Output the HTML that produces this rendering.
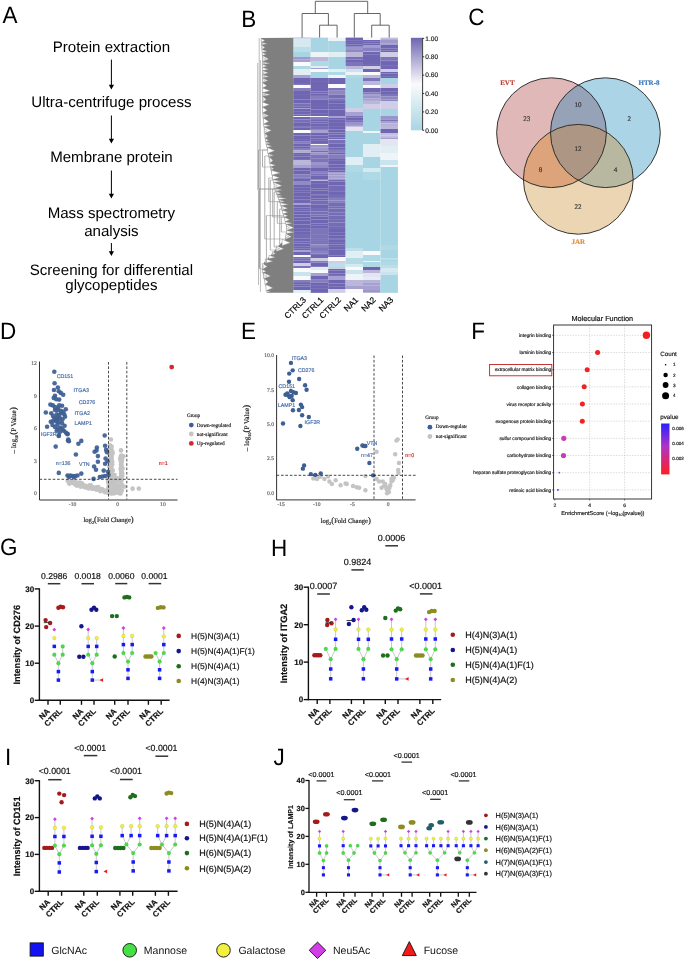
<!DOCTYPE html>
<html><head><meta charset="utf-8"><title>Figure</title>
<style>html,body{margin:0;padding:0;background:#fff;} body{width:685px;height:960px;overflow:hidden;} svg{display:block;text-rendering:geometricPrecision;will-change:transform;}</style>
</head><body>
<svg width="685" height="960" viewBox="0 0 685 960">
<rect x="0" y="0" width="685" height="960" fill="#fff"/>
<text transform="translate(2.50,23.00) scale(1,1.05)" x="0" y="0" font-size="22.5" fill="#000" font-family='"Liberation Sans", sans-serif'>A</text>
<text x="111.40" y="52.40" font-size="15.1" text-anchor="middle" font-weight="normal" fill="#000" font-family='"Liberation Sans", sans-serif' >Protein extraction</text>
<text x="111.40" y="107.40" font-size="15.1" text-anchor="middle" font-weight="normal" fill="#000" font-family='"Liberation Sans", sans-serif' >Ultra-centrifuge process</text>
<text x="111.40" y="162.00" font-size="15.1" text-anchor="middle" font-weight="normal" fill="#000" font-family='"Liberation Sans", sans-serif' >Membrane protein</text>
<text x="111.40" y="217.60" font-size="15.1" text-anchor="middle" font-weight="normal" fill="#000" font-family='"Liberation Sans", sans-serif' >Mass spectrometry</text>
<text x="111.40" y="236.00" font-size="15.1" text-anchor="middle" font-weight="normal" fill="#000" font-family='"Liberation Sans", sans-serif' >analysis</text>
<text x="111.40" y="275.00" font-size="15.1" text-anchor="middle" font-weight="normal" fill="#000" font-family='"Liberation Sans", sans-serif' >Screening for differential</text>
<text x="111.40" y="290.00" font-size="15.1" text-anchor="middle" font-weight="normal" fill="#000" font-family='"Liberation Sans", sans-serif' >glycopeptides</text>
<line x1="111.40" y1="59.60" x2="111.40" y2="86.50" stroke="#000" stroke-width="1" />
<path d="M108.80,84.70 L114.00,84.70 L111.40,89.50 Z" fill="#000"/>
<line x1="111.40" y1="115.50" x2="111.40" y2="140.50" stroke="#000" stroke-width="1" />
<path d="M108.80,138.70 L114.00,138.70 L111.40,143.50 Z" fill="#000"/>
<line x1="111.40" y1="170.50" x2="111.40" y2="195.50" stroke="#000" stroke-width="1" />
<path d="M108.80,193.70 L114.00,193.70 L111.40,198.50 Z" fill="#000"/>
<line x1="111.40" y1="243.00" x2="111.40" y2="253.00" stroke="#000" stroke-width="1" />
<path d="M108.80,251.20 L114.00,251.20 L111.40,256.00 Z" fill="#000"/>
<text transform="translate(241.20,26.80) scale(1,1.05)" x="0" y="0" font-size="22.5" fill="#000" font-family='"Liberation Sans", sans-serif'>B</text>
<rect x="293.20" y="37.60" width="17.55" height="0.95" fill="#a6a1d0" stroke="none" stroke-width="0" />
<rect x="293.20" y="38.50" width="17.55" height="8.55" fill="#d5e9f1" stroke="none" stroke-width="0" />
<rect x="293.20" y="47.00" width="17.55" height="5.05" fill="#bcdee9" stroke="none" stroke-width="0" />
<rect x="293.20" y="52.00" width="17.55" height="5.05" fill="#a8d5e3" stroke="none" stroke-width="0" />
<rect x="293.20" y="57.00" width="17.55" height="2.68" fill="#9e98cb" stroke="none" stroke-width="0" />
<rect x="293.20" y="59.63" width="17.55" height="2.42" fill="#a6a1d0" stroke="none" stroke-width="0" />
<rect x="293.20" y="62.00" width="17.55" height="4.05" fill="#fafafc" stroke="none" stroke-width="0" />
<rect x="293.20" y="66.00" width="17.55" height="3.05" fill="#b0d9e6" stroke="none" stroke-width="0" />
<rect x="293.20" y="69.00" width="17.55" height="6.05" fill="#e1eff4" stroke="none" stroke-width="0" />
<rect x="293.20" y="75.00" width="17.55" height="3.05" fill="#a6a1d0" stroke="none" stroke-width="0" />
<rect x="293.20" y="78.00" width="17.55" height="2.01" fill="#6e66b2" stroke="none" stroke-width="0" />
<rect x="293.20" y="79.96" width="17.55" height="3.12" fill="#6e66b2" stroke="none" stroke-width="0" />
<rect x="293.20" y="83.04" width="17.55" height="1.79" fill="#6e66b2" stroke="none" stroke-width="0" />
<rect x="293.20" y="84.77" width="17.55" height="0.28" fill="#6e66b2" stroke="none" stroke-width="0" />
<rect x="293.20" y="85.00" width="17.55" height="3.05" fill="#fafafc" stroke="none" stroke-width="0" />
<rect x="293.20" y="88.00" width="17.55" height="3.04" fill="#847ebe" stroke="none" stroke-width="0" />
<rect x="293.20" y="90.99" width="17.55" height="3.96" fill="#6e66b2" stroke="none" stroke-width="0" />
<rect x="293.20" y="94.90" width="17.55" height="3.11" fill="#6e66b2" stroke="none" stroke-width="0" />
<rect x="293.20" y="97.96" width="17.55" height="1.70" fill="#6e66b2" stroke="none" stroke-width="0" />
<rect x="293.20" y="99.61" width="17.55" height="3.75" fill="#6e66b2" stroke="none" stroke-width="0" />
<rect x="293.20" y="103.31" width="17.55" height="3.50" fill="#7870b7" stroke="none" stroke-width="0" />
<rect x="293.20" y="106.75" width="17.55" height="1.30" fill="#6e66b2" stroke="none" stroke-width="0" />
<rect x="293.20" y="108.00" width="17.55" height="1.05" fill="#a6a1d0" stroke="none" stroke-width="0" />
<rect x="293.20" y="109.00" width="17.55" height="2.85" fill="#6e66b2" stroke="none" stroke-width="0" />
<rect x="293.20" y="111.80" width="17.55" height="2.80" fill="#6e66b2" stroke="none" stroke-width="0" />
<rect x="293.20" y="114.55" width="17.55" height="1.50" fill="#6e66b2" stroke="none" stroke-width="0" />
<rect x="293.20" y="116.00" width="17.55" height="1.05" fill="#fafafc" stroke="none" stroke-width="0" />
<rect x="293.20" y="117.00" width="17.55" height="2.57" fill="#6e66b2" stroke="none" stroke-width="0" />
<rect x="293.20" y="119.52" width="17.55" height="3.32" fill="#7870b7" stroke="none" stroke-width="0" />
<rect x="293.20" y="122.79" width="17.55" height="3.44" fill="#6e66b2" stroke="none" stroke-width="0" />
<rect x="293.20" y="126.18" width="17.55" height="1.62" fill="#6e66b2" stroke="none" stroke-width="0" />
<rect x="293.20" y="127.76" width="17.55" height="2.29" fill="#6e66b2" stroke="none" stroke-width="0" />
<rect x="293.20" y="130.00" width="17.55" height="3.05" fill="#fafafc" stroke="none" stroke-width="0" />
<rect x="293.20" y="133.00" width="17.55" height="2.52" fill="#6e66b2" stroke="none" stroke-width="0" />
<rect x="293.20" y="135.47" width="17.55" height="3.67" fill="#6e66b2" stroke="none" stroke-width="0" />
<rect x="293.20" y="139.08" width="17.55" height="2.08" fill="#6e66b2" stroke="none" stroke-width="0" />
<rect x="293.20" y="141.12" width="17.55" height="2.72" fill="#847ebe" stroke="none" stroke-width="0" />
<rect x="293.20" y="143.79" width="17.55" height="2.60" fill="#6e66b2" stroke="none" stroke-width="0" />
<rect x="293.20" y="146.34" width="17.55" height="1.71" fill="#6e66b2" stroke="none" stroke-width="0" />
<rect x="293.20" y="148.00" width="17.55" height="2.39" fill="#847ebe" stroke="none" stroke-width="0" />
<rect x="293.20" y="150.34" width="17.55" height="2.38" fill="#aeaad4" stroke="none" stroke-width="0" />
<rect x="293.20" y="152.67" width="17.55" height="0.38" fill="#918bc4" stroke="none" stroke-width="0" />
<rect x="293.20" y="153.00" width="17.55" height="1.89" fill="#6e66b2" stroke="none" stroke-width="0" />
<rect x="293.20" y="154.84" width="17.55" height="1.58" fill="#6e66b2" stroke="none" stroke-width="0" />
<rect x="293.20" y="156.36" width="17.55" height="3.54" fill="#6e66b2" stroke="none" stroke-width="0" />
<rect x="293.20" y="159.86" width="17.55" height="0.19" fill="#6e66b2" stroke="none" stroke-width="0" />
<rect x="293.20" y="160.00" width="17.55" height="5.05" fill="#bbb7db" stroke="none" stroke-width="0" />
<rect x="293.20" y="165.00" width="17.55" height="3.05" fill="#a6a1d0" stroke="none" stroke-width="0" />
<rect x="293.20" y="168.00" width="17.55" height="2.67" fill="#6e66b2" stroke="none" stroke-width="0" />
<rect x="293.20" y="170.62" width="17.55" height="4.01" fill="#6e66b2" stroke="none" stroke-width="0" />
<rect x="293.20" y="174.58" width="17.55" height="2.60" fill="#847ebe" stroke="none" stroke-width="0" />
<rect x="293.20" y="177.13" width="17.55" height="1.84" fill="#847ebe" stroke="none" stroke-width="0" />
<rect x="293.20" y="178.92" width="17.55" height="2.13" fill="#6e66b2" stroke="none" stroke-width="0" />
<rect x="293.20" y="181.00" width="17.55" height="4.05" fill="#918bc4" stroke="none" stroke-width="0" />
<rect x="293.20" y="185.00" width="17.55" height="2.22" fill="#6e66b2" stroke="none" stroke-width="0" />
<rect x="293.20" y="187.17" width="17.55" height="3.03" fill="#6e66b2" stroke="none" stroke-width="0" />
<rect x="293.20" y="190.16" width="17.55" height="2.08" fill="#6e66b2" stroke="none" stroke-width="0" />
<rect x="293.20" y="192.18" width="17.55" height="4.04" fill="#6e66b2" stroke="none" stroke-width="0" />
<rect x="293.20" y="196.17" width="17.55" height="3.15" fill="#6e66b2" stroke="none" stroke-width="0" />
<rect x="293.20" y="199.28" width="17.55" height="1.66" fill="#6e66b2" stroke="none" stroke-width="0" />
<rect x="293.20" y="200.88" width="17.55" height="2.08" fill="#6e66b2" stroke="none" stroke-width="0" />
<rect x="293.20" y="202.92" width="17.55" height="0.13" fill="#6e66b2" stroke="none" stroke-width="0" />
<rect x="293.20" y="203.00" width="17.55" height="2.05" fill="#a6a1d0" stroke="none" stroke-width="0" />
<rect x="293.20" y="205.00" width="17.55" height="2.37" fill="#6e66b2" stroke="none" stroke-width="0" />
<rect x="293.20" y="207.32" width="17.55" height="2.52" fill="#6e66b2" stroke="none" stroke-width="0" />
<rect x="293.20" y="209.79" width="17.55" height="1.78" fill="#6e66b2" stroke="none" stroke-width="0" />
<rect x="293.20" y="211.51" width="17.55" height="3.14" fill="#6e66b2" stroke="none" stroke-width="0" />
<rect x="293.20" y="214.60" width="17.55" height="3.05" fill="#6e66b2" stroke="none" stroke-width="0" />
<rect x="293.20" y="217.61" width="17.55" height="3.11" fill="#6e66b2" stroke="none" stroke-width="0" />
<rect x="293.20" y="220.66" width="17.55" height="3.95" fill="#6e66b2" stroke="none" stroke-width="0" />
<rect x="293.20" y="224.56" width="17.55" height="3.63" fill="#6e66b2" stroke="none" stroke-width="0" />
<rect x="293.20" y="228.14" width="17.55" height="3.72" fill="#6e66b2" stroke="none" stroke-width="0" />
<rect x="293.20" y="231.81" width="17.55" height="3.12" fill="#6e66b2" stroke="none" stroke-width="0" />
<rect x="293.20" y="234.88" width="17.55" height="3.82" fill="#746cb5" stroke="none" stroke-width="0" />
<rect x="293.20" y="238.65" width="17.55" height="3.08" fill="#6f67b3" stroke="none" stroke-width="0" />
<rect x="293.20" y="241.67" width="17.55" height="2.02" fill="#6f67b3" stroke="none" stroke-width="0" />
<rect x="293.20" y="243.65" width="17.55" height="3.12" fill="#6e66b2" stroke="none" stroke-width="0" />
<rect x="293.20" y="246.72" width="17.55" height="2.04" fill="#6e66b2" stroke="none" stroke-width="0" />
<rect x="293.20" y="248.71" width="17.55" height="1.34" fill="#6e66b2" stroke="none" stroke-width="0" />
<rect x="293.20" y="250.00" width="17.55" height="2.05" fill="#a6a1d0" stroke="none" stroke-width="0" />
<rect x="293.20" y="252.00" width="17.55" height="3.05" fill="#6e66b2" stroke="none" stroke-width="0" />
<rect x="293.20" y="255.00" width="17.55" height="2.05" fill="#fafafc" stroke="none" stroke-width="0" />
<rect x="293.20" y="257.00" width="17.55" height="1.75" fill="#746cb5" stroke="none" stroke-width="0" />
<rect x="293.20" y="258.70" width="17.55" height="1.81" fill="#746cb5" stroke="none" stroke-width="0" />
<rect x="293.20" y="260.46" width="17.55" height="2.59" fill="#6e66b2" stroke="none" stroke-width="0" />
<rect x="293.20" y="263.00" width="17.55" height="3.05" fill="#d0cee6" stroke="none" stroke-width="0" />
<rect x="293.20" y="266.00" width="17.55" height="2.05" fill="#7c75b9" stroke="none" stroke-width="0" />
<rect x="293.20" y="268.00" width="17.55" height="4.05" fill="#fafafc" stroke="none" stroke-width="0" />
<rect x="293.20" y="272.00" width="17.55" height="4.05" fill="#c9e4ed" stroke="none" stroke-width="0" />
<rect x="293.20" y="276.00" width="17.55" height="4.05" fill="#fafafc" stroke="none" stroke-width="0" />
<rect x="293.20" y="280.00" width="17.55" height="2.15" fill="#847ebe" stroke="none" stroke-width="0" />
<rect x="293.20" y="282.10" width="17.55" height="2.19" fill="#6e66b2" stroke="none" stroke-width="0" />
<rect x="293.20" y="284.24" width="17.55" height="2.28" fill="#6e66b2" stroke="none" stroke-width="0" />
<rect x="293.20" y="286.47" width="17.55" height="3.58" fill="#6e66b2" stroke="none" stroke-width="0" />
<rect x="293.20" y="290.00" width="17.55" height="2.85" fill="#e1eff4" stroke="none" stroke-width="0" />
<rect x="310.70" y="37.60" width="17.55" height="14.45" fill="#a8d5e3" stroke="none" stroke-width="0" />
<rect x="310.70" y="52.00" width="17.55" height="5.05" fill="#eef4f8" stroke="none" stroke-width="0" />
<rect x="310.70" y="57.00" width="17.55" height="4.05" fill="#bbb7db" stroke="none" stroke-width="0" />
<rect x="310.70" y="61.00" width="17.55" height="5.05" fill="#b0d9e6" stroke="none" stroke-width="0" />
<rect x="310.70" y="66.00" width="17.55" height="2.05" fill="#e1eff4" stroke="none" stroke-width="0" />
<rect x="310.70" y="68.00" width="17.55" height="1.05" fill="#a6a1d0" stroke="none" stroke-width="0" />
<rect x="310.70" y="69.00" width="17.55" height="3.05" fill="#fafafc" stroke="none" stroke-width="0" />
<rect x="310.70" y="72.00" width="17.55" height="6.05" fill="#a8d5e3" stroke="none" stroke-width="0" />
<rect x="310.70" y="78.00" width="17.55" height="3.95" fill="#6e66b2" stroke="none" stroke-width="0" />
<rect x="310.70" y="81.90" width="17.55" height="2.16" fill="#6e66b2" stroke="none" stroke-width="0" />
<rect x="310.70" y="84.00" width="17.55" height="2.01" fill="#6e66b2" stroke="none" stroke-width="0" />
<rect x="310.70" y="85.96" width="17.55" height="2.09" fill="#6e66b2" stroke="none" stroke-width="0" />
<rect x="310.70" y="88.00" width="17.55" height="3.53" fill="#6e66b2" stroke="none" stroke-width="0" />
<rect x="310.70" y="91.48" width="17.55" height="2.13" fill="#6e66b2" stroke="none" stroke-width="0" />
<rect x="310.70" y="93.56" width="17.55" height="2.35" fill="#6e66b2" stroke="none" stroke-width="0" />
<rect x="310.70" y="95.86" width="17.55" height="3.88" fill="#847ebe" stroke="none" stroke-width="0" />
<rect x="310.70" y="99.69" width="17.55" height="1.36" fill="#6e66b2" stroke="none" stroke-width="0" />
<rect x="310.70" y="101.00" width="17.55" height="2.99" fill="#6e66b2" stroke="none" stroke-width="0" />
<rect x="310.70" y="103.94" width="17.55" height="3.02" fill="#6e66b2" stroke="none" stroke-width="0" />
<rect x="310.70" y="106.92" width="17.55" height="2.60" fill="#6e66b2" stroke="none" stroke-width="0" />
<rect x="310.70" y="109.47" width="17.55" height="3.67" fill="#6e66b2" stroke="none" stroke-width="0" />
<rect x="310.70" y="113.10" width="17.55" height="2.95" fill="#6e66b2" stroke="none" stroke-width="0" />
<rect x="310.70" y="116.00" width="17.55" height="1.05" fill="#fafafc" stroke="none" stroke-width="0" />
<rect x="310.70" y="117.00" width="17.55" height="2.20" fill="#847ebe" stroke="none" stroke-width="0" />
<rect x="310.70" y="119.15" width="17.55" height="2.33" fill="#6e66b2" stroke="none" stroke-width="0" />
<rect x="310.70" y="121.43" width="17.55" height="2.25" fill="#6e66b2" stroke="none" stroke-width="0" />
<rect x="310.70" y="123.63" width="17.55" height="3.22" fill="#6e66b2" stroke="none" stroke-width="0" />
<rect x="310.70" y="126.79" width="17.55" height="2.63" fill="#7870b7" stroke="none" stroke-width="0" />
<rect x="310.70" y="129.37" width="17.55" height="0.68" fill="#6e66b2" stroke="none" stroke-width="0" />
<rect x="310.70" y="130.00" width="17.55" height="3.05" fill="#a6a1d0" stroke="none" stroke-width="0" />
<rect x="310.70" y="133.00" width="17.55" height="2.60" fill="#6e66b2" stroke="none" stroke-width="0" />
<rect x="310.70" y="135.55" width="17.55" height="2.82" fill="#6f67b3" stroke="none" stroke-width="0" />
<rect x="310.70" y="138.31" width="17.55" height="2.54" fill="#6e66b2" stroke="none" stroke-width="0" />
<rect x="310.70" y="140.81" width="17.55" height="2.32" fill="#6e66b2" stroke="none" stroke-width="0" />
<rect x="310.70" y="143.08" width="17.55" height="0.97" fill="#6e66b2" stroke="none" stroke-width="0" />
<rect x="310.70" y="144.00" width="17.55" height="1.05" fill="#fafafc" stroke="none" stroke-width="0" />
<rect x="310.70" y="145.00" width="17.55" height="2.29" fill="#9994c9" stroke="none" stroke-width="0" />
<rect x="310.70" y="147.24" width="17.55" height="3.44" fill="#9994c9" stroke="none" stroke-width="0" />
<rect x="310.70" y="150.64" width="17.55" height="1.77" fill="#746cb5" stroke="none" stroke-width="0" />
<rect x="310.70" y="152.36" width="17.55" height="2.44" fill="#9994c9" stroke="none" stroke-width="0" />
<rect x="310.70" y="154.75" width="17.55" height="3.50" fill="#7c75b9" stroke="none" stroke-width="0" />
<rect x="310.70" y="158.20" width="17.55" height="3.87" fill="#7c75b9" stroke="none" stroke-width="0" />
<rect x="310.70" y="162.02" width="17.55" height="2.83" fill="#9994c9" stroke="none" stroke-width="0" />
<rect x="310.70" y="164.80" width="17.55" height="0.25" fill="#746cb5" stroke="none" stroke-width="0" />
<rect x="310.70" y="165.00" width="17.55" height="3.05" fill="#918bc4" stroke="none" stroke-width="0" />
<rect x="310.70" y="168.00" width="17.55" height="3.79" fill="#6e66b2" stroke="none" stroke-width="0" />
<rect x="310.70" y="171.74" width="17.55" height="1.63" fill="#847ebe" stroke="none" stroke-width="0" />
<rect x="310.70" y="173.31" width="17.55" height="2.42" fill="#7870b7" stroke="none" stroke-width="0" />
<rect x="310.70" y="175.69" width="17.55" height="3.82" fill="#6e66b2" stroke="none" stroke-width="0" />
<rect x="310.70" y="179.46" width="17.55" height="0.59" fill="#6e66b2" stroke="none" stroke-width="0" />
<rect x="310.70" y="180.00" width="17.55" height="1.05" fill="#bbb7db" stroke="none" stroke-width="0" />
<rect x="310.70" y="181.00" width="17.55" height="2.89" fill="#6e66b2" stroke="none" stroke-width="0" />
<rect x="310.70" y="183.84" width="17.55" height="3.19" fill="#6e66b2" stroke="none" stroke-width="0" />
<rect x="310.70" y="186.98" width="17.55" height="1.68" fill="#6e66b2" stroke="none" stroke-width="0" />
<rect x="310.70" y="188.61" width="17.55" height="1.85" fill="#6e66b2" stroke="none" stroke-width="0" />
<rect x="310.70" y="190.41" width="17.55" height="3.85" fill="#6e66b2" stroke="none" stroke-width="0" />
<rect x="310.70" y="194.22" width="17.55" height="1.66" fill="#6e66b2" stroke="none" stroke-width="0" />
<rect x="310.70" y="195.82" width="17.55" height="2.80" fill="#6e66b2" stroke="none" stroke-width="0" />
<rect x="310.70" y="198.57" width="17.55" height="1.89" fill="#6e66b2" stroke="none" stroke-width="0" />
<rect x="310.70" y="200.41" width="17.55" height="4.03" fill="#746cb5" stroke="none" stroke-width="0" />
<rect x="310.70" y="204.39" width="17.55" height="3.70" fill="#6e66b2" stroke="none" stroke-width="0" />
<rect x="310.70" y="208.03" width="17.55" height="3.37" fill="#746cb5" stroke="none" stroke-width="0" />
<rect x="310.70" y="211.35" width="17.55" height="3.34" fill="#7870b7" stroke="none" stroke-width="0" />
<rect x="310.70" y="214.64" width="17.55" height="1.83" fill="#7870b7" stroke="none" stroke-width="0" />
<rect x="310.70" y="216.41" width="17.55" height="3.07" fill="#6e66b2" stroke="none" stroke-width="0" />
<rect x="310.70" y="219.43" width="17.55" height="1.60" fill="#6e66b2" stroke="none" stroke-width="0" />
<rect x="310.70" y="220.98" width="17.55" height="2.43" fill="#6e66b2" stroke="none" stroke-width="0" />
<rect x="310.70" y="223.36" width="17.55" height="2.40" fill="#6e66b2" stroke="none" stroke-width="0" />
<rect x="310.70" y="225.71" width="17.55" height="3.12" fill="#6e66b2" stroke="none" stroke-width="0" />
<rect x="310.70" y="228.78" width="17.55" height="0.27" fill="#6e66b2" stroke="none" stroke-width="0" />
<rect x="310.70" y="229.00" width="17.55" height="1.99" fill="#7c75b9" stroke="none" stroke-width="0" />
<rect x="310.70" y="230.94" width="17.55" height="3.97" fill="#7c75b9" stroke="none" stroke-width="0" />
<rect x="310.70" y="234.86" width="17.55" height="3.25" fill="#7c75b9" stroke="none" stroke-width="0" />
<rect x="310.70" y="238.06" width="17.55" height="2.89" fill="#7c75b9" stroke="none" stroke-width="0" />
<rect x="310.70" y="240.89" width="17.55" height="3.72" fill="#7c75b9" stroke="none" stroke-width="0" />
<rect x="310.70" y="244.56" width="17.55" height="1.61" fill="#8d87c2" stroke="none" stroke-width="0" />
<rect x="310.70" y="246.12" width="17.55" height="1.79" fill="#7c75b9" stroke="none" stroke-width="0" />
<rect x="310.70" y="247.86" width="17.55" height="3.10" fill="#7c75b9" stroke="none" stroke-width="0" />
<rect x="310.70" y="250.91" width="17.55" height="2.41" fill="#8982c0" stroke="none" stroke-width="0" />
<rect x="310.70" y="253.27" width="17.55" height="1.78" fill="#7c75b9" stroke="none" stroke-width="0" />
<rect x="310.70" y="255.00" width="17.55" height="3.05" fill="#6e66b2" stroke="none" stroke-width="0" />
<rect x="310.70" y="258.00" width="17.55" height="3.05" fill="#d0cee6" stroke="none" stroke-width="0" />
<rect x="310.70" y="261.00" width="17.55" height="1.65" fill="#847ebe" stroke="none" stroke-width="0" />
<rect x="310.70" y="262.60" width="17.55" height="3.65" fill="#6e66b2" stroke="none" stroke-width="0" />
<rect x="310.70" y="266.20" width="17.55" height="0.85" fill="#6e66b2" stroke="none" stroke-width="0" />
<rect x="310.70" y="267.00" width="17.55" height="3.05" fill="#e1eff4" stroke="none" stroke-width="0" />
<rect x="310.70" y="270.00" width="17.55" height="3.05" fill="#fafafc" stroke="none" stroke-width="0" />
<rect x="310.70" y="273.00" width="17.55" height="3.05" fill="#a6a1d0" stroke="none" stroke-width="0" />
<rect x="310.70" y="276.00" width="17.55" height="3.14" fill="#6e66b2" stroke="none" stroke-width="0" />
<rect x="310.70" y="279.09" width="17.55" height="3.43" fill="#847ebe" stroke="none" stroke-width="0" />
<rect x="310.70" y="282.46" width="17.55" height="2.71" fill="#6e66b2" stroke="none" stroke-width="0" />
<rect x="310.70" y="285.12" width="17.55" height="3.77" fill="#6e66b2" stroke="none" stroke-width="0" />
<rect x="310.70" y="288.85" width="17.55" height="2.22" fill="#6e66b2" stroke="none" stroke-width="0" />
<rect x="310.70" y="291.01" width="17.55" height="1.84" fill="#6e66b2" stroke="none" stroke-width="0" />
<rect x="328.20" y="37.60" width="17.45" height="3.45" fill="#eef4f8" stroke="none" stroke-width="0" />
<rect x="328.20" y="41.00" width="17.45" height="11.05" fill="#a8d5e3" stroke="none" stroke-width="0" />
<rect x="328.20" y="52.00" width="17.45" height="5.05" fill="#e1eff4" stroke="none" stroke-width="0" />
<rect x="328.20" y="57.00" width="17.45" height="12.05" fill="#a8d5e3" stroke="none" stroke-width="0" />
<rect x="328.20" y="69.00" width="17.45" height="3.05" fill="#e1eff4" stroke="none" stroke-width="0" />
<rect x="328.20" y="72.00" width="17.45" height="3.05" fill="#b0d9e6" stroke="none" stroke-width="0" />
<rect x="328.20" y="75.00" width="17.45" height="3.05" fill="#eef4f8" stroke="none" stroke-width="0" />
<rect x="328.20" y="78.00" width="17.45" height="2.98" fill="#6e66b2" stroke="none" stroke-width="0" />
<rect x="328.20" y="80.93" width="17.45" height="3.12" fill="#6e66b2" stroke="none" stroke-width="0" />
<rect x="328.20" y="84.00" width="17.45" height="4.05" fill="#fafafc" stroke="none" stroke-width="0" />
<rect x="328.20" y="88.00" width="17.45" height="2.75" fill="#7c75b9" stroke="none" stroke-width="0" />
<rect x="328.20" y="90.70" width="17.45" height="4.00" fill="#8d87c2" stroke="none" stroke-width="0" />
<rect x="328.20" y="94.65" width="17.45" height="3.97" fill="#746cb5" stroke="none" stroke-width="0" />
<rect x="328.20" y="98.56" width="17.45" height="2.49" fill="#7c75b9" stroke="none" stroke-width="0" />
<rect x="328.20" y="101.00" width="17.45" height="2.30" fill="#6e66b2" stroke="none" stroke-width="0" />
<rect x="328.20" y="103.25" width="17.45" height="2.85" fill="#6e66b2" stroke="none" stroke-width="0" />
<rect x="328.20" y="106.05" width="17.45" height="3.41" fill="#6f67b3" stroke="none" stroke-width="0" />
<rect x="328.20" y="109.41" width="17.45" height="3.59" fill="#6e66b2" stroke="none" stroke-width="0" />
<rect x="328.20" y="112.94" width="17.45" height="3.11" fill="#6e66b2" stroke="none" stroke-width="0" />
<rect x="328.20" y="116.00" width="17.45" height="2.05" fill="#a6a1d0" stroke="none" stroke-width="0" />
<rect x="328.20" y="118.00" width="17.45" height="1.84" fill="#6e66b2" stroke="none" stroke-width="0" />
<rect x="328.20" y="119.79" width="17.45" height="2.35" fill="#6e66b2" stroke="none" stroke-width="0" />
<rect x="328.20" y="122.09" width="17.45" height="4.04" fill="#6e66b2" stroke="none" stroke-width="0" />
<rect x="328.20" y="126.08" width="17.45" height="3.42" fill="#6e66b2" stroke="none" stroke-width="0" />
<rect x="328.20" y="129.45" width="17.45" height="3.18" fill="#6e66b2" stroke="none" stroke-width="0" />
<rect x="328.20" y="132.59" width="17.45" height="0.46" fill="#7870b7" stroke="none" stroke-width="0" />
<rect x="328.20" y="133.00" width="17.45" height="1.57" fill="#6e66b2" stroke="none" stroke-width="0" />
<rect x="328.20" y="134.52" width="17.45" height="2.94" fill="#6f67b3" stroke="none" stroke-width="0" />
<rect x="328.20" y="137.40" width="17.45" height="1.65" fill="#6e66b2" stroke="none" stroke-width="0" />
<rect x="328.20" y="139.00" width="17.45" height="1.05" fill="#bbb7db" stroke="none" stroke-width="0" />
<rect x="328.20" y="140.00" width="17.45" height="3.75" fill="#7870b7" stroke="none" stroke-width="0" />
<rect x="328.20" y="143.70" width="17.45" height="3.73" fill="#6e66b2" stroke="none" stroke-width="0" />
<rect x="328.20" y="147.38" width="17.45" height="1.71" fill="#6e66b2" stroke="none" stroke-width="0" />
<rect x="328.20" y="149.04" width="17.45" height="1.85" fill="#7870b7" stroke="none" stroke-width="0" />
<rect x="328.20" y="150.84" width="17.45" height="1.56" fill="#847ebe" stroke="none" stroke-width="0" />
<rect x="328.20" y="152.34" width="17.45" height="2.24" fill="#6e66b2" stroke="none" stroke-width="0" />
<rect x="328.20" y="154.53" width="17.45" height="3.72" fill="#847ebe" stroke="none" stroke-width="0" />
<rect x="328.20" y="158.20" width="17.45" height="2.69" fill="#6e66b2" stroke="none" stroke-width="0" />
<rect x="328.20" y="160.85" width="17.45" height="3.52" fill="#6e66b2" stroke="none" stroke-width="0" />
<rect x="328.20" y="164.32" width="17.45" height="0.73" fill="#6e66b2" stroke="none" stroke-width="0" />
<rect x="328.20" y="165.00" width="17.45" height="2.77" fill="#6e66b2" stroke="none" stroke-width="0" />
<rect x="328.20" y="167.72" width="17.45" height="2.75" fill="#6e66b2" stroke="none" stroke-width="0" />
<rect x="328.20" y="170.42" width="17.45" height="1.63" fill="#6e66b2" stroke="none" stroke-width="0" />
<rect x="328.20" y="172.00" width="17.45" height="1.83" fill="#a6a1d0" stroke="none" stroke-width="0" />
<rect x="328.20" y="173.78" width="17.45" height="1.59" fill="#9e98cb" stroke="none" stroke-width="0" />
<rect x="328.20" y="175.31" width="17.45" height="3.36" fill="#a6a1d0" stroke="none" stroke-width="0" />
<rect x="328.20" y="178.62" width="17.45" height="1.43" fill="#9e98cb" stroke="none" stroke-width="0" />
<rect x="328.20" y="180.00" width="17.45" height="1.63" fill="#746cb5" stroke="none" stroke-width="0" />
<rect x="328.20" y="181.58" width="17.45" height="3.76" fill="#6e66b2" stroke="none" stroke-width="0" />
<rect x="328.20" y="185.30" width="17.45" height="2.71" fill="#746cb5" stroke="none" stroke-width="0" />
<rect x="328.20" y="187.95" width="17.45" height="3.92" fill="#746cb5" stroke="none" stroke-width="0" />
<rect x="328.20" y="191.82" width="17.45" height="2.20" fill="#6e66b2" stroke="none" stroke-width="0" />
<rect x="328.20" y="193.97" width="17.45" height="3.95" fill="#746cb5" stroke="none" stroke-width="0" />
<rect x="328.20" y="197.88" width="17.45" height="2.52" fill="#847ebe" stroke="none" stroke-width="0" />
<rect x="328.20" y="200.35" width="17.45" height="2.54" fill="#847ebe" stroke="none" stroke-width="0" />
<rect x="328.20" y="202.84" width="17.45" height="3.94" fill="#746cb5" stroke="none" stroke-width="0" />
<rect x="328.20" y="206.73" width="17.45" height="1.81" fill="#746cb5" stroke="none" stroke-width="0" />
<rect x="328.20" y="208.50" width="17.45" height="3.84" fill="#746cb5" stroke="none" stroke-width="0" />
<rect x="328.20" y="212.28" width="17.45" height="3.11" fill="#746cb5" stroke="none" stroke-width="0" />
<rect x="328.20" y="215.34" width="17.45" height="3.82" fill="#746cb5" stroke="none" stroke-width="0" />
<rect x="328.20" y="219.11" width="17.45" height="3.45" fill="#746cb5" stroke="none" stroke-width="0" />
<rect x="328.20" y="222.51" width="17.45" height="3.63" fill="#746cb5" stroke="none" stroke-width="0" />
<rect x="328.20" y="226.09" width="17.45" height="2.96" fill="#746cb5" stroke="none" stroke-width="0" />
<rect x="328.20" y="229.00" width="17.45" height="3.86" fill="#6e66b2" stroke="none" stroke-width="0" />
<rect x="328.20" y="232.81" width="17.45" height="2.47" fill="#6e66b2" stroke="none" stroke-width="0" />
<rect x="328.20" y="235.23" width="17.45" height="3.02" fill="#6e66b2" stroke="none" stroke-width="0" />
<rect x="328.20" y="238.20" width="17.45" height="1.64" fill="#6e66b2" stroke="none" stroke-width="0" />
<rect x="328.20" y="239.79" width="17.45" height="3.11" fill="#6e66b2" stroke="none" stroke-width="0" />
<rect x="328.20" y="242.85" width="17.45" height="1.58" fill="#6e66b2" stroke="none" stroke-width="0" />
<rect x="328.20" y="244.38" width="17.45" height="1.78" fill="#6e66b2" stroke="none" stroke-width="0" />
<rect x="328.20" y="246.11" width="17.45" height="3.67" fill="#6e66b2" stroke="none" stroke-width="0" />
<rect x="328.20" y="249.73" width="17.45" height="2.32" fill="#6e66b2" stroke="none" stroke-width="0" />
<rect x="328.20" y="252.00" width="17.45" height="3.71" fill="#6e66b2" stroke="none" stroke-width="0" />
<rect x="328.20" y="255.66" width="17.45" height="1.39" fill="#6e66b2" stroke="none" stroke-width="0" />
<rect x="328.20" y="257.00" width="17.45" height="4.05" fill="#fafafc" stroke="none" stroke-width="0" />
<rect x="328.20" y="261.00" width="17.45" height="2.05" fill="#d0cee6" stroke="none" stroke-width="0" />
<rect x="328.20" y="263.00" width="17.45" height="4.05" fill="#bcdee9" stroke="none" stroke-width="0" />
<rect x="328.20" y="267.00" width="17.45" height="2.05" fill="#d0cee6" stroke="none" stroke-width="0" />
<rect x="328.20" y="269.00" width="17.45" height="1.71" fill="#6e66b2" stroke="none" stroke-width="0" />
<rect x="328.20" y="270.66" width="17.45" height="2.98" fill="#6e66b2" stroke="none" stroke-width="0" />
<rect x="328.20" y="273.60" width="17.45" height="1.57" fill="#6e66b2" stroke="none" stroke-width="0" />
<rect x="328.20" y="275.11" width="17.45" height="0.94" fill="#6e66b2" stroke="none" stroke-width="0" />
<rect x="328.20" y="276.00" width="17.45" height="4.05" fill="#a6a1d0" stroke="none" stroke-width="0" />
<rect x="328.20" y="280.00" width="17.45" height="3.58" fill="#6e66b2" stroke="none" stroke-width="0" />
<rect x="328.20" y="283.53" width="17.45" height="2.69" fill="#6e66b2" stroke="none" stroke-width="0" />
<rect x="328.20" y="286.18" width="17.45" height="2.87" fill="#6e66b2" stroke="none" stroke-width="0" />
<rect x="328.20" y="289.00" width="17.45" height="3.85" fill="#d0cee6" stroke="none" stroke-width="0" />
<rect x="345.60" y="37.60" width="17.45" height="2.57" fill="#6e66b2" stroke="none" stroke-width="0" />
<rect x="345.60" y="40.12" width="17.45" height="1.99" fill="#6e66b2" stroke="none" stroke-width="0" />
<rect x="345.60" y="42.06" width="17.45" height="2.27" fill="#6e66b2" stroke="none" stroke-width="0" />
<rect x="345.60" y="44.29" width="17.45" height="0.76" fill="#6e66b2" stroke="none" stroke-width="0" />
<rect x="345.60" y="45.00" width="17.45" height="1.80" fill="#6f67b3" stroke="none" stroke-width="0" />
<rect x="345.60" y="46.75" width="17.45" height="3.28" fill="#9994c9" stroke="none" stroke-width="0" />
<rect x="345.60" y="49.98" width="17.45" height="2.07" fill="#8d87c2" stroke="none" stroke-width="0" />
<rect x="345.60" y="52.00" width="17.45" height="5.05" fill="#bbb7db" stroke="none" stroke-width="0" />
<rect x="345.60" y="57.00" width="17.45" height="2.45" fill="#7870b7" stroke="none" stroke-width="0" />
<rect x="345.60" y="59.40" width="17.45" height="2.65" fill="#6e66b2" stroke="none" stroke-width="0" />
<rect x="345.60" y="62.00" width="17.45" height="4.05" fill="#7c75b9" stroke="none" stroke-width="0" />
<rect x="345.60" y="66.00" width="17.45" height="3.05" fill="#bbb7db" stroke="none" stroke-width="0" />
<rect x="345.60" y="69.00" width="17.45" height="3.05" fill="#c9e4ed" stroke="none" stroke-width="0" />
<rect x="345.60" y="72.00" width="17.45" height="3.05" fill="#eef4f8" stroke="none" stroke-width="0" />
<rect x="345.60" y="75.00" width="17.45" height="3.05" fill="#b0d9e6" stroke="none" stroke-width="0" />
<rect x="345.60" y="78.00" width="17.45" height="30.05" fill="#a8d5e3" stroke="none" stroke-width="0" />
<rect x="345.60" y="108.00" width="17.45" height="4.05" fill="#d0cee6" stroke="none" stroke-width="0" />
<rect x="345.60" y="112.00" width="17.45" height="4.05" fill="#a6a1d0" stroke="none" stroke-width="0" />
<rect x="345.60" y="116.00" width="17.45" height="1.83" fill="#7c75b9" stroke="none" stroke-width="0" />
<rect x="345.60" y="117.78" width="17.45" height="3.02" fill="#6f67b3" stroke="none" stroke-width="0" />
<rect x="345.60" y="120.75" width="17.45" height="1.30" fill="#7c75b9" stroke="none" stroke-width="0" />
<rect x="345.60" y="122.00" width="17.45" height="3.91" fill="#9994c9" stroke="none" stroke-width="0" />
<rect x="345.60" y="125.86" width="17.45" height="1.19" fill="#c3c0df" stroke="none" stroke-width="0" />
<rect x="345.60" y="127.00" width="17.45" height="4.05" fill="#e5e4f1" stroke="none" stroke-width="0" />
<rect x="345.60" y="131.00" width="17.45" height="26.05" fill="#a8d5e3" stroke="none" stroke-width="0" />
<rect x="345.60" y="157.00" width="17.45" height="8.05" fill="#e1eff4" stroke="none" stroke-width="0" />
<rect x="345.60" y="165.00" width="17.45" height="7.05" fill="#b0d9e6" stroke="none" stroke-width="0" />
<rect x="345.60" y="172.00" width="17.45" height="76.05" fill="#a8d5e3" stroke="none" stroke-width="0" />
<rect x="345.60" y="248.00" width="17.45" height="3.05" fill="#bcdee9" stroke="none" stroke-width="0" />
<rect x="345.60" y="251.00" width="17.45" height="7.05" fill="#e1eff4" stroke="none" stroke-width="0" />
<rect x="345.60" y="258.00" width="17.45" height="6.05" fill="#b5dbe7" stroke="none" stroke-width="0" />
<rect x="345.60" y="264.00" width="17.45" height="3.05" fill="#d5e9f1" stroke="none" stroke-width="0" />
<rect x="345.60" y="267.00" width="17.45" height="3.05" fill="#fafafc" stroke="none" stroke-width="0" />
<rect x="345.60" y="270.00" width="17.45" height="4.05" fill="#c9e4ed" stroke="none" stroke-width="0" />
<rect x="345.60" y="274.00" width="17.45" height="6.05" fill="#eef4f8" stroke="none" stroke-width="0" />
<rect x="345.60" y="280.00" width="17.45" height="6.05" fill="#bbb7db" stroke="none" stroke-width="0" />
<rect x="345.60" y="286.00" width="17.45" height="3.05" fill="#a6a1d0" stroke="none" stroke-width="0" />
<rect x="345.60" y="289.00" width="17.45" height="3.85" fill="#fafafc" stroke="none" stroke-width="0" />
<rect x="363.00" y="37.60" width="17.55" height="2.45" fill="#fafafc" stroke="none" stroke-width="0" />
<rect x="363.00" y="40.00" width="17.55" height="1.78" fill="#6e66b2" stroke="none" stroke-width="0" />
<rect x="363.00" y="41.73" width="17.55" height="1.92" fill="#6e66b2" stroke="none" stroke-width="0" />
<rect x="363.00" y="43.60" width="17.55" height="1.45" fill="#6e66b2" stroke="none" stroke-width="0" />
<rect x="363.00" y="45.00" width="17.55" height="2.30" fill="#a29dcd" stroke="none" stroke-width="0" />
<rect x="363.00" y="47.25" width="17.55" height="3.84" fill="#8982c0" stroke="none" stroke-width="0" />
<rect x="363.00" y="51.04" width="17.55" height="1.01" fill="#aeaad4" stroke="none" stroke-width="0" />
<rect x="363.00" y="52.00" width="17.55" height="2.81" fill="#6e66b2" stroke="none" stroke-width="0" />
<rect x="363.00" y="54.76" width="17.55" height="2.29" fill="#6f67b3" stroke="none" stroke-width="0" />
<rect x="363.00" y="57.00" width="17.55" height="4.02" fill="#6e66b2" stroke="none" stroke-width="0" />
<rect x="363.00" y="60.97" width="17.55" height="3.13" fill="#6e66b2" stroke="none" stroke-width="0" />
<rect x="363.00" y="64.06" width="17.55" height="1.99" fill="#6e66b2" stroke="none" stroke-width="0" />
<rect x="363.00" y="66.00" width="17.55" height="3.05" fill="#d0cee6" stroke="none" stroke-width="0" />
<rect x="363.00" y="69.00" width="17.55" height="3.05" fill="#6e66b2" stroke="none" stroke-width="0" />
<rect x="363.00" y="72.00" width="17.55" height="3.05" fill="#fafafc" stroke="none" stroke-width="0" />
<rect x="363.00" y="75.00" width="17.55" height="3.05" fill="#bbb7db" stroke="none" stroke-width="0" />
<rect x="363.00" y="78.00" width="17.55" height="3.05" fill="#7c75b9" stroke="none" stroke-width="0" />
<rect x="363.00" y="81.00" width="17.55" height="4.05" fill="#bbb7db" stroke="none" stroke-width="0" />
<rect x="363.00" y="85.00" width="17.55" height="3.05" fill="#fafafc" stroke="none" stroke-width="0" />
<rect x="363.00" y="88.00" width="17.55" height="2.98" fill="#6e66b2" stroke="none" stroke-width="0" />
<rect x="363.00" y="90.93" width="17.55" height="1.68" fill="#6e66b2" stroke="none" stroke-width="0" />
<rect x="363.00" y="92.56" width="17.55" height="1.49" fill="#847ebe" stroke="none" stroke-width="0" />
<rect x="363.00" y="94.00" width="17.55" height="2.04" fill="#a6a1d0" stroke="none" stroke-width="0" />
<rect x="363.00" y="95.99" width="17.55" height="2.58" fill="#9994c9" stroke="none" stroke-width="0" />
<rect x="363.00" y="98.51" width="17.55" height="2.38" fill="#a6a1d0" stroke="none" stroke-width="0" />
<rect x="363.00" y="100.84" width="17.55" height="0.21" fill="#c3c0df" stroke="none" stroke-width="0" />
<rect x="363.00" y="101.00" width="17.55" height="3.05" fill="#bbb7db" stroke="none" stroke-width="0" />
<rect x="363.00" y="104.00" width="17.55" height="5.05" fill="#d0cee6" stroke="none" stroke-width="0" />
<rect x="363.00" y="109.00" width="17.55" height="22.05" fill="#a8d5e3" stroke="none" stroke-width="0" />
<rect x="363.00" y="131.00" width="17.55" height="2.05" fill="#eef4f8" stroke="none" stroke-width="0" />
<rect x="363.00" y="133.00" width="17.55" height="11.05" fill="#a8d5e3" stroke="none" stroke-width="0" />
<rect x="363.00" y="144.00" width="17.55" height="13.05" fill="#e1eff4" stroke="none" stroke-width="0" />
<rect x="363.00" y="157.00" width="17.55" height="11.05" fill="#a8d5e3" stroke="none" stroke-width="0" />
<rect x="363.00" y="168.00" width="17.55" height="4.05" fill="#d5e9f1" stroke="none" stroke-width="0" />
<rect x="363.00" y="172.00" width="17.55" height="8.05" fill="#b0d9e6" stroke="none" stroke-width="0" />
<rect x="363.00" y="180.00" width="17.55" height="71.05" fill="#a8d5e3" stroke="none" stroke-width="0" />
<rect x="363.00" y="251.00" width="17.55" height="4.05" fill="#fafafc" stroke="none" stroke-width="0" />
<rect x="363.00" y="255.00" width="17.55" height="6.05" fill="#b0d9e6" stroke="none" stroke-width="0" />
<rect x="363.00" y="261.00" width="17.55" height="1.05" fill="#eef4f8" stroke="none" stroke-width="0" />
<rect x="363.00" y="262.00" width="17.55" height="5.05" fill="#b0d9e6" stroke="none" stroke-width="0" />
<rect x="363.00" y="267.00" width="17.55" height="3.05" fill="#6e66b2" stroke="none" stroke-width="0" />
<rect x="363.00" y="270.00" width="17.55" height="3.05" fill="#bbb7db" stroke="none" stroke-width="0" />
<rect x="363.00" y="273.00" width="17.55" height="4.05" fill="#e5e4f1" stroke="none" stroke-width="0" />
<rect x="363.00" y="277.00" width="17.55" height="3.05" fill="#e1eff4" stroke="none" stroke-width="0" />
<rect x="363.00" y="280.00" width="17.55" height="2.33" fill="#b7b3d8" stroke="none" stroke-width="0" />
<rect x="363.00" y="282.28" width="17.55" height="3.10" fill="#a6a1d0" stroke="none" stroke-width="0" />
<rect x="363.00" y="285.32" width="17.55" height="2.72" fill="#a6a1d0" stroke="none" stroke-width="0" />
<rect x="363.00" y="287.99" width="17.55" height="2.10" fill="#a6a1d0" stroke="none" stroke-width="0" />
<rect x="363.00" y="290.05" width="17.55" height="2.65" fill="#9994c9" stroke="none" stroke-width="0" />
<rect x="363.00" y="292.65" width="17.55" height="0.20" fill="#c3c0df" stroke="none" stroke-width="0" />
<rect x="380.50" y="37.60" width="17.45" height="1.73" fill="#c3c0df" stroke="none" stroke-width="0" />
<rect x="380.50" y="39.28" width="17.45" height="3.86" fill="#9e98cb" stroke="none" stroke-width="0" />
<rect x="380.50" y="43.09" width="17.45" height="1.96" fill="#a6a1d0" stroke="none" stroke-width="0" />
<rect x="380.50" y="45.00" width="17.45" height="3.41" fill="#6e66b2" stroke="none" stroke-width="0" />
<rect x="380.50" y="48.36" width="17.45" height="2.01" fill="#6e66b2" stroke="none" stroke-width="0" />
<rect x="380.50" y="50.32" width="17.45" height="1.73" fill="#6e66b2" stroke="none" stroke-width="0" />
<rect x="380.50" y="52.00" width="17.45" height="5.05" fill="#d0cee6" stroke="none" stroke-width="0" />
<rect x="380.50" y="57.00" width="17.45" height="3.34" fill="#7c75b9" stroke="none" stroke-width="0" />
<rect x="380.50" y="60.29" width="17.45" height="1.76" fill="#746cb5" stroke="none" stroke-width="0" />
<rect x="380.50" y="62.00" width="17.45" height="3.15" fill="#6e66b2" stroke="none" stroke-width="0" />
<rect x="380.50" y="65.10" width="17.45" height="2.87" fill="#6f67b3" stroke="none" stroke-width="0" />
<rect x="380.50" y="67.92" width="17.45" height="1.13" fill="#6e66b2" stroke="none" stroke-width="0" />
<rect x="380.50" y="69.00" width="17.45" height="3.05" fill="#d0cee6" stroke="none" stroke-width="0" />
<rect x="380.50" y="72.00" width="17.45" height="1.61" fill="#6e66b2" stroke="none" stroke-width="0" />
<rect x="380.50" y="73.56" width="17.45" height="3.32" fill="#6e66b2" stroke="none" stroke-width="0" />
<rect x="380.50" y="76.83" width="17.45" height="1.22" fill="#6e66b2" stroke="none" stroke-width="0" />
<rect x="380.50" y="78.00" width="17.45" height="6.05" fill="#a8d5e3" stroke="none" stroke-width="0" />
<rect x="380.50" y="84.00" width="17.45" height="4.05" fill="#d0cee6" stroke="none" stroke-width="0" />
<rect x="380.50" y="88.00" width="17.45" height="3.22" fill="#6e66b2" stroke="none" stroke-width="0" />
<rect x="380.50" y="91.17" width="17.45" height="2.88" fill="#6e66b2" stroke="none" stroke-width="0" />
<rect x="380.50" y="94.00" width="17.45" height="2.28" fill="#7c75b9" stroke="none" stroke-width="0" />
<rect x="380.50" y="96.23" width="17.45" height="3.44" fill="#8d87c2" stroke="none" stroke-width="0" />
<rect x="380.50" y="99.62" width="17.45" height="1.43" fill="#8d87c2" stroke="none" stroke-width="0" />
<rect x="380.50" y="101.00" width="17.45" height="8.05" fill="#d0cee6" stroke="none" stroke-width="0" />
<rect x="380.50" y="109.00" width="17.45" height="7.05" fill="#a8d5e3" stroke="none" stroke-width="0" />
<rect x="380.50" y="116.00" width="17.45" height="3.53" fill="#9994c9" stroke="none" stroke-width="0" />
<rect x="380.50" y="119.48" width="17.45" height="1.57" fill="#7c75b9" stroke="none" stroke-width="0" />
<rect x="380.50" y="121.00" width="17.45" height="2.56" fill="#a6a1d0" stroke="none" stroke-width="0" />
<rect x="380.50" y="123.51" width="17.45" height="2.54" fill="#b7b3d8" stroke="none" stroke-width="0" />
<rect x="380.50" y="126.00" width="17.45" height="3.05" fill="#bbb7db" stroke="none" stroke-width="0" />
<rect x="380.50" y="129.00" width="17.45" height="4.05" fill="#6e66b2" stroke="none" stroke-width="0" />
<rect x="380.50" y="133.00" width="17.45" height="2.73" fill="#c3c0df" stroke="none" stroke-width="0" />
<rect x="380.50" y="135.68" width="17.45" height="1.69" fill="#c3c0df" stroke="none" stroke-width="0" />
<rect x="380.50" y="137.33" width="17.45" height="1.72" fill="#a6a1d0" stroke="none" stroke-width="0" />
<rect x="380.50" y="139.00" width="17.45" height="7.05" fill="#e5e4f1" stroke="none" stroke-width="0" />
<rect x="380.50" y="146.00" width="17.45" height="7.05" fill="#e1eff4" stroke="none" stroke-width="0" />
<rect x="380.50" y="153.00" width="17.45" height="7.05" fill="#eef4f8" stroke="none" stroke-width="0" />
<rect x="380.50" y="160.00" width="17.45" height="5.05" fill="#c9e4ed" stroke="none" stroke-width="0" />
<rect x="380.50" y="165.00" width="17.45" height="2.05" fill="#eef4f8" stroke="none" stroke-width="0" />
<rect x="380.50" y="167.00" width="17.45" height="78.05" fill="#a8d5e3" stroke="none" stroke-width="0" />
<rect x="380.50" y="245.00" width="17.45" height="5.05" fill="#b0d9e6" stroke="none" stroke-width="0" />
<rect x="380.50" y="250.00" width="17.45" height="8.05" fill="#a8d5e3" stroke="none" stroke-width="0" />
<rect x="380.50" y="258.00" width="17.45" height="2.05" fill="#bcdee9" stroke="none" stroke-width="0" />
<rect x="380.50" y="260.00" width="17.45" height="1.05" fill="#a8d5e3" stroke="none" stroke-width="0" />
<rect x="380.50" y="261.00" width="17.45" height="4.05" fill="#b0d9e6" stroke="none" stroke-width="0" />
<rect x="380.50" y="265.00" width="17.45" height="3.05" fill="#bcdee9" stroke="none" stroke-width="0" />
<rect x="380.50" y="268.00" width="17.45" height="4.05" fill="#d5e9f1" stroke="none" stroke-width="0" />
<rect x="380.50" y="272.00" width="17.45" height="3.05" fill="#c9e4ed" stroke="none" stroke-width="0" />
<rect x="380.50" y="275.00" width="17.45" height="17.85" fill="#a8d5e3" stroke="none" stroke-width="0" />
<path d="M293.3,37.8 L261,38 L262.6,58 L262.6,112 L264,128 L265.4,140 L267.5,150 L271,170 L275,190 L279,200 L282,210 L285,220 L287,230 L285,240 L279,245 L275,250 L271,255 L266,260 L262.5,265 L262,270 L264.5,280 L267,292.8 L293.3,292.8 Z" fill="#7f7f7f"/>
<path d="M261.19,38.50 L264.95,40.59 L261.19,42.30 Z" fill="#fff" stroke="#8a8a8a" stroke-width="0.45"/>
<path d="M261.46,42.30 L267.13,43.83 L261.46,45.09 Z" fill="#fff" stroke="#8a8a8a" stroke-width="0.45"/>
<path d="M261.46,43.13 L263.26,43.83 L261.46,44.53" fill="none" stroke="#8a8a8a" stroke-width="0.45"/>
<path d="M261.75,45.09 L264.94,47.58 L261.75,49.61 Z" fill="#fff" stroke="#8a8a8a" stroke-width="0.45"/>
<path d="M261.75,46.44 L262.77,47.58 L261.75,48.71" fill="none" stroke="#8a8a8a" stroke-width="0.45"/>
<path d="M262.04,49.61 L267.17,51.19 L262.04,52.48 Z" fill="#fff" stroke="#8a8a8a" stroke-width="0.45"/>
<path d="M262.28,52.48 L266.39,54.13 L262.28,55.47 Z" fill="#fff" stroke="#8a8a8a" stroke-width="0.45"/>
<path d="M262.60,55.47 L268.49,58.93 L262.60,61.76 Z" fill="#fff" stroke="#8a8a8a" stroke-width="0.45"/>
<path d="M262.60,57.36 L266.09,58.93 L262.60,60.51" fill="none" stroke="#8a8a8a" stroke-width="0.45"/>
<path d="M262.60,61.76 L269.89,63.24 L262.60,64.45 Z" fill="#fff" stroke="#8a8a8a" stroke-width="0.45"/>
<path d="M262.60,62.57 L265.10,63.24 L262.60,63.91" fill="none" stroke="#8a8a8a" stroke-width="0.45"/>
<path d="M262.60,64.45 L267.14,66.08 L262.60,67.42 Z" fill="#fff" stroke="#8a8a8a" stroke-width="0.45"/>
<path d="M262.60,67.42 L268.51,69.19 L262.60,70.64 Z" fill="#fff" stroke="#8a8a8a" stroke-width="0.45"/>
<path d="M262.60,70.64 L268.34,72.84 L262.60,74.63 Z" fill="#fff" stroke="#8a8a8a" stroke-width="0.45"/>
<path d="M262.60,71.84 L264.42,72.84 L262.60,73.84" fill="none" stroke="#8a8a8a" stroke-width="0.45"/>
<path d="M262.60,74.63 L269.00,76.46 L262.60,77.96 Z" fill="#fff" stroke="#8a8a8a" stroke-width="0.45"/>
<path d="M262.60,75.63 L265.12,76.46 L262.60,77.29" fill="none" stroke="#8a8a8a" stroke-width="0.45"/>
<path d="M262.60,77.96 L267.87,80.62 L262.60,82.80 Z" fill="#fff" stroke="#8a8a8a" stroke-width="0.45"/>
<path d="M262.60,79.41 L265.43,80.62 L262.60,81.83" fill="none" stroke="#8a8a8a" stroke-width="0.45"/>
<path d="M262.60,82.80 L266.82,85.71 L262.60,88.10 Z" fill="#fff" stroke="#8a8a8a" stroke-width="0.45"/>
<path d="M262.60,88.10 L269.98,90.63 L262.60,92.70 Z" fill="#fff" stroke="#8a8a8a" stroke-width="0.45"/>
<path d="M262.60,92.70 L270.50,94.71 L262.60,96.35 Z" fill="#fff" stroke="#8a8a8a" stroke-width="0.45"/>
<path d="M262.60,93.79 L265.96,94.71 L262.60,95.62" fill="none" stroke="#8a8a8a" stroke-width="0.45"/>
<path d="M262.60,96.35 L266.36,99.39 L262.60,101.88 Z" fill="#fff" stroke="#8a8a8a" stroke-width="0.45"/>
<path d="M262.60,98.01 L263.77,99.39 L262.60,100.77" fill="none" stroke="#8a8a8a" stroke-width="0.45"/>
<path d="M262.60,101.88 L269.42,104.72 L262.60,107.05 Z" fill="#fff" stroke="#8a8a8a" stroke-width="0.45"/>
<path d="M262.60,107.05 L267.17,110.35 L262.60,113.05 Z" fill="#fff" stroke="#8a8a8a" stroke-width="0.45"/>
<path d="M262.91,113.05 L268.80,115.73 L262.91,117.93 Z" fill="#fff" stroke="#8a8a8a" stroke-width="0.45"/>
<path d="M262.91,114.51 L266.16,115.73 L262.91,116.95" fill="none" stroke="#8a8a8a" stroke-width="0.45"/>
<path d="M263.39,117.93 L268.76,121.38 L263.39,124.21 Z" fill="#fff" stroke="#8a8a8a" stroke-width="0.45"/>
<path d="M263.79,124.21 L270.30,125.72 L263.79,126.95 Z" fill="#fff" stroke="#8a8a8a" stroke-width="0.45"/>
<path d="M264.26,126.95 L271.36,130.51 L264.26,133.42 Z" fill="#fff" stroke="#8a8a8a" stroke-width="0.45"/>
<path d="M264.26,128.89 L267.21,130.51 L264.26,132.13" fill="none" stroke="#8a8a8a" stroke-width="0.45"/>
<path d="M264.93,133.42 L268.05,136.27 L264.93,138.60 Z" fill="#fff" stroke="#8a8a8a" stroke-width="0.45"/>
<path d="M264.93,134.98 L266.03,136.27 L264.93,137.56" fill="none" stroke="#8a8a8a" stroke-width="0.45"/>
<path d="M265.42,138.60 L268.71,140.23 L265.42,141.57 Z" fill="#fff" stroke="#8a8a8a" stroke-width="0.45"/>
<path d="M266.05,141.57 L270.28,143.23 L266.05,144.58 Z" fill="#fff" stroke="#8a8a8a" stroke-width="0.45"/>
<path d="M266.05,142.47 L268.43,143.23 L266.05,143.98" fill="none" stroke="#8a8a8a" stroke-width="0.45"/>
<path d="M266.66,144.58 L271.90,146.14 L266.66,147.41 Z" fill="#fff" stroke="#8a8a8a" stroke-width="0.45"/>
<path d="M267.57,147.41 L274.67,150.72 L267.57,153.44 Z" fill="#fff" stroke="#8a8a8a" stroke-width="0.45"/>
<path d="M268.42,153.44 L273.49,155.43 L268.42,157.05 Z" fill="#fff" stroke="#8a8a8a" stroke-width="0.45"/>
<path d="M268.42,154.52 L271.29,155.43 L268.42,156.33" fill="none" stroke="#8a8a8a" stroke-width="0.45"/>
<path d="M269.29,157.05 L273.04,160.53 L269.29,163.38 Z" fill="#fff" stroke="#8a8a8a" stroke-width="0.45"/>
<path d="M269.29,158.95 L270.68,160.53 L269.29,162.12" fill="none" stroke="#8a8a8a" stroke-width="0.45"/>
<path d="M270.14,163.38 L275.57,165.27 L270.14,166.82 Z" fill="#fff" stroke="#8a8a8a" stroke-width="0.45"/>
<path d="M270.75,166.82 L273.77,168.77 L270.75,170.37 Z" fill="#fff" stroke="#8a8a8a" stroke-width="0.45"/>
<path d="M270.75,167.88 L271.99,168.77 L270.75,169.66" fill="none" stroke="#8a8a8a" stroke-width="0.45"/>
<path d="M271.55,170.37 L280.32,172.99 L271.55,175.13 Z" fill="#fff" stroke="#8a8a8a" stroke-width="0.45"/>
<path d="M272.48,175.13 L279.57,177.64 L272.48,179.70 Z" fill="#fff" stroke="#8a8a8a" stroke-width="0.45"/>
<path d="M273.21,179.70 L281.71,181.19 L273.21,182.41 Z" fill="#fff" stroke="#8a8a8a" stroke-width="0.45"/>
<path d="M274.08,182.41 L282.07,185.71 L274.08,188.41 Z" fill="#fff" stroke="#8a8a8a" stroke-width="0.45"/>
<path d="M274.08,184.21 L277.44,185.71 L274.08,187.21" fill="none" stroke="#8a8a8a" stroke-width="0.45"/>
<path d="M274.97,188.41 L282.14,190.01 L274.97,191.32 Z" fill="#fff" stroke="#8a8a8a" stroke-width="0.45"/>
<path d="M274.97,189.28 L277.27,190.01 L274.97,190.74" fill="none" stroke="#8a8a8a" stroke-width="0.45"/>
<path d="M276.20,191.32 L281.01,193.16 L276.20,194.66 Z" fill="#fff" stroke="#8a8a8a" stroke-width="0.45"/>
<path d="M276.20,192.32 L277.72,193.16 L276.20,193.99" fill="none" stroke="#8a8a8a" stroke-width="0.45"/>
<path d="M277.36,194.66 L282.12,196.03 L277.36,197.16 Z" fill="#fff" stroke="#8a8a8a" stroke-width="0.45"/>
<path d="M277.36,195.41 L279.31,196.03 L277.36,196.66" fill="none" stroke="#8a8a8a" stroke-width="0.45"/>
<path d="M278.38,197.16 L286.76,198.59 L278.38,199.76 Z" fill="#fff" stroke="#8a8a8a" stroke-width="0.45"/>
<path d="M279.39,199.76 L284.65,201.46 L279.39,202.86 Z" fill="#fff" stroke="#8a8a8a" stroke-width="0.45"/>
<path d="M279.39,200.69 L281.55,201.46 L279.39,202.24" fill="none" stroke="#8a8a8a" stroke-width="0.45"/>
<path d="M280.31,202.86 L288.55,204.50 L280.31,205.85 Z" fill="#fff" stroke="#8a8a8a" stroke-width="0.45"/>
<path d="M281.41,205.85 L287.83,208.25 L281.41,210.21 Z" fill="#fff" stroke="#8a8a8a" stroke-width="0.45"/>
<path d="M281.41,207.16 L283.53,208.25 L281.41,209.34" fill="none" stroke="#8a8a8a" stroke-width="0.45"/>
<path d="M282.64,210.21 L287.97,212.34 L282.64,214.08 Z" fill="#fff" stroke="#8a8a8a" stroke-width="0.45"/>
<path d="M283.70,214.08 L287.81,215.81 L283.70,217.23 Z" fill="#fff" stroke="#8a8a8a" stroke-width="0.45"/>
<path d="M284.86,217.23 L289.59,219.76 L284.86,221.84 Z" fill="#fff" stroke="#8a8a8a" stroke-width="0.45"/>
<path d="M285.63,221.84 L292.27,223.27 L285.63,224.45 Z" fill="#fff" stroke="#8a8a8a" stroke-width="0.45"/>
<path d="M286.49,224.45 L293.97,227.72 L286.49,230.40 Z" fill="#fff" stroke="#8a8a8a" stroke-width="0.45"/>
<path d="M286.49,226.23 L289.55,227.72 L286.49,229.21" fill="none" stroke="#8a8a8a" stroke-width="0.45"/>
<path d="M286.60,230.40 L294.46,232.14 L286.60,233.57 Z" fill="#fff" stroke="#8a8a8a" stroke-width="0.45"/>
<path d="M285.72,233.57 L291.37,236.66 L285.72,239.19 Z" fill="#fff" stroke="#8a8a8a" stroke-width="0.45"/>
<path d="M285.72,235.25 L288.79,236.66 L285.72,238.06" fill="none" stroke="#8a8a8a" stroke-width="0.45"/>
<path d="M282.11,239.19 L290.38,242.73 L282.11,245.63 Z" fill="#fff" stroke="#8a8a8a" stroke-width="0.45"/>
<path d="M276.19,245.63 L283.89,248.80 L276.19,251.40 Z" fill="#fff" stroke="#8a8a8a" stroke-width="0.45"/>
<path d="M276.19,247.36 L279.70,248.80 L276.19,250.24" fill="none" stroke="#8a8a8a" stroke-width="0.45"/>
<path d="M272.31,251.40 L275.46,253.56 L272.31,255.32 Z" fill="#fff" stroke="#8a8a8a" stroke-width="0.45"/>
<path d="M272.31,252.58 L273.52,253.56 L272.31,254.54" fill="none" stroke="#8a8a8a" stroke-width="0.45"/>
<path d="M268.91,255.32 L275.37,257.27 L268.91,258.86 Z" fill="#fff" stroke="#8a8a8a" stroke-width="0.45"/>
<path d="M265.30,258.86 L272.98,261.22 L265.30,263.15 Z" fill="#fff" stroke="#8a8a8a" stroke-width="0.45"/>
<path d="M262.37,263.15 L267.19,266.62 L262.37,269.47 Z" fill="#fff" stroke="#8a8a8a" stroke-width="0.45"/>
<path d="M262.37,265.04 L264.14,266.62 L262.37,268.20" fill="none" stroke="#8a8a8a" stroke-width="0.45"/>
<path d="M262.28,269.47 L266.30,271.27 L262.28,272.75 Z" fill="#fff" stroke="#8a8a8a" stroke-width="0.45"/>
<path d="M263.45,272.75 L270.65,276.11 L263.45,278.86 Z" fill="#fff" stroke="#8a8a8a" stroke-width="0.45"/>
<path d="M263.45,274.58 L267.02,276.11 L263.45,277.63" fill="none" stroke="#8a8a8a" stroke-width="0.45"/>
<path d="M264.83,278.86 L268.26,281.99 L264.83,284.55 Z" fill="#fff" stroke="#8a8a8a" stroke-width="0.45"/>
<path d="M265.99,284.55 L272.90,287.93 L265.99,290.69 Z" fill="#fff" stroke="#8a8a8a" stroke-width="0.45"/>
<path d="M266.76,290.69 L270.66,291.69 L266.76,292.50 Z" fill="#fff" stroke="#8a8a8a" stroke-width="0.45"/>
<line x1="257.70" y1="63.00" x2="257.70" y2="190.00" stroke="#8f8f8f" stroke-width="0.6" />
<line x1="259.20" y1="38.00" x2="259.20" y2="268.00" stroke="#8f8f8f" stroke-width="0.6" />
<line x1="260.40" y1="60.00" x2="260.40" y2="292.00" stroke="#8f8f8f" stroke-width="0.6" />
<line x1="258.50" y1="190.00" x2="258.50" y2="285.00" stroke="#8f8f8f" stroke-width="0.6" />
<line x1="258.60" y1="150.00" x2="258.60" y2="189.00" stroke="#8c8c8c" stroke-width="0.7" />
<line x1="258.60" y1="150.00" x2="267.50" y2="150.00" stroke="#8c8c8c" stroke-width="0.5" />
<line x1="258.60" y1="189.00" x2="274.80" y2="189.00" stroke="#8c8c8c" stroke-width="0.5" />
<line x1="259.40" y1="189.00" x2="259.40" y2="268.80" stroke="#8c8c8c" stroke-width="0.7" />
<line x1="259.40" y1="189.00" x2="274.80" y2="189.00" stroke="#8c8c8c" stroke-width="0.5" />
<line x1="259.40" y1="268.80" x2="262.12" y2="268.80" stroke="#8c8c8c" stroke-width="0.5" />
<line x1="262.50" y1="150.00" x2="262.50" y2="167.00" stroke="#8c8c8c" stroke-width="0.7" />
<line x1="262.50" y1="150.00" x2="267.50" y2="150.00" stroke="#8c8c8c" stroke-width="0.5" />
<line x1="262.50" y1="167.00" x2="270.48" y2="167.00" stroke="#8c8c8c" stroke-width="0.5" />
<line x1="264.80" y1="156.00" x2="264.80" y2="239.00" stroke="#8c8c8c" stroke-width="0.7" />
<line x1="264.80" y1="156.00" x2="268.55" y2="156.00" stroke="#8c8c8c" stroke-width="0.5" />
<line x1="264.80" y1="239.00" x2="285.20" y2="239.00" stroke="#8c8c8c" stroke-width="0.5" />
<line x1="266.40" y1="215.60" x2="266.40" y2="265.60" stroke="#8c8c8c" stroke-width="0.7" />
<line x1="266.40" y1="215.60" x2="283.68" y2="215.60" stroke="#8c8c8c" stroke-width="0.5" />
<line x1="266.40" y1="265.60" x2="266.40" y2="265.60" stroke="#8c8c8c" stroke-width="0.5" />
<line x1="268.80" y1="178.00" x2="268.80" y2="201.60" stroke="#8c8c8c" stroke-width="0.7" />
<line x1="268.80" y1="178.00" x2="272.60" y2="178.00" stroke="#8c8c8c" stroke-width="0.5" />
<line x1="268.80" y1="201.60" x2="279.48" y2="201.60" stroke="#8c8c8c" stroke-width="0.5" />
<line x1="270.30" y1="180.00" x2="270.30" y2="250.00" stroke="#8c8c8c" stroke-width="0.7" />
<line x1="270.30" y1="180.00" x2="273.00" y2="180.00" stroke="#8c8c8c" stroke-width="0.5" />
<line x1="270.30" y1="250.00" x2="275.00" y2="250.00" stroke="#8c8c8c" stroke-width="0.5" />
<line x1="272.70" y1="189.00" x2="272.70" y2="217.00" stroke="#8c8c8c" stroke-width="0.7" />
<line x1="272.70" y1="189.00" x2="274.80" y2="189.00" stroke="#8c8c8c" stroke-width="0.5" />
<line x1="272.70" y1="217.00" x2="284.10" y2="217.00" stroke="#8c8c8c" stroke-width="0.5" />
<line x1="274.20" y1="192.00" x2="274.20" y2="247.00" stroke="#8c8c8c" stroke-width="0.7" />
<line x1="274.20" y1="192.00" x2="275.80" y2="192.00" stroke="#8c8c8c" stroke-width="0.5" />
<line x1="274.20" y1="247.00" x2="277.40" y2="247.00" stroke="#8c8c8c" stroke-width="0.5" />
<line x1="277.30" y1="201.60" x2="277.30" y2="223.40" stroke="#8c8c8c" stroke-width="0.7" />
<line x1="277.30" y1="201.60" x2="279.48" y2="201.60" stroke="#8c8c8c" stroke-width="0.5" />
<line x1="277.30" y1="223.40" x2="285.68" y2="223.40" stroke="#8c8c8c" stroke-width="0.5" />
<line x1="279.70" y1="209.00" x2="279.70" y2="244.00" stroke="#8c8c8c" stroke-width="0.7" />
<line x1="279.70" y1="209.00" x2="281.70" y2="209.00" stroke="#8c8c8c" stroke-width="0.5" />
<line x1="279.70" y1="244.00" x2="280.20" y2="244.00" stroke="#8c8c8c" stroke-width="0.5" />
<line x1="281.30" y1="217.00" x2="281.30" y2="232.00" stroke="#8c8c8c" stroke-width="0.7" />
<line x1="281.30" y1="217.00" x2="284.10" y2="217.00" stroke="#8c8c8c" stroke-width="0.5" />
<line x1="281.30" y1="232.00" x2="286.60" y2="232.00" stroke="#8c8c8c" stroke-width="0.5" />
<line x1="315.30" y1="1.30" x2="367.70" y2="1.30" stroke="#555" stroke-width="0.9" />
<line x1="315.30" y1="1.30" x2="315.30" y2="13.50" stroke="#555" stroke-width="0.9" />
<line x1="367.70" y1="1.30" x2="367.70" y2="13.50" stroke="#555" stroke-width="0.9" />
<line x1="302.10" y1="13.50" x2="328.40" y2="13.50" stroke="#555" stroke-width="0.9" />
<line x1="302.10" y1="13.50" x2="302.10" y2="37.60" stroke="#555" stroke-width="0.9" />
<line x1="328.40" y1="13.50" x2="328.40" y2="25.20" stroke="#555" stroke-width="0.9" />
<line x1="319.60" y1="25.20" x2="337.10" y2="25.20" stroke="#555" stroke-width="0.9" />
<line x1="319.60" y1="25.20" x2="319.60" y2="37.60" stroke="#555" stroke-width="0.9" />
<line x1="337.10" y1="25.20" x2="337.10" y2="37.60" stroke="#555" stroke-width="0.9" />
<line x1="354.30" y1="13.50" x2="380.20" y2="13.50" stroke="#555" stroke-width="0.9" />
<line x1="354.30" y1="13.50" x2="354.30" y2="37.60" stroke="#555" stroke-width="0.9" />
<line x1="380.20" y1="13.50" x2="380.20" y2="25.20" stroke="#555" stroke-width="0.9" />
<line x1="371.70" y1="25.20" x2="389.20" y2="25.20" stroke="#555" stroke-width="0.9" />
<line x1="371.70" y1="25.20" x2="371.70" y2="37.60" stroke="#555" stroke-width="0.9" />
<line x1="389.20" y1="25.20" x2="389.20" y2="37.60" stroke="#555" stroke-width="0.9" />
<defs><linearGradient id="cb" x1="0" y1="0" x2="0" y2="1"><stop offset="0" stop-color="#6e66b2"/><stop offset="0.5" stop-color="#fafafc"/><stop offset="1" stop-color="#a8d5e3"/></linearGradient></defs>
<rect x="410.90" y="37.80" width="11.10" height="92.50" fill="url(#cb)" stroke="none" stroke-width="0" />
<line x1="422.60" y1="37.80" x2="422.60" y2="130.30" stroke="#222" stroke-width="0.9" />
<line x1="422.60" y1="38.40" x2="424.20" y2="38.40" stroke="#222" stroke-width="0.9" />
<text x="425.30" y="40.70" font-size="6.6" text-anchor="start" font-weight="normal" fill="#222" stroke="#222" stroke-width="0.18" font-family='"Liberation Sans", sans-serif' >1.00</text>
<line x1="422.60" y1="56.78" x2="424.20" y2="56.78" stroke="#222" stroke-width="0.9" />
<text x="425.30" y="59.08" font-size="6.6" text-anchor="start" font-weight="normal" fill="#222" stroke="#222" stroke-width="0.18" font-family='"Liberation Sans", sans-serif' >0.80</text>
<line x1="422.60" y1="75.16" x2="424.20" y2="75.16" stroke="#222" stroke-width="0.9" />
<text x="425.30" y="77.46" font-size="6.6" text-anchor="start" font-weight="normal" fill="#222" stroke="#222" stroke-width="0.18" font-family='"Liberation Sans", sans-serif' >0.60</text>
<line x1="422.60" y1="93.54" x2="424.20" y2="93.54" stroke="#222" stroke-width="0.9" />
<text x="425.30" y="95.84" font-size="6.6" text-anchor="start" font-weight="normal" fill="#222" stroke="#222" stroke-width="0.18" font-family='"Liberation Sans", sans-serif' >0.40</text>
<line x1="422.60" y1="111.92" x2="424.20" y2="111.92" stroke="#222" stroke-width="0.9" />
<text x="425.30" y="114.22" font-size="6.6" text-anchor="start" font-weight="normal" fill="#222" stroke="#222" stroke-width="0.18" font-family='"Liberation Sans", sans-serif' >0.20</text>
<line x1="422.60" y1="130.30" x2="424.20" y2="130.30" stroke="#222" stroke-width="0.9" />
<text x="425.30" y="132.60" font-size="6.6" text-anchor="start" font-weight="normal" fill="#222" stroke="#222" stroke-width="0.18" font-family='"Liberation Sans", sans-serif' >0.00</text>
<text x="306.55" y="300.50" font-size="8.4" text-anchor="end" font-weight="normal" fill="#000" stroke="#000" stroke-width="0.18" font-family='"Liberation Sans", sans-serif' transform="rotate(-45 306.55 300.50)">CTRL3</text>
<text x="324.05" y="300.50" font-size="8.4" text-anchor="end" font-weight="normal" fill="#000" stroke="#000" stroke-width="0.18" font-family='"Liberation Sans", sans-serif' transform="rotate(-45 324.05 300.50)">CTRL1</text>
<text x="341.50" y="300.50" font-size="8.4" text-anchor="end" font-weight="normal" fill="#000" stroke="#000" stroke-width="0.18" font-family='"Liberation Sans", sans-serif' transform="rotate(-45 341.50 300.50)">CTRL2</text>
<text x="358.90" y="300.50" font-size="8.4" text-anchor="end" font-weight="normal" fill="#000" stroke="#000" stroke-width="0.18" font-family='"Liberation Sans", sans-serif' transform="rotate(-45 358.90 300.50)">NA1</text>
<text x="376.35" y="300.50" font-size="8.4" text-anchor="end" font-weight="normal" fill="#000" stroke="#000" stroke-width="0.18" font-family='"Liberation Sans", sans-serif' transform="rotate(-45 376.35 300.50)">NA2</text>
<text x="393.80" y="300.50" font-size="8.4" text-anchor="end" font-weight="normal" fill="#000" stroke="#000" stroke-width="0.18" font-family='"Liberation Sans", sans-serif' transform="rotate(-45 393.80 300.50)">NA3</text>
<text transform="translate(468.30,25.40) scale(1,1.05)" x="0" y="0" font-size="22.5" fill="#000" font-family='"Liberation Sans", sans-serif'>C</text>
<defs><clipPath id="cE"><circle cx="551.5" cy="132.7" r="54.9"/></clipPath><clipPath id="cH"><circle cx="605.4" cy="132.7" r="54.9"/></clipPath><clipPath id="cJ"><circle cx="578.3" cy="179.3" r="54.9"/></clipPath></defs>
<circle cx="551.50" cy="132.70" r="54.90" fill="#dfb8b7" stroke="none" stroke-width="0" />
<circle cx="605.40" cy="132.70" r="54.90" fill="#abd4e6" stroke="none" stroke-width="0" />
<circle cx="578.30" cy="179.30" r="54.90" fill="#ecd5b3" stroke="none" stroke-width="0" />
<g clip-path="url(#cE)"><circle cx="605.4" cy="132.7" r="54.9" fill="#95a2b8"/></g>
<g clip-path="url(#cE)"><circle cx="578.3" cy="179.3" r="54.9" fill="#dda47c"/></g>
<g clip-path="url(#cH)"><circle cx="578.3" cy="179.3" r="54.9" fill="#b8b7a0"/></g>
<g clip-path="url(#cE)"><g clip-path="url(#cH)"><circle cx="578.3" cy="179.3" r="54.9" fill="#ae9684"/></g></g>
<circle cx="551.50" cy="132.70" r="54.90" fill="none" stroke="#222" stroke-width="0.9" />
<circle cx="605.40" cy="132.70" r="54.90" fill="none" stroke="#222" stroke-width="0.9" />
<circle cx="578.30" cy="179.30" r="54.90" fill="none" stroke="#222" stroke-width="0.9" />
<text x="507.40" y="85.30" font-size="7.0" text-anchor="middle" font-weight="bold" fill="#bf3f35" stroke="#bf3f35" stroke-width="0.18" font-family='"Liberation Serif", serif' >EVT</text>
<text x="649.00" y="85.30" font-size="7.0" text-anchor="middle" font-weight="bold" fill="#3a78b8" stroke="#3a78b8" stroke-width="0.18" font-family='"Liberation Serif", serif' >HTR-8</text>
<text x="578.30" y="244.00" font-size="7.0" text-anchor="middle" font-weight="bold" fill="#dd8a35" stroke="#dd8a35" stroke-width="0.18" font-family='"Liberation Serif", serif' >JAR</text>
<text x="578.00" y="106.90" font-size="7" text-anchor="middle" font-weight="normal" fill="#333" stroke="#333" stroke-width="0.18" font-family='"Liberation Serif", serif' >10</text>
<text x="526.80" y="121.10" font-size="7" text-anchor="middle" font-weight="normal" fill="#333" stroke="#333" stroke-width="0.18" font-family='"Liberation Serif", serif' >23</text>
<text x="629.30" y="121.10" font-size="7" text-anchor="middle" font-weight="normal" fill="#333" stroke="#333" stroke-width="0.18" font-family='"Liberation Serif", serif' >2</text>
<text x="578.00" y="150.80" font-size="7" text-anchor="middle" font-weight="normal" fill="#333" stroke="#333" stroke-width="0.18" font-family='"Liberation Serif", serif' >12</text>
<text x="540.40" y="172.30" font-size="7" text-anchor="middle" font-weight="normal" fill="#333" stroke="#333" stroke-width="0.18" font-family='"Liberation Serif", serif' >8</text>
<text x="615.60" y="172.30" font-size="7" text-anchor="middle" font-weight="normal" fill="#333" stroke="#333" stroke-width="0.18" font-family='"Liberation Serif", serif' >4</text>
<text x="578.00" y="209.10" font-size="7" text-anchor="middle" font-weight="normal" fill="#333" stroke="#333" stroke-width="0.18" font-family='"Liberation Serif", serif' >22</text>
<text transform="translate(-0.05,338.90) scale(1,1.05)" x="0" y="0" font-size="22.5" fill="#000" font-family='"Liberation Sans", sans-serif'>D</text>
<circle cx="67.72" cy="480.84" r="2.30" fill="#c4c4c4" stroke="none" stroke-width="0" />
<circle cx="69.23" cy="483.60" r="2.30" fill="#c4c4c4" stroke="none" stroke-width="0" />
<circle cx="70.10" cy="481.69" r="2.30" fill="#c4c4c4" stroke="none" stroke-width="0" />
<circle cx="70.02" cy="483.27" r="2.30" fill="#c4c4c4" stroke="none" stroke-width="0" />
<circle cx="72.63" cy="481.72" r="2.30" fill="#c4c4c4" stroke="none" stroke-width="0" />
<circle cx="73.75" cy="483.16" r="2.30" fill="#c4c4c4" stroke="none" stroke-width="0" />
<circle cx="73.94" cy="481.53" r="2.30" fill="#c4c4c4" stroke="none" stroke-width="0" />
<circle cx="75.28" cy="484.52" r="2.30" fill="#c4c4c4" stroke="none" stroke-width="0" />
<circle cx="75.29" cy="482.00" r="2.30" fill="#c4c4c4" stroke="none" stroke-width="0" />
<circle cx="76.97" cy="485.66" r="2.30" fill="#c4c4c4" stroke="none" stroke-width="0" />
<circle cx="78.81" cy="482.43" r="2.30" fill="#c4c4c4" stroke="none" stroke-width="0" />
<circle cx="80.07" cy="484.79" r="2.30" fill="#c4c4c4" stroke="none" stroke-width="0" />
<circle cx="80.71" cy="482.89" r="2.30" fill="#c4c4c4" stroke="none" stroke-width="0" />
<circle cx="80.80" cy="486.64" r="2.30" fill="#c4c4c4" stroke="none" stroke-width="0" />
<circle cx="82.14" cy="483.58" r="2.30" fill="#c4c4c4" stroke="none" stroke-width="0" />
<circle cx="84.74" cy="487.16" r="2.30" fill="#c4c4c4" stroke="none" stroke-width="0" />
<circle cx="84.45" cy="485.45" r="2.30" fill="#c4c4c4" stroke="none" stroke-width="0" />
<circle cx="86.10" cy="487.34" r="2.30" fill="#c4c4c4" stroke="none" stroke-width="0" />
<circle cx="86.47" cy="485.94" r="2.30" fill="#c4c4c4" stroke="none" stroke-width="0" />
<circle cx="88.54" cy="488.39" r="2.30" fill="#c4c4c4" stroke="none" stroke-width="0" />
<circle cx="89.88" cy="485.32" r="2.30" fill="#c4c4c4" stroke="none" stroke-width="0" />
<circle cx="90.12" cy="487.48" r="2.30" fill="#c4c4c4" stroke="none" stroke-width="0" />
<circle cx="90.70" cy="485.42" r="2.30" fill="#c4c4c4" stroke="none" stroke-width="0" />
<circle cx="92.18" cy="488.79" r="2.30" fill="#c4c4c4" stroke="none" stroke-width="0" />
<circle cx="92.61" cy="487.05" r="2.30" fill="#c4c4c4" stroke="none" stroke-width="0" />
<circle cx="94.41" cy="488.79" r="2.30" fill="#c4c4c4" stroke="none" stroke-width="0" />
<circle cx="96.24" cy="487.23" r="2.30" fill="#c4c4c4" stroke="none" stroke-width="0" />
<circle cx="96.54" cy="489.63" r="2.30" fill="#c4c4c4" stroke="none" stroke-width="0" />
<circle cx="98.20" cy="486.99" r="2.30" fill="#c4c4c4" stroke="none" stroke-width="0" />
<circle cx="99.89" cy="489.33" r="2.30" fill="#c4c4c4" stroke="none" stroke-width="0" />
<circle cx="100.45" cy="488.94" r="2.30" fill="#c4c4c4" stroke="none" stroke-width="0" />
<circle cx="100.33" cy="491.23" r="2.30" fill="#c4c4c4" stroke="none" stroke-width="0" />
<circle cx="101.93" cy="488.99" r="2.30" fill="#c4c4c4" stroke="none" stroke-width="0" />
<circle cx="102.48" cy="490.43" r="2.30" fill="#c4c4c4" stroke="none" stroke-width="0" />
<circle cx="103.76" cy="490.19" r="2.30" fill="#c4c4c4" stroke="none" stroke-width="0" />
<circle cx="104.99" cy="492.23" r="2.30" fill="#c4c4c4" stroke="none" stroke-width="0" />
<circle cx="107.27" cy="490.70" r="2.30" fill="#c4c4c4" stroke="none" stroke-width="0" />
<circle cx="107.42" cy="492.04" r="2.30" fill="#c4c4c4" stroke="none" stroke-width="0" />
<circle cx="110.04" cy="445.50" r="2.30" fill="#c4c4c4" stroke="none" stroke-width="0" />
<circle cx="111.59" cy="446.65" r="2.30" fill="#c4c4c4" stroke="none" stroke-width="0" />
<circle cx="110.54" cy="448.25" r="2.30" fill="#c4c4c4" stroke="none" stroke-width="0" />
<circle cx="111.47" cy="449.60" r="2.30" fill="#c4c4c4" stroke="none" stroke-width="0" />
<circle cx="109.26" cy="449.91" r="2.30" fill="#c4c4c4" stroke="none" stroke-width="0" />
<circle cx="112.50" cy="452.15" r="2.30" fill="#c4c4c4" stroke="none" stroke-width="0" />
<circle cx="109.71" cy="453.56" r="2.30" fill="#c4c4c4" stroke="none" stroke-width="0" />
<circle cx="112.38" cy="453.66" r="2.30" fill="#c4c4c4" stroke="none" stroke-width="0" />
<circle cx="109.67" cy="454.82" r="2.30" fill="#c4c4c4" stroke="none" stroke-width="0" />
<circle cx="111.54" cy="455.97" r="2.30" fill="#c4c4c4" stroke="none" stroke-width="0" />
<circle cx="110.34" cy="458.89" r="2.30" fill="#c4c4c4" stroke="none" stroke-width="0" />
<circle cx="111.69" cy="458.39" r="2.30" fill="#c4c4c4" stroke="none" stroke-width="0" />
<circle cx="110.88" cy="460.66" r="2.30" fill="#c4c4c4" stroke="none" stroke-width="0" />
<circle cx="112.13" cy="461.33" r="2.30" fill="#c4c4c4" stroke="none" stroke-width="0" />
<circle cx="110.17" cy="463.79" r="2.30" fill="#c4c4c4" stroke="none" stroke-width="0" />
<circle cx="112.22" cy="464.26" r="2.30" fill="#c4c4c4" stroke="none" stroke-width="0" />
<circle cx="109.20" cy="466.55" r="2.30" fill="#c4c4c4" stroke="none" stroke-width="0" />
<circle cx="111.46" cy="466.99" r="2.30" fill="#c4c4c4" stroke="none" stroke-width="0" />
<circle cx="110.61" cy="467.74" r="2.30" fill="#c4c4c4" stroke="none" stroke-width="0" />
<circle cx="112.72" cy="470.41" r="2.30" fill="#c4c4c4" stroke="none" stroke-width="0" />
<circle cx="110.23" cy="471.52" r="2.30" fill="#c4c4c4" stroke="none" stroke-width="0" />
<circle cx="111.59" cy="472.08" r="2.30" fill="#c4c4c4" stroke="none" stroke-width="0" />
<circle cx="109.37" cy="474.22" r="2.30" fill="#c4c4c4" stroke="none" stroke-width="0" />
<circle cx="111.93" cy="474.72" r="2.30" fill="#c4c4c4" stroke="none" stroke-width="0" />
<circle cx="110.90" cy="476.83" r="2.30" fill="#c4c4c4" stroke="none" stroke-width="0" />
<circle cx="113.16" cy="477.32" r="2.30" fill="#c4c4c4" stroke="none" stroke-width="0" />
<circle cx="109.98" cy="479.21" r="2.30" fill="#c4c4c4" stroke="none" stroke-width="0" />
<circle cx="112.26" cy="479.62" r="2.30" fill="#c4c4c4" stroke="none" stroke-width="0" />
<circle cx="109.83" cy="480.76" r="2.30" fill="#c4c4c4" stroke="none" stroke-width="0" />
<circle cx="112.08" cy="483.48" r="2.30" fill="#c4c4c4" stroke="none" stroke-width="0" />
<circle cx="110.83" cy="484.23" r="2.30" fill="#c4c4c4" stroke="none" stroke-width="0" />
<circle cx="112.30" cy="484.91" r="2.30" fill="#c4c4c4" stroke="none" stroke-width="0" />
<circle cx="109.26" cy="486.19" r="2.30" fill="#c4c4c4" stroke="none" stroke-width="0" />
<circle cx="112.81" cy="488.46" r="2.30" fill="#c4c4c4" stroke="none" stroke-width="0" />
<circle cx="109.75" cy="489.71" r="2.30" fill="#c4c4c4" stroke="none" stroke-width="0" />
<circle cx="112.79" cy="490.75" r="2.30" fill="#c4c4c4" stroke="none" stroke-width="0" />
<circle cx="110.30" cy="492.27" r="2.30" fill="#c4c4c4" stroke="none" stroke-width="0" />
<circle cx="112.05" cy="493.37" r="2.30" fill="#c4c4c4" stroke="none" stroke-width="0" />
<circle cx="110.91" cy="439.47" r="2.30" fill="#c4c4c4" stroke="none" stroke-width="0" />
<circle cx="109.89" cy="445.54" r="2.30" fill="#c4c4c4" stroke="none" stroke-width="0" />
<circle cx="121.43" cy="455.50" r="2.30" fill="#c4c4c4" stroke="none" stroke-width="0" />
<circle cx="120.87" cy="456.15" r="2.30" fill="#c4c4c4" stroke="none" stroke-width="0" />
<circle cx="120.92" cy="457.38" r="2.30" fill="#c4c4c4" stroke="none" stroke-width="0" />
<circle cx="120.15" cy="458.91" r="2.30" fill="#c4c4c4" stroke="none" stroke-width="0" />
<circle cx="121.73" cy="460.47" r="2.30" fill="#c4c4c4" stroke="none" stroke-width="0" />
<circle cx="120.87" cy="461.74" r="2.30" fill="#c4c4c4" stroke="none" stroke-width="0" />
<circle cx="121.53" cy="462.76" r="2.30" fill="#c4c4c4" stroke="none" stroke-width="0" />
<circle cx="121.03" cy="464.39" r="2.30" fill="#c4c4c4" stroke="none" stroke-width="0" />
<circle cx="121.53" cy="465.72" r="2.30" fill="#c4c4c4" stroke="none" stroke-width="0" />
<circle cx="121.27" cy="466.74" r="2.30" fill="#c4c4c4" stroke="none" stroke-width="0" />
<circle cx="122.66" cy="468.52" r="2.30" fill="#c4c4c4" stroke="none" stroke-width="0" />
<circle cx="120.63" cy="469.05" r="2.30" fill="#c4c4c4" stroke="none" stroke-width="0" />
<circle cx="121.20" cy="470.91" r="2.30" fill="#c4c4c4" stroke="none" stroke-width="0" />
<circle cx="121.39" cy="471.56" r="2.30" fill="#c4c4c4" stroke="none" stroke-width="0" />
<circle cx="122.14" cy="473.30" r="2.30" fill="#c4c4c4" stroke="none" stroke-width="0" />
<circle cx="121.01" cy="473.61" r="2.30" fill="#c4c4c4" stroke="none" stroke-width="0" />
<circle cx="122.30" cy="475.65" r="2.30" fill="#c4c4c4" stroke="none" stroke-width="0" />
<circle cx="120.90" cy="476.66" r="2.30" fill="#c4c4c4" stroke="none" stroke-width="0" />
<circle cx="121.02" cy="450.39" r="2.30" fill="#c4c4c4" stroke="none" stroke-width="0" />
<circle cx="123.45" cy="456.40" r="2.30" fill="#c4c4c4" stroke="none" stroke-width="0" />
<circle cx="121.95" cy="459.39" r="2.30" fill="#c4c4c4" stroke="none" stroke-width="0" />
<circle cx="108.39" cy="478.77" r="2.30" fill="#c4c4c4" stroke="none" stroke-width="0" />
<circle cx="107.99" cy="481.83" r="2.30" fill="#c4c4c4" stroke="none" stroke-width="0" />
<circle cx="108.74" cy="483.68" r="2.30" fill="#c4c4c4" stroke="none" stroke-width="0" />
<circle cx="108.45" cy="487.01" r="2.30" fill="#c4c4c4" stroke="none" stroke-width="0" />
<circle cx="107.70" cy="489.84" r="2.30" fill="#c4c4c4" stroke="none" stroke-width="0" />
<circle cx="108.17" cy="492.93" r="2.30" fill="#c4c4c4" stroke="none" stroke-width="0" />
<circle cx="110.45" cy="477.66" r="2.30" fill="#c4c4c4" stroke="none" stroke-width="0" />
<circle cx="110.94" cy="481.28" r="2.30" fill="#c4c4c4" stroke="none" stroke-width="0" />
<circle cx="111.20" cy="484.66" r="2.30" fill="#c4c4c4" stroke="none" stroke-width="0" />
<circle cx="110.53" cy="488.23" r="2.30" fill="#c4c4c4" stroke="none" stroke-width="0" />
<circle cx="110.10" cy="490.33" r="2.30" fill="#c4c4c4" stroke="none" stroke-width="0" />
<circle cx="110.60" cy="493.34" r="2.30" fill="#c4c4c4" stroke="none" stroke-width="0" />
<circle cx="112.81" cy="479.10" r="2.30" fill="#c4c4c4" stroke="none" stroke-width="0" />
<circle cx="113.27" cy="480.66" r="2.30" fill="#c4c4c4" stroke="none" stroke-width="0" />
<circle cx="113.70" cy="483.77" r="2.30" fill="#c4c4c4" stroke="none" stroke-width="0" />
<circle cx="113.58" cy="487.21" r="2.30" fill="#c4c4c4" stroke="none" stroke-width="0" />
<circle cx="113.65" cy="491.32" r="2.30" fill="#c4c4c4" stroke="none" stroke-width="0" />
<circle cx="114.07" cy="493.35" r="2.30" fill="#c4c4c4" stroke="none" stroke-width="0" />
<circle cx="116.56" cy="478.76" r="2.30" fill="#c4c4c4" stroke="none" stroke-width="0" />
<circle cx="115.76" cy="480.86" r="2.30" fill="#c4c4c4" stroke="none" stroke-width="0" />
<circle cx="116.17" cy="484.61" r="2.30" fill="#c4c4c4" stroke="none" stroke-width="0" />
<circle cx="116.82" cy="488.34" r="2.30" fill="#c4c4c4" stroke="none" stroke-width="0" />
<circle cx="116.20" cy="490.23" r="2.30" fill="#c4c4c4" stroke="none" stroke-width="0" />
<circle cx="116.71" cy="492.60" r="2.30" fill="#c4c4c4" stroke="none" stroke-width="0" />
<circle cx="117.79" cy="478.62" r="2.30" fill="#c4c4c4" stroke="none" stroke-width="0" />
<circle cx="118.71" cy="480.85" r="2.30" fill="#c4c4c4" stroke="none" stroke-width="0" />
<circle cx="118.73" cy="485.20" r="2.30" fill="#c4c4c4" stroke="none" stroke-width="0" />
<circle cx="118.28" cy="487.38" r="2.30" fill="#c4c4c4" stroke="none" stroke-width="0" />
<circle cx="118.01" cy="490.12" r="2.30" fill="#c4c4c4" stroke="none" stroke-width="0" />
<circle cx="119.35" cy="493.28" r="2.30" fill="#c4c4c4" stroke="none" stroke-width="0" />
<circle cx="121.83" cy="479.24" r="2.30" fill="#c4c4c4" stroke="none" stroke-width="0" />
<circle cx="121.17" cy="481.07" r="2.30" fill="#c4c4c4" stroke="none" stroke-width="0" />
<circle cx="121.87" cy="484.49" r="2.30" fill="#c4c4c4" stroke="none" stroke-width="0" />
<circle cx="120.85" cy="487.17" r="2.30" fill="#c4c4c4" stroke="none" stroke-width="0" />
<circle cx="121.87" cy="490.49" r="2.30" fill="#c4c4c4" stroke="none" stroke-width="0" />
<circle cx="120.62" cy="493.46" r="2.30" fill="#c4c4c4" stroke="none" stroke-width="0" />
<circle cx="124.42" cy="486.82" r="2.30" fill="#c4c4c4" stroke="none" stroke-width="0" />
<circle cx="132.60" cy="488.63" r="2.30" fill="#c4c4c4" stroke="none" stroke-width="0" />
<circle cx="138.81" cy="488.59" r="2.30" fill="#c4c4c4" stroke="none" stroke-width="0" />
<circle cx="114.62" cy="475.06" r="2.30" fill="#c4c4c4" stroke="none" stroke-width="0" />
<circle cx="117.09" cy="478.78" r="2.30" fill="#c4c4c4" stroke="none" stroke-width="0" />
<circle cx="54.30" cy="371.70" r="2.30" fill="#3d5f93" stroke="none" stroke-width="0" fill-opacity="0.93"/>
<circle cx="54.60" cy="383.30" r="2.30" fill="#3d5f93" stroke="none" stroke-width="0" fill-opacity="0.93"/>
<circle cx="57.90" cy="387.50" r="2.30" fill="#3d5f93" stroke="none" stroke-width="0" fill-opacity="0.93"/>
<circle cx="54.00" cy="390.00" r="2.30" fill="#3d5f93" stroke="none" stroke-width="0" fill-opacity="0.93"/>
<circle cx="58.75" cy="391.25" r="2.30" fill="#3d5f93" stroke="none" stroke-width="0" fill-opacity="0.93"/>
<circle cx="60.80" cy="392.90" r="2.30" fill="#3d5f93" stroke="none" stroke-width="0" fill-opacity="0.93"/>
<circle cx="63.20" cy="394.80" r="2.30" fill="#3d5f93" stroke="none" stroke-width="0" fill-opacity="0.93"/>
<circle cx="55.00" cy="395.80" r="2.30" fill="#3d5f93" stroke="none" stroke-width="0" fill-opacity="0.93"/>
<circle cx="53.75" cy="397.90" r="2.30" fill="#3d5f93" stroke="none" stroke-width="0" fill-opacity="0.93"/>
<circle cx="56.25" cy="399.20" r="2.30" fill="#3d5f93" stroke="none" stroke-width="0" fill-opacity="0.93"/>
<circle cx="59.20" cy="399.60" r="2.30" fill="#3d5f93" stroke="none" stroke-width="0" fill-opacity="0.93"/>
<circle cx="50.40" cy="404.60" r="2.30" fill="#3d5f93" stroke="none" stroke-width="0" fill-opacity="0.93"/>
<circle cx="52.90" cy="405.40" r="2.30" fill="#3d5f93" stroke="none" stroke-width="0" fill-opacity="0.93"/>
<circle cx="59.20" cy="405.40" r="2.30" fill="#3d5f93" stroke="none" stroke-width="0" fill-opacity="0.93"/>
<circle cx="62.10" cy="405.80" r="2.30" fill="#3d5f93" stroke="none" stroke-width="0" fill-opacity="0.93"/>
<circle cx="65.80" cy="409.20" r="2.30" fill="#3d5f93" stroke="none" stroke-width="0" fill-opacity="0.93"/>
<circle cx="45.80" cy="412.50" r="2.30" fill="#3d5f93" stroke="none" stroke-width="0" fill-opacity="0.93"/>
<circle cx="51.25" cy="413.30" r="2.30" fill="#3d5f93" stroke="none" stroke-width="0" fill-opacity="0.93"/>
<circle cx="55.00" cy="410.00" r="2.30" fill="#3d5f93" stroke="none" stroke-width="0" fill-opacity="0.93"/>
<circle cx="57.50" cy="410.00" r="2.30" fill="#3d5f93" stroke="none" stroke-width="0" fill-opacity="0.93"/>
<circle cx="60.80" cy="410.80" r="2.30" fill="#3d5f93" stroke="none" stroke-width="0" fill-opacity="0.93"/>
<circle cx="63.30" cy="411.70" r="2.30" fill="#3d5f93" stroke="none" stroke-width="0" fill-opacity="0.93"/>
<circle cx="56.70" cy="414.20" r="2.30" fill="#3d5f93" stroke="none" stroke-width="0" fill-opacity="0.93"/>
<circle cx="59.20" cy="415.00" r="2.30" fill="#3d5f93" stroke="none" stroke-width="0" fill-opacity="0.93"/>
<circle cx="64.20" cy="414.20" r="2.30" fill="#3d5f93" stroke="none" stroke-width="0" fill-opacity="0.93"/>
<circle cx="65.00" cy="416.70" r="2.30" fill="#3d5f93" stroke="none" stroke-width="0" fill-opacity="0.93"/>
<circle cx="54.60" cy="418.30" r="2.30" fill="#3d5f93" stroke="none" stroke-width="0" fill-opacity="0.93"/>
<circle cx="57.10" cy="417.50" r="2.30" fill="#3d5f93" stroke="none" stroke-width="0" fill-opacity="0.93"/>
<circle cx="60.00" cy="418.30" r="2.30" fill="#3d5f93" stroke="none" stroke-width="0" fill-opacity="0.93"/>
<circle cx="62.50" cy="419.20" r="2.30" fill="#3d5f93" stroke="none" stroke-width="0" fill-opacity="0.93"/>
<circle cx="50.80" cy="421.70" r="2.30" fill="#3d5f93" stroke="none" stroke-width="0" fill-opacity="0.93"/>
<circle cx="53.30" cy="420.80" r="2.30" fill="#3d5f93" stroke="none" stroke-width="0" fill-opacity="0.93"/>
<circle cx="52.50" cy="425.00" r="2.30" fill="#3d5f93" stroke="none" stroke-width="0" fill-opacity="0.93"/>
<circle cx="57.50" cy="424.20" r="2.30" fill="#3d5f93" stroke="none" stroke-width="0" fill-opacity="0.93"/>
<circle cx="47.10" cy="426.70" r="2.30" fill="#3d5f93" stroke="none" stroke-width="0" fill-opacity="0.93"/>
<circle cx="64.60" cy="425.80" r="2.30" fill="#3d5f93" stroke="none" stroke-width="0" fill-opacity="0.93"/>
<circle cx="58.30" cy="428.30" r="2.30" fill="#3d5f93" stroke="none" stroke-width="0" fill-opacity="0.93"/>
<circle cx="60.80" cy="427.50" r="2.30" fill="#3d5f93" stroke="none" stroke-width="0" fill-opacity="0.93"/>
<circle cx="62.50" cy="429.20" r="2.30" fill="#3d5f93" stroke="none" stroke-width="0" fill-opacity="0.93"/>
<circle cx="56.70" cy="430.80" r="2.30" fill="#3d5f93" stroke="none" stroke-width="0" fill-opacity="0.93"/>
<circle cx="60.00" cy="431.70" r="2.30" fill="#3d5f93" stroke="none" stroke-width="0" fill-opacity="0.93"/>
<circle cx="63.75" cy="430.80" r="2.30" fill="#3d5f93" stroke="none" stroke-width="0" fill-opacity="0.93"/>
<circle cx="65.80" cy="432.50" r="2.30" fill="#3d5f93" stroke="none" stroke-width="0" fill-opacity="0.93"/>
<circle cx="67.50" cy="434.20" r="2.30" fill="#3d5f93" stroke="none" stroke-width="0" fill-opacity="0.93"/>
<circle cx="58.75" cy="435.40" r="2.30" fill="#3d5f93" stroke="none" stroke-width="0" fill-opacity="0.93"/>
<circle cx="68.30" cy="439.60" r="2.30" fill="#3d5f93" stroke="none" stroke-width="0" fill-opacity="0.93"/>
<circle cx="55.00" cy="407.00" r="2.30" fill="#3d5f93" stroke="none" stroke-width="0" fill-opacity="0.93"/>
<circle cx="58.00" cy="408.00" r="2.30" fill="#3d5f93" stroke="none" stroke-width="0" fill-opacity="0.93"/>
<circle cx="61.00" cy="413.00" r="2.30" fill="#3d5f93" stroke="none" stroke-width="0" fill-opacity="0.93"/>
<circle cx="56.00" cy="421.00" r="2.30" fill="#3d5f93" stroke="none" stroke-width="0" fill-opacity="0.93"/>
<circle cx="59.00" cy="422.00" r="2.30" fill="#3d5f93" stroke="none" stroke-width="0" fill-opacity="0.93"/>
<circle cx="62.00" cy="423.00" r="2.30" fill="#3d5f93" stroke="none" stroke-width="0" fill-opacity="0.93"/>
<circle cx="55.00" cy="427.00" r="2.30" fill="#3d5f93" stroke="none" stroke-width="0" fill-opacity="0.93"/>
<circle cx="53.00" cy="416.00" r="2.30" fill="#3d5f93" stroke="none" stroke-width="0" fill-opacity="0.93"/>
<circle cx="57.00" cy="419.00" r="2.30" fill="#3d5f93" stroke="none" stroke-width="0" fill-opacity="0.93"/>
<circle cx="58.80" cy="435.90" r="2.30" fill="#3d5f93" stroke="none" stroke-width="0" fill-opacity="0.93"/>
<circle cx="67.50" cy="433.80" r="2.30" fill="#3d5f93" stroke="none" stroke-width="0" fill-opacity="0.93"/>
<circle cx="68.00" cy="440.60" r="2.30" fill="#3d5f93" stroke="none" stroke-width="0" fill-opacity="0.93"/>
<circle cx="68.90" cy="441.20" r="2.30" fill="#3d5f93" stroke="none" stroke-width="0" fill-opacity="0.93"/>
<circle cx="78.40" cy="443.80" r="2.30" fill="#3d5f93" stroke="none" stroke-width="0" fill-opacity="0.93"/>
<circle cx="81.30" cy="440.90" r="2.30" fill="#3d5f93" stroke="none" stroke-width="0" fill-opacity="0.93"/>
<circle cx="55.70" cy="446.60" r="2.30" fill="#3d5f93" stroke="none" stroke-width="0" fill-opacity="0.93"/>
<circle cx="75.90" cy="454.50" r="2.30" fill="#3d5f93" stroke="none" stroke-width="0" fill-opacity="0.93"/>
<circle cx="96.90" cy="447.60" r="2.30" fill="#3d5f93" stroke="none" stroke-width="0" fill-opacity="0.93"/>
<circle cx="96.50" cy="450.40" r="2.30" fill="#3d5f93" stroke="none" stroke-width="0" fill-opacity="0.93"/>
<circle cx="94.60" cy="451.80" r="2.30" fill="#3d5f93" stroke="none" stroke-width="0" fill-opacity="0.93"/>
<circle cx="97.90" cy="456.10" r="2.30" fill="#3d5f93" stroke="none" stroke-width="0" fill-opacity="0.93"/>
<circle cx="97.90" cy="461.80" r="2.30" fill="#3d5f93" stroke="none" stroke-width="0" fill-opacity="0.93"/>
<circle cx="94.10" cy="466.50" r="2.30" fill="#3d5f93" stroke="none" stroke-width="0" fill-opacity="0.93"/>
<circle cx="96.00" cy="469.80" r="2.30" fill="#3d5f93" stroke="none" stroke-width="0" fill-opacity="0.93"/>
<circle cx="58.80" cy="472.90" r="2.30" fill="#3d5f93" stroke="none" stroke-width="0" fill-opacity="0.93"/>
<circle cx="67.50" cy="475.50" r="2.30" fill="#3d5f93" stroke="none" stroke-width="0" fill-opacity="0.93"/>
<circle cx="70.40" cy="475.50" r="2.30" fill="#3d5f93" stroke="none" stroke-width="0" fill-opacity="0.93"/>
<circle cx="72.70" cy="476.00" r="2.30" fill="#3d5f93" stroke="none" stroke-width="0" fill-opacity="0.93"/>
<circle cx="75.10" cy="476.00" r="2.30" fill="#3d5f93" stroke="none" stroke-width="0" fill-opacity="0.93"/>
<circle cx="77.50" cy="475.50" r="2.30" fill="#3d5f93" stroke="none" stroke-width="0" fill-opacity="0.93"/>
<circle cx="81.30" cy="473.60" r="2.30" fill="#3d5f93" stroke="none" stroke-width="0" fill-opacity="0.93"/>
<circle cx="69.00" cy="477.00" r="2.30" fill="#3d5f93" stroke="none" stroke-width="0" fill-opacity="0.93"/>
<circle cx="74.00" cy="477.30" r="2.30" fill="#3d5f93" stroke="none" stroke-width="0" fill-opacity="0.93"/>
<circle cx="93.60" cy="478.90" r="2.30" fill="#3d5f93" stroke="none" stroke-width="0" fill-opacity="0.93"/>
<circle cx="99.80" cy="477.00" r="2.30" fill="#3d5f93" stroke="none" stroke-width="0" fill-opacity="0.93"/>
<circle cx="102.60" cy="476.50" r="2.30" fill="#3d5f93" stroke="none" stroke-width="0" fill-opacity="0.93"/>
<circle cx="104.70" cy="435.50" r="2.30" fill="#3d5f93" stroke="none" stroke-width="0" fill-opacity="0.93"/>
<circle cx="105.10" cy="445.70" r="2.30" fill="#3d5f93" stroke="none" stroke-width="0" fill-opacity="0.93"/>
<circle cx="106.10" cy="449.90" r="2.30" fill="#3d5f93" stroke="none" stroke-width="0" fill-opacity="0.93"/>
<circle cx="107.00" cy="452.30" r="2.30" fill="#3d5f93" stroke="none" stroke-width="0" fill-opacity="0.93"/>
<circle cx="105.60" cy="458.50" r="2.30" fill="#3d5f93" stroke="none" stroke-width="0" fill-opacity="0.93"/>
<circle cx="107.50" cy="461.30" r="2.30" fill="#3d5f93" stroke="none" stroke-width="0" fill-opacity="0.93"/>
<circle cx="105.10" cy="463.70" r="2.30" fill="#3d5f93" stroke="none" stroke-width="0" fill-opacity="0.93"/>
<circle cx="103.70" cy="470.60" r="2.30" fill="#3d5f93" stroke="none" stroke-width="0" fill-opacity="0.93"/>
<circle cx="105.10" cy="476.00" r="2.30" fill="#3d5f93" stroke="none" stroke-width="0" fill-opacity="0.93"/>
<circle cx="108.50" cy="475.10" r="2.30" fill="#3d5f93" stroke="none" stroke-width="0" fill-opacity="0.93"/>
<circle cx="108.00" cy="471.70" r="2.30" fill="#3d5f93" stroke="none" stroke-width="0" fill-opacity="0.93"/>
<circle cx="171.70" cy="367.10" r="2.40" fill="#d42a2a" stroke="none" stroke-width="0" />
<line x1="108.50" y1="362.00" x2="108.50" y2="499.50" stroke="#333" stroke-width="0.9" stroke-dasharray="2.6,1.8"/>
<line x1="126.80" y1="362.00" x2="126.80" y2="499.50" stroke="#333" stroke-width="0.9" stroke-dasharray="2.6,1.8"/>
<line x1="39.50" y1="479.30" x2="177.50" y2="479.30" stroke="#333" stroke-width="0.9" stroke-dasharray="2.6,1.8"/>
<line x1="39.50" y1="361.50" x2="39.50" y2="500.00" stroke="#333" stroke-width="1" />
<line x1="39.50" y1="500.00" x2="177.50" y2="500.00" stroke="#333" stroke-width="1" />
<text x="36.80" y="365.22" font-size="5.6" text-anchor="end" font-weight="normal" fill="#666" stroke="#666" stroke-width="0.18" font-family='"Liberation Serif", serif' >12</text>
<text x="36.80" y="397.74" font-size="5.6" text-anchor="end" font-weight="normal" fill="#666" stroke="#666" stroke-width="0.18" font-family='"Liberation Serif", serif' >9</text>
<text x="36.80" y="430.26" font-size="5.6" text-anchor="end" font-weight="normal" fill="#666" stroke="#666" stroke-width="0.18" font-family='"Liberation Serif", serif' >6</text>
<text x="36.80" y="462.78" font-size="5.6" text-anchor="end" font-weight="normal" fill="#666" stroke="#666" stroke-width="0.18" font-family='"Liberation Serif", serif' >3</text>
<text x="36.80" y="495.30" font-size="5.6" text-anchor="end" font-weight="normal" fill="#666" stroke="#666" stroke-width="0.18" font-family='"Liberation Serif", serif' >0</text>
<text x="72.50" y="505.80" font-size="5.6" text-anchor="middle" font-weight="normal" fill="#666" stroke="#666" stroke-width="0.18" font-family='"Liberation Serif", serif' >-10</text>
<text x="117.70" y="505.80" font-size="5.6" text-anchor="middle" font-weight="normal" fill="#666" stroke="#666" stroke-width="0.18" font-family='"Liberation Serif", serif' >0</text>
<text x="162.90" y="505.80" font-size="5.6" text-anchor="middle" font-weight="normal" fill="#666" stroke="#666" stroke-width="0.18" font-family='"Liberation Serif", serif' >10</text>
<text x="108.60" y="522.40" font-size="6.6" text-anchor="middle" font-weight="normal" fill="#222" stroke="#222" stroke-width="0.18" font-family='"Liberation Serif", serif' >log<tspan font-size="4.3" dy="1.6">2</tspan><tspan dy="-1.6" font-size="8.6">(</tspan>Fold Change<tspan font-size="8.6">)</tspan></text>
<text x="16.50" y="430.30" font-size="7.1" text-anchor="middle" font-weight="normal" fill="#222" stroke="#222" stroke-width="0.18" font-family='"Liberation Serif", serif' transform="rotate(-90 16.5 430.3)">– log<tspan font-size="4.3" dy="1.6">10</tspan><tspan dy="-1.6" font-size="9.2">(</tspan>P Value<tspan font-size="9.2">)</tspan></text>
<text x="56.70" y="378.40" font-size="5.3" text-anchor="start" font-weight="normal" fill="#4a6fa8" stroke="#4a6fa8" stroke-width="0.18" font-family='"Liberation Sans", sans-serif' >CD151</text>
<text x="73.60" y="391.70" font-size="5.3" text-anchor="start" font-weight="normal" fill="#4a6fa8" stroke="#4a6fa8" stroke-width="0.18" font-family='"Liberation Sans", sans-serif' >ITGA3</text>
<text x="78.80" y="404.30" font-size="5.3" text-anchor="start" font-weight="normal" fill="#4a6fa8" stroke="#4a6fa8" stroke-width="0.18" font-family='"Liberation Sans", sans-serif' >CD276</text>
<text x="74.60" y="414.50" font-size="5.3" text-anchor="start" font-weight="normal" fill="#4a6fa8" stroke="#4a6fa8" stroke-width="0.18" font-family='"Liberation Sans", sans-serif' >ITGA2</text>
<text x="74.60" y="424.60" font-size="5.3" text-anchor="start" font-weight="normal" fill="#4a6fa8" stroke="#4a6fa8" stroke-width="0.18" font-family='"Liberation Sans", sans-serif' >LAMP1</text>
<text x="41.00" y="436.40" font-size="5.3" text-anchor="start" font-weight="normal" fill="#4a6fa8" stroke="#4a6fa8" stroke-width="0.18" font-family='"Liberation Sans", sans-serif' >IGF2R</text>
<text x="55.70" y="464.60" font-size="5.3" text-anchor="start" font-weight="normal" fill="#4a6fa8" stroke="#4a6fa8" stroke-width="0.18" font-family='"Liberation Sans", sans-serif' >n=136</text>
<text x="79.10" y="465.60" font-size="5.3" text-anchor="start" font-weight="normal" fill="#4a6fa8" stroke="#4a6fa8" stroke-width="0.18" font-family='"Liberation Sans", sans-serif' >VTN</text>
<text x="158.70" y="464.60" font-size="5.3" text-anchor="start" font-weight="normal" fill="#d42a2a" stroke="#d42a2a" stroke-width="0.18" font-family='"Liberation Sans", sans-serif' >n=1</text>
<text x="186.90" y="416.80" font-size="5.2" text-anchor="start" font-weight="normal" fill="#222" stroke="#222" stroke-width="0.18" font-family='"Liberation Serif", serif' >Group</text>
<circle cx="191.30" cy="425.10" r="2.40" fill="#3d5f93" stroke="none" stroke-width="0" />
<text x="196.80" y="426.70" font-size="5.3" text-anchor="start" font-weight="normal" fill="#222" stroke="#222" stroke-width="0.18" font-family='"Liberation Serif", serif' >Down-regulated</text>
<circle cx="191.30" cy="434.00" r="2.40" fill="#c4c4c4" stroke="none" stroke-width="0" />
<text x="196.80" y="435.60" font-size="5.3" text-anchor="start" font-weight="normal" fill="#222" stroke="#222" stroke-width="0.18" font-family='"Liberation Serif", serif' >not-significant</text>
<circle cx="191.30" cy="443.40" r="2.40" fill="#d42a2a" stroke="none" stroke-width="0" />
<text x="196.80" y="445.00" font-size="5.3" text-anchor="start" font-weight="normal" fill="#222" stroke="#222" stroke-width="0.18" font-family='"Liberation Serif", serif' >Up-regulated</text>
<text transform="translate(241.10,339.00) scale(1,1.05)" x="0" y="0" font-size="22.5" fill="#000" font-family='"Liberation Sans", sans-serif'>E</text>
<circle cx="313.29" cy="478.57" r="2.20" fill="#c4c4c4" stroke="none" stroke-width="0" />
<circle cx="317.01" cy="479.06" r="2.20" fill="#c4c4c4" stroke="none" stroke-width="0" />
<circle cx="320.74" cy="476.58" r="2.20" fill="#c4c4c4" stroke="none" stroke-width="0" />
<circle cx="324.46" cy="479.06" r="2.20" fill="#c4c4c4" stroke="none" stroke-width="0" />
<circle cx="328.18" cy="476.58" r="2.20" fill="#c4c4c4" stroke="none" stroke-width="0" />
<circle cx="329.42" cy="481.55" r="2.20" fill="#c4c4c4" stroke="none" stroke-width="0" />
<circle cx="331.91" cy="484.03" r="2.20" fill="#c4c4c4" stroke="none" stroke-width="0" />
<circle cx="335.63" cy="480.31" r="2.20" fill="#c4c4c4" stroke="none" stroke-width="0" />
<circle cx="340.59" cy="485.27" r="2.20" fill="#c4c4c4" stroke="none" stroke-width="0" />
<circle cx="345.56" cy="483.53" r="2.20" fill="#c4c4c4" stroke="none" stroke-width="0" />
<circle cx="346.80" cy="484.03" r="2.20" fill="#c4c4c4" stroke="none" stroke-width="0" />
<circle cx="353.00" cy="486.01" r="2.20" fill="#c4c4c4" stroke="none" stroke-width="0" />
<circle cx="356.73" cy="487.25" r="2.20" fill="#c4c4c4" stroke="none" stroke-width="0" />
<circle cx="359.21" cy="487.75" r="2.20" fill="#c4c4c4" stroke="none" stroke-width="0" />
<circle cx="365.41" cy="490.23" r="2.20" fill="#c4c4c4" stroke="none" stroke-width="0" />
<circle cx="365.41" cy="476.09" r="2.20" fill="#c4c4c4" stroke="none" stroke-width="0" />
<circle cx="374.10" cy="475.34" r="2.20" fill="#c4c4c4" stroke="none" stroke-width="0" />
<circle cx="376.58" cy="479.06" r="2.20" fill="#c4c4c4" stroke="none" stroke-width="0" />
<circle cx="376.58" cy="451.76" r="2.20" fill="#c4c4c4" stroke="none" stroke-width="0" />
<circle cx="379.06" cy="481.55" r="2.20" fill="#c4c4c4" stroke="none" stroke-width="0" />
<circle cx="385.27" cy="484.03" r="2.20" fill="#c4c4c4" stroke="none" stroke-width="0" />
<circle cx="386.51" cy="488.99" r="2.20" fill="#c4c4c4" stroke="none" stroke-width="0" />
<circle cx="387.75" cy="490.23" r="2.20" fill="#c4c4c4" stroke="none" stroke-width="0" />
<circle cx="388.99" cy="491.97" r="2.20" fill="#c4c4c4" stroke="none" stroke-width="0" />
<circle cx="391.47" cy="479.06" r="2.20" fill="#c4c4c4" stroke="none" stroke-width="0" />
<circle cx="392.72" cy="477.82" r="2.20" fill="#c4c4c4" stroke="none" stroke-width="0" />
<circle cx="395.20" cy="454.24" r="2.20" fill="#c4c4c4" stroke="none" stroke-width="0" />
<circle cx="396.44" cy="440.59" r="2.20" fill="#c4c4c4" stroke="none" stroke-width="0" />
<circle cx="397.68" cy="439.35" r="2.20" fill="#c4c4c4" stroke="none" stroke-width="0" />
<circle cx="398.92" cy="462.93" r="2.20" fill="#c4c4c4" stroke="none" stroke-width="0" />
<circle cx="398.18" cy="469.88" r="2.20" fill="#c4c4c4" stroke="none" stroke-width="0" />
<circle cx="398.42" cy="472.86" r="2.20" fill="#c4c4c4" stroke="none" stroke-width="0" />
<circle cx="384.03" cy="486.01" r="2.20" fill="#c4c4c4" stroke="none" stroke-width="0" />
<circle cx="386.01" cy="487.01" r="2.20" fill="#c4c4c4" stroke="none" stroke-width="0" />
<circle cx="389.49" cy="487.75" r="2.20" fill="#c4c4c4" stroke="none" stroke-width="0" />
<circle cx="390.23" cy="485.27" r="2.20" fill="#c4c4c4" stroke="none" stroke-width="0" />
<circle cx="391.47" cy="481.55" r="2.20" fill="#c4c4c4" stroke="none" stroke-width="0" />
<circle cx="392.72" cy="480.31" r="2.20" fill="#c4c4c4" stroke="none" stroke-width="0" />
<circle cx="393.96" cy="477.82" r="2.20" fill="#c4c4c4" stroke="none" stroke-width="0" />
<circle cx="382.79" cy="481.55" r="2.20" fill="#c4c4c4" stroke="none" stroke-width="0" />
<circle cx="381.55" cy="487.75" r="2.20" fill="#c4c4c4" stroke="none" stroke-width="0" />
<circle cx="387.01" cy="493.21" r="2.20" fill="#c4c4c4" stroke="none" stroke-width="0" />
<circle cx="319.00" cy="477.08" r="2.20" fill="#c4c4c4" stroke="none" stroke-width="0" />
<circle cx="315.03" cy="477.08" r="2.20" fill="#c4c4c4" stroke="none" stroke-width="0" />
<circle cx="290.95" cy="362.91" r="2.20" fill="#3d5f93" stroke="none" stroke-width="0" />
<circle cx="292.69" cy="370.35" r="2.20" fill="#3d5f93" stroke="none" stroke-width="0" />
<circle cx="289.22" cy="373.58" r="2.20" fill="#3d5f93" stroke="none" stroke-width="0" />
<circle cx="299.14" cy="379.04" r="2.20" fill="#3d5f93" stroke="none" stroke-width="0" />
<circle cx="288.97" cy="381.77" r="2.20" fill="#3d5f93" stroke="none" stroke-width="0" />
<circle cx="305.10" cy="385.24" r="2.20" fill="#3d5f93" stroke="none" stroke-width="0" />
<circle cx="306.59" cy="389.71" r="2.20" fill="#3d5f93" stroke="none" stroke-width="0" />
<circle cx="290.95" cy="390.95" r="2.20" fill="#3d5f93" stroke="none" stroke-width="0" />
<circle cx="293.44" cy="392.19" r="2.20" fill="#3d5f93" stroke="none" stroke-width="0" />
<circle cx="295.92" cy="392.94" r="2.20" fill="#3d5f93" stroke="none" stroke-width="0" />
<circle cx="285.49" cy="394.68" r="2.20" fill="#3d5f93" stroke="none" stroke-width="0" />
<circle cx="288.47" cy="395.42" r="2.20" fill="#3d5f93" stroke="none" stroke-width="0" />
<circle cx="291.70" cy="395.92" r="2.20" fill="#3d5f93" stroke="none" stroke-width="0" />
<circle cx="292.69" cy="400.14" r="2.20" fill="#3d5f93" stroke="none" stroke-width="0" />
<circle cx="300.88" cy="404.60" r="2.20" fill="#3d5f93" stroke="none" stroke-width="0" />
<circle cx="302.12" cy="407.09" r="2.20" fill="#3d5f93" stroke="none" stroke-width="0" />
<circle cx="292.94" cy="410.31" r="2.20" fill="#3d5f93" stroke="none" stroke-width="0" />
<circle cx="298.90" cy="410.06" r="2.20" fill="#3d5f93" stroke="none" stroke-width="0" />
<circle cx="302.12" cy="415.28" r="2.20" fill="#3d5f93" stroke="none" stroke-width="0" />
<circle cx="308.82" cy="417.01" r="2.20" fill="#3d5f93" stroke="none" stroke-width="0" />
<circle cx="283.01" cy="423.47" r="2.20" fill="#3d5f93" stroke="none" stroke-width="0" />
<circle cx="300.38" cy="425.95" r="2.20" fill="#3d5f93" stroke="none" stroke-width="0" />
<circle cx="357.22" cy="448.78" r="2.20" fill="#3d5f93" stroke="none" stroke-width="0" />
<circle cx="362.43" cy="445.56" r="2.20" fill="#3d5f93" stroke="none" stroke-width="0" />
<circle cx="364.17" cy="446.05" r="2.20" fill="#3d5f93" stroke="none" stroke-width="0" />
<circle cx="365.41" cy="446.05" r="2.20" fill="#3d5f93" stroke="none" stroke-width="0" />
<circle cx="369.38" cy="462.93" r="2.20" fill="#3d5f93" stroke="none" stroke-width="0" />
<circle cx="304.11" cy="465.41" r="2.20" fill="#3d5f93" stroke="none" stroke-width="0" />
<circle cx="302.87" cy="468.64" r="2.20" fill="#3d5f93" stroke="none" stroke-width="0" />
<circle cx="310.81" cy="474.10" r="2.20" fill="#3d5f93" stroke="none" stroke-width="0" />
<circle cx="315.28" cy="474.84" r="2.20" fill="#3d5f93" stroke="none" stroke-width="0" />
<circle cx="320.74" cy="473.36" r="2.20" fill="#3d5f93" stroke="none" stroke-width="0" />
<circle cx="373.11" cy="475.34" r="2.20" fill="#3d5f93" stroke="none" stroke-width="0" />
<circle cx="287.23" cy="393.44" r="2.20" fill="#3d5f93" stroke="none" stroke-width="0" />
<circle cx="289.71" cy="397.16" r="2.20" fill="#3d5f93" stroke="none" stroke-width="0" />
<line x1="374.00" y1="355.50" x2="374.00" y2="499.70" stroke="#333" stroke-width="0.9" stroke-dasharray="2.6,1.8"/>
<line x1="402.50" y1="355.50" x2="402.50" y2="499.70" stroke="#333" stroke-width="0.9" stroke-dasharray="2.6,1.8"/>
<line x1="276.60" y1="475.30" x2="415.60" y2="475.30" stroke="#333" stroke-width="0.9" stroke-dasharray="2.6,1.8"/>
<line x1="276.60" y1="355.00" x2="276.60" y2="500.00" stroke="#333" stroke-width="1" />
<line x1="276.60" y1="499.90" x2="415.60" y2="499.90" stroke="#333" stroke-width="1" />
<text x="274.00" y="357.20" font-size="5.6" text-anchor="end" font-weight="normal" fill="#666" stroke="#666" stroke-width="0.18" font-family='"Liberation Serif", serif' >10.0</text>
<text x="274.00" y="391.60" font-size="5.6" text-anchor="end" font-weight="normal" fill="#666" stroke="#666" stroke-width="0.18" font-family='"Liberation Serif", serif' >7.5</text>
<text x="274.00" y="426.00" font-size="5.6" text-anchor="end" font-weight="normal" fill="#666" stroke="#666" stroke-width="0.18" font-family='"Liberation Serif", serif' >5.0</text>
<text x="274.00" y="460.40" font-size="5.6" text-anchor="end" font-weight="normal" fill="#666" stroke="#666" stroke-width="0.18" font-family='"Liberation Serif", serif' >2.5</text>
<text x="274.00" y="494.80" font-size="5.6" text-anchor="end" font-weight="normal" fill="#666" stroke="#666" stroke-width="0.18" font-family='"Liberation Serif", serif' >0.0</text>
<text x="281.15" y="505.80" font-size="5.6" text-anchor="middle" font-weight="normal" fill="#666" stroke="#666" stroke-width="0.18" font-family='"Liberation Serif", serif' >-15</text>
<text x="316.80" y="505.80" font-size="5.6" text-anchor="middle" font-weight="normal" fill="#666" stroke="#666" stroke-width="0.18" font-family='"Liberation Serif", serif' >-10</text>
<text x="352.45" y="505.80" font-size="5.6" text-anchor="middle" font-weight="normal" fill="#666" stroke="#666" stroke-width="0.18" font-family='"Liberation Serif", serif' >-5</text>
<text x="388.10" y="505.80" font-size="5.6" text-anchor="middle" font-weight="normal" fill="#666" stroke="#666" stroke-width="0.18" font-family='"Liberation Serif", serif' >0</text>
<text x="345.80" y="523.00" font-size="6.6" text-anchor="middle" font-weight="normal" fill="#222" stroke="#222" stroke-width="0.18" font-family='"Liberation Serif", serif' >log<tspan font-size="4.3" dy="1.6">2</tspan><tspan dy="-1.6" font-size="8.6">(</tspan>Fold Change<tspan font-size="8.6">)</tspan></text>
<text x="249.30" y="428.00" font-size="7.1" text-anchor="middle" font-weight="normal" fill="#222" stroke="#222" stroke-width="0.18" font-family='"Liberation Serif", serif' transform="rotate(-90 249.3 428)">– log<tspan font-size="4.3" dy="1.6">10</tspan><tspan dy="-1.6" font-size="9.2">(</tspan>P Value<tspan font-size="9.2">)</tspan></text>
<text x="291.70" y="359.84" font-size="5.3" text-anchor="start" font-weight="normal" fill="#4a6fa8" stroke="#4a6fa8" stroke-width="0.18" font-family='"Liberation Sans", sans-serif' >ITGA3</text>
<text x="297.90" y="371.76" font-size="5.3" text-anchor="start" font-weight="normal" fill="#4a6fa8" stroke="#4a6fa8" stroke-width="0.18" font-family='"Liberation Sans", sans-serif' >CD276</text>
<text x="278.54" y="387.89" font-size="5.3" text-anchor="start" font-weight="normal" fill="#4a6fa8" stroke="#4a6fa8" stroke-width="0.18" font-family='"Liberation Sans", sans-serif' >CD151</text>
<text x="277.80" y="407.00" font-size="5.3" text-anchor="start" font-weight="normal" fill="#4a6fa8" stroke="#4a6fa8" stroke-width="0.18" font-family='"Liberation Sans", sans-serif' >LAMP1</text>
<text x="304.60" y="424.37" font-size="5.3" text-anchor="start" font-weight="normal" fill="#4a6fa8" stroke="#4a6fa8" stroke-width="0.18" font-family='"Liberation Sans", sans-serif' >IGF2R</text>
<text x="366.65" y="444.98" font-size="5.3" text-anchor="start" font-weight="normal" fill="#4a6fa8" stroke="#4a6fa8" stroke-width="0.18" font-family='"Liberation Sans", sans-serif' >VTN</text>
<text x="360.95" y="456.64" font-size="5.3" text-anchor="start" font-weight="normal" fill="#4a6fa8" stroke="#4a6fa8" stroke-width="0.18" font-family='"Liberation Sans", sans-serif' >n=47</text>
<text x="405.13" y="456.64" font-size="5.3" text-anchor="start" font-weight="normal" fill="#d42a2a" stroke="#d42a2a" stroke-width="0.18" font-family='"Liberation Sans", sans-serif' >n=0</text>
<defs><clipPath id="eleg"><rect x="400" y="400" width="66.8" height="50"/></clipPath></defs>
<g clip-path="url(#eleg)">
<text x="425.30" y="418.50" font-size="5.2" text-anchor="start" font-weight="normal" fill="#222" stroke="#222" stroke-width="0.18" font-family='"Liberation Serif", serif' >Group</text>
<circle cx="429.90" cy="427.20" r="2.40" fill="#3d5f93" stroke="none" stroke-width="0" />
<text x="435.80" y="428.00" font-size="5.3" text-anchor="start" font-weight="normal" fill="#222" stroke="#222" stroke-width="0.18" font-family='"Liberation Serif", serif' >Down-regulated</text>
<circle cx="429.90" cy="436.50" r="2.40" fill="#c4c4c4" stroke="none" stroke-width="0" />
<text x="435.80" y="437.60" font-size="5.3" text-anchor="start" font-weight="normal" fill="#222" stroke="#222" stroke-width="0.18" font-family='"Liberation Serif", serif' >not-significant</text>
</g>
<text transform="translate(471.20,338.80) scale(1,1.05)" x="0" y="0" font-size="22.5" fill="#000" font-family='"Liberation Sans", sans-serif'>F</text>
<text x="602.30" y="320.90" font-size="7.3" text-anchor="middle" font-weight="normal" fill="#111" stroke="#111" stroke-width="0.18" font-family='"Liberation Sans", sans-serif' >Molecular Function</text>
<line x1="589.70" y1="325.00" x2="589.70" y2="499.00" stroke="#bbb" stroke-width="0.5" stroke-dasharray="1.5,1.2"/>
<line x1="624.60" y1="325.00" x2="624.60" y2="499.00" stroke="#bbb" stroke-width="0.5" stroke-dasharray="1.5,1.2"/>
<line x1="553.60" y1="335.30" x2="651.60" y2="335.30" stroke="#bbb" stroke-width="0.5" stroke-dasharray="1.5,1.2"/>
<line x1="553.60" y1="352.48" x2="651.60" y2="352.48" stroke="#bbb" stroke-width="0.5" stroke-dasharray="1.5,1.2"/>
<line x1="553.60" y1="369.66" x2="651.60" y2="369.66" stroke="#bbb" stroke-width="0.5" stroke-dasharray="1.5,1.2"/>
<line x1="553.60" y1="386.83" x2="651.60" y2="386.83" stroke="#bbb" stroke-width="0.5" stroke-dasharray="1.5,1.2"/>
<line x1="553.60" y1="404.01" x2="651.60" y2="404.01" stroke="#bbb" stroke-width="0.5" stroke-dasharray="1.5,1.2"/>
<line x1="553.60" y1="421.19" x2="651.60" y2="421.19" stroke="#bbb" stroke-width="0.5" stroke-dasharray="1.5,1.2"/>
<line x1="553.60" y1="438.37" x2="651.60" y2="438.37" stroke="#bbb" stroke-width="0.5" stroke-dasharray="1.5,1.2"/>
<line x1="553.60" y1="455.54" x2="651.60" y2="455.54" stroke="#bbb" stroke-width="0.5" stroke-dasharray="1.5,1.2"/>
<line x1="553.60" y1="472.72" x2="651.60" y2="472.72" stroke="#bbb" stroke-width="0.5" stroke-dasharray="1.5,1.2"/>
<line x1="553.60" y1="489.90" x2="651.60" y2="489.90" stroke="#bbb" stroke-width="0.5" stroke-dasharray="1.5,1.2"/>
<rect x="553.60" y="325.00" width="98.00" height="174.00" fill="none" stroke="#222" stroke-width="0.9" />
<line x1="552.10" y1="335.30" x2="553.60" y2="335.30" stroke="#222" stroke-width="0.6" />
<text x="551.20" y="337.00" font-size="4.75" text-anchor="end" font-weight="normal" fill="#222" stroke="#222" stroke-width="0.18" font-family='"Liberation Sans", sans-serif' >integrin binding</text>
<line x1="552.10" y1="352.48" x2="553.60" y2="352.48" stroke="#222" stroke-width="0.6" />
<text x="551.20" y="354.18" font-size="4.75" text-anchor="end" font-weight="normal" fill="#222" stroke="#222" stroke-width="0.18" font-family='"Liberation Sans", sans-serif' >laminin binding</text>
<line x1="552.10" y1="369.66" x2="553.60" y2="369.66" stroke="#222" stroke-width="0.6" />
<text x="551.20" y="371.36" font-size="4.75" text-anchor="end" font-weight="normal" fill="#222" stroke="#222" stroke-width="0.18" font-family='"Liberation Sans", sans-serif' >extracellular matrix binding</text>
<line x1="552.10" y1="386.83" x2="553.60" y2="386.83" stroke="#222" stroke-width="0.6" />
<text x="551.20" y="388.53" font-size="4.75" text-anchor="end" font-weight="normal" fill="#222" stroke="#222" stroke-width="0.18" font-family='"Liberation Sans", sans-serif' >collagen binding</text>
<line x1="552.10" y1="404.01" x2="553.60" y2="404.01" stroke="#222" stroke-width="0.6" />
<text x="551.20" y="405.71" font-size="4.75" text-anchor="end" font-weight="normal" fill="#222" stroke="#222" stroke-width="0.18" font-family='"Liberation Sans", sans-serif' >virus receptor activity</text>
<line x1="552.10" y1="421.19" x2="553.60" y2="421.19" stroke="#222" stroke-width="0.6" />
<text x="551.20" y="422.89" font-size="4.75" text-anchor="end" font-weight="normal" fill="#222" stroke="#222" stroke-width="0.18" font-family='"Liberation Sans", sans-serif' >exogenous protein binding</text>
<line x1="552.10" y1="438.37" x2="553.60" y2="438.37" stroke="#222" stroke-width="0.6" />
<text x="551.20" y="440.07" font-size="4.75" text-anchor="end" font-weight="normal" fill="#222" stroke="#222" stroke-width="0.18" font-family='"Liberation Sans", sans-serif' >sulfur compound binding</text>
<line x1="552.10" y1="455.54" x2="553.60" y2="455.54" stroke="#222" stroke-width="0.6" />
<text x="551.20" y="457.24" font-size="4.75" text-anchor="end" font-weight="normal" fill="#222" stroke="#222" stroke-width="0.18" font-family='"Liberation Sans", sans-serif' >carbohydrate binding</text>
<line x1="552.10" y1="472.72" x2="553.60" y2="472.72" stroke="#222" stroke-width="0.6" />
<text x="551.20" y="474.42" font-size="4.75" text-anchor="end" font-weight="normal" fill="#222" stroke="#222" stroke-width="0.18" font-family='"Liberation Sans", sans-serif' >heparan sulfate proteoglycan binding</text>
<line x1="552.10" y1="489.90" x2="553.60" y2="489.90" stroke="#222" stroke-width="0.6" />
<text x="551.20" y="491.60" font-size="4.75" text-anchor="end" font-weight="normal" fill="#222" stroke="#222" stroke-width="0.18" font-family='"Liberation Sans", sans-serif' >retinoic acid binding</text>
<rect x="489.60" y="364.50" width="62.20" height="11.30" fill="none" stroke="#c02020" stroke-width="0.9" />
<circle cx="646.40" cy="335.30" r="3.70" fill="#f02020" stroke="none" stroke-width="0" />
<circle cx="597.60" cy="352.48" r="2.50" fill="#f22222" stroke="none" stroke-width="0" />
<circle cx="587.20" cy="369.66" r="2.50" fill="#f22222" stroke="none" stroke-width="0" />
<circle cx="584.20" cy="386.83" r="2.50" fill="#f22222" stroke="none" stroke-width="0" />
<circle cx="582.40" cy="404.01" r="2.50" fill="#f22222" stroke="none" stroke-width="0" />
<circle cx="582.30" cy="421.19" r="2.50" fill="#f22222" stroke="none" stroke-width="0" />
<circle cx="563.80" cy="438.37" r="2.60" fill="#c83cb4" stroke="none" stroke-width="0" />
<circle cx="563.50" cy="455.54" r="2.60" fill="#c83cb4" stroke="none" stroke-width="0" />
<circle cx="559.30" cy="472.72" r="0.90" fill="#8a3be0" stroke="none" stroke-width="0" />
<circle cx="557.90" cy="489.90" r="0.90" fill="#3030f0" stroke="none" stroke-width="0" />
<line x1="554.80" y1="499.00" x2="554.80" y2="500.50" stroke="#222" stroke-width="0.6" />
<text x="554.80" y="507.00" font-size="5.0" text-anchor="middle" font-weight="normal" fill="#222" stroke="#222" stroke-width="0.18" font-family='"Liberation Sans", sans-serif' >2</text>
<line x1="589.70" y1="499.00" x2="589.70" y2="500.50" stroke="#222" stroke-width="0.6" />
<text x="589.70" y="507.00" font-size="5.0" text-anchor="middle" font-weight="normal" fill="#222" stroke="#222" stroke-width="0.18" font-family='"Liberation Sans", sans-serif' >4</text>
<line x1="624.60" y1="499.00" x2="624.60" y2="500.50" stroke="#222" stroke-width="0.6" />
<text x="624.60" y="507.00" font-size="5.0" text-anchor="middle" font-weight="normal" fill="#222" stroke="#222" stroke-width="0.18" font-family='"Liberation Sans", sans-serif' >6</text>
<text x="602.90" y="514.80" font-size="5.6" text-anchor="middle" font-weight="normal" fill="#222" stroke="#222" stroke-width="0.18" font-family='"Liberation Sans", sans-serif' >EnrichmentScore (−log<tspan font-size="3.6" dy="1.2">10</tspan><tspan dy="-1.2">(pvalue))</tspan></text>
<text x="660.30" y="355.70" font-size="6.2" text-anchor="start" font-weight="normal" fill="#222" stroke="#222" stroke-width="0.18" font-family='"Liberation Sans", sans-serif' >Count</text>
<circle cx="665.60" cy="364.80" r="0.80" fill="#000" stroke="none" stroke-width="0" />
<text x="673.00" y="366.30" font-size="4.6" text-anchor="start" font-weight="normal" fill="#222" stroke="#222" stroke-width="0.18" font-family='"Liberation Sans", sans-serif' >1</text>
<circle cx="665.60" cy="375.00" r="2.20" fill="#000" stroke="none" stroke-width="0" />
<text x="673.00" y="376.50" font-size="4.6" text-anchor="start" font-weight="normal" fill="#222" stroke="#222" stroke-width="0.18" font-family='"Liberation Sans", sans-serif' >2</text>
<circle cx="665.60" cy="385.00" r="2.90" fill="#000" stroke="none" stroke-width="0" />
<text x="673.00" y="386.50" font-size="4.6" text-anchor="start" font-weight="normal" fill="#222" stroke="#222" stroke-width="0.18" font-family='"Liberation Sans", sans-serif' >3</text>
<circle cx="665.60" cy="395.80" r="3.50" fill="#000" stroke="none" stroke-width="0" />
<text x="673.00" y="397.30" font-size="4.6" text-anchor="start" font-weight="normal" fill="#222" stroke="#222" stroke-width="0.18" font-family='"Liberation Sans", sans-serif' >4</text>
<text x="660.30" y="419.40" font-size="6.2" text-anchor="start" font-weight="normal" fill="#222" stroke="#222" stroke-width="0.18" font-family='"Liberation Sans", sans-serif' >pvalue</text>
<defs><linearGradient id="pv" x1="0" y1="0" x2="0" y2="1"><stop offset="0" stop-color="#2a20ff"/><stop offset="0.45" stop-color="#b032c8"/><stop offset="1" stop-color="#ff1e1e"/></linearGradient></defs>
<rect x="661.10" y="423.50" width="8.40" height="50.90" fill="url(#pv)" stroke="none" stroke-width="0" />
<line x1="669.50" y1="428.00" x2="671.00" y2="428.00" stroke="#fff" stroke-width="0.5" />
<text x="672.30" y="429.50" font-size="4.6" text-anchor="start" font-weight="normal" fill="#222" stroke="#222" stroke-width="0.18" font-family='"Liberation Sans", sans-serif' >0.006</text>
<line x1="669.50" y1="443.50" x2="671.00" y2="443.50" stroke="#fff" stroke-width="0.5" />
<text x="672.30" y="445.00" font-size="4.6" text-anchor="start" font-weight="normal" fill="#222" stroke="#222" stroke-width="0.18" font-family='"Liberation Sans", sans-serif' >0.004</text>
<line x1="669.50" y1="458.80" x2="671.00" y2="458.80" stroke="#fff" stroke-width="0.5" />
<text x="672.30" y="460.30" font-size="4.6" text-anchor="start" font-weight="normal" fill="#222" stroke="#222" stroke-width="0.18" font-family='"Liberation Sans", sans-serif' >0.002</text>
<text transform="translate(-0.10,554.90) scale(1,1.05)" x="0" y="0" font-size="22.5" fill="#000" font-family='"Liberation Sans", sans-serif'>G</text>
<line x1="39.40" y1="588.30" x2="39.40" y2="700.90" stroke="#111" stroke-width="1.4" />
<line x1="38.80" y1="700.30" x2="169.60" y2="700.30" stroke="#111" stroke-width="1.4" />
<line x1="34.70" y1="588.90" x2="39.40" y2="588.90" stroke="#111" stroke-width="1.4" />
<text x="34.10" y="591.78" font-size="8.0" text-anchor="end" font-weight="bold" fill="#111" stroke="#111" stroke-width="0.18" font-family='"Liberation Sans", sans-serif' >30</text>
<line x1="34.70" y1="626.10" x2="39.40" y2="626.10" stroke="#111" stroke-width="1.4" />
<text x="34.10" y="628.98" font-size="8.0" text-anchor="end" font-weight="bold" fill="#111" stroke="#111" stroke-width="0.18" font-family='"Liberation Sans", sans-serif' >20</text>
<line x1="34.70" y1="663.20" x2="39.40" y2="663.20" stroke="#111" stroke-width="1.4" />
<text x="34.10" y="666.08" font-size="8.0" text-anchor="end" font-weight="bold" fill="#111" stroke="#111" stroke-width="0.18" font-family='"Liberation Sans", sans-serif' >10</text>
<line x1="34.70" y1="700.30" x2="39.40" y2="700.30" stroke="#111" stroke-width="1.4" />
<text x="34.10" y="703.18" font-size="8.0" text-anchor="end" font-weight="bold" fill="#111" stroke="#111" stroke-width="0.18" font-family='"Liberation Sans", sans-serif' >0</text>
<line x1="48.00" y1="700.30" x2="48.00" y2="704.80" stroke="#111" stroke-width="1.4" />
<line x1="60.30" y1="700.30" x2="60.30" y2="704.80" stroke="#111" stroke-width="1.4" />
<line x1="81.50" y1="700.30" x2="81.50" y2="704.80" stroke="#111" stroke-width="1.4" />
<line x1="94.00" y1="700.30" x2="94.00" y2="704.80" stroke="#111" stroke-width="1.4" />
<line x1="114.70" y1="700.30" x2="114.70" y2="704.80" stroke="#111" stroke-width="1.4" />
<line x1="128.00" y1="700.30" x2="128.00" y2="704.80" stroke="#111" stroke-width="1.4" />
<line x1="148.40" y1="700.30" x2="148.40" y2="704.80" stroke="#111" stroke-width="1.4" />
<line x1="161.20" y1="700.30" x2="161.20" y2="704.80" stroke="#111" stroke-width="1.4" />
<text x="50.40" y="711.80" font-size="8.0" text-anchor="end" font-weight="bold" fill="#111" stroke="#111" stroke-width="0.18" font-family='"Liberation Sans", sans-serif' transform="rotate(-45 50.40 711.80)">NA</text>
<text x="62.70" y="711.80" font-size="8.0" text-anchor="end" font-weight="bold" fill="#111" stroke="#111" stroke-width="0.18" font-family='"Liberation Sans", sans-serif' transform="rotate(-45 62.70 711.80)">CTRL</text>
<text x="83.90" y="711.80" font-size="8.0" text-anchor="end" font-weight="bold" fill="#111" stroke="#111" stroke-width="0.18" font-family='"Liberation Sans", sans-serif' transform="rotate(-45 83.90 711.80)">NA</text>
<text x="96.40" y="711.80" font-size="8.0" text-anchor="end" font-weight="bold" fill="#111" stroke="#111" stroke-width="0.18" font-family='"Liberation Sans", sans-serif' transform="rotate(-45 96.40 711.80)">CTRL</text>
<text x="117.10" y="711.80" font-size="8.0" text-anchor="end" font-weight="bold" fill="#111" stroke="#111" stroke-width="0.18" font-family='"Liberation Sans", sans-serif' transform="rotate(-45 117.10 711.80)">NA</text>
<text x="130.40" y="711.80" font-size="8.0" text-anchor="end" font-weight="bold" fill="#111" stroke="#111" stroke-width="0.18" font-family='"Liberation Sans", sans-serif' transform="rotate(-45 130.40 711.80)">CTRL</text>
<text x="150.80" y="711.80" font-size="8.0" text-anchor="end" font-weight="bold" fill="#111" stroke="#111" stroke-width="0.18" font-family='"Liberation Sans", sans-serif' transform="rotate(-45 150.80 711.80)">NA</text>
<text x="163.60" y="711.80" font-size="8.0" text-anchor="end" font-weight="bold" fill="#111" stroke="#111" stroke-width="0.18" font-family='"Liberation Sans", sans-serif' transform="rotate(-45 163.60 711.80)">CTRL</text>
<text x="20.10" y="644.80" font-size="9.15" text-anchor="middle" font-weight="bold" fill="#111" stroke="#111" stroke-width="0.18" font-family='"Liberation Sans", sans-serif' transform="rotate(-90 20.1 644.8)">Intensity of CD276</text>
<text x="54.20" y="578.50" font-size="8.6" text-anchor="middle" font-weight="normal" fill="#111" stroke="#111" stroke-width="0.18" font-family='"Liberation Sans", sans-serif' >0.2986</text>
<line x1="47.80" y1="583.70" x2="60.30" y2="583.70" stroke="#333" stroke-width="1.5" />
<text x="87.60" y="578.50" font-size="8.6" text-anchor="middle" font-weight="normal" fill="#111" stroke="#111" stroke-width="0.18" font-family='"Liberation Sans", sans-serif' >0.0018</text>
<line x1="81.50" y1="583.70" x2="94.00" y2="583.70" stroke="#333" stroke-width="1.5" />
<text x="121.30" y="579.00" font-size="8.6" text-anchor="middle" font-weight="normal" fill="#111" stroke="#111" stroke-width="0.18" font-family='"Liberation Sans", sans-serif' >0.0060</text>
<line x1="115.20" y1="583.60" x2="127.30" y2="583.60" stroke="#333" stroke-width="1.5" />
<text x="154.40" y="579.00" font-size="8.6" text-anchor="middle" font-weight="normal" fill="#111" stroke="#111" stroke-width="0.18" font-family='"Liberation Sans", sans-serif' >0.0001</text>
<line x1="148.60" y1="583.60" x2="161.20" y2="583.60" stroke="#333" stroke-width="1.5" />
<circle cx="45.60" cy="620.10" r="2.20" fill="#a51b1b" stroke="none" stroke-width="0" />
<circle cx="46.20" cy="627.10" r="2.20" fill="#a51b1b" stroke="none" stroke-width="0" />
<circle cx="50.10" cy="623.00" r="2.20" fill="#a51b1b" stroke="none" stroke-width="0" />
<circle cx="58.40" cy="607.80" r="2.20" fill="#a51b1b" stroke="none" stroke-width="0" />
<circle cx="60.70" cy="606.80" r="2.20" fill="#a51b1b" stroke="none" stroke-width="0" />
<circle cx="63.00" cy="607.20" r="2.20" fill="#a51b1b" stroke="none" stroke-width="0" />
<line x1="43.80" y1="622.60" x2="48.80" y2="622.60" stroke="#111" stroke-width="0.8" />
<circle cx="81.40" cy="626.30" r="2.20" fill="#16168c" stroke="none" stroke-width="0" />
<circle cx="79.30" cy="656.80" r="2.20" fill="#16168c" stroke="none" stroke-width="0" />
<circle cx="83.40" cy="656.80" r="2.20" fill="#16168c" stroke="none" stroke-width="0" />
<circle cx="91.50" cy="609.70" r="2.20" fill="#16168c" stroke="none" stroke-width="0" />
<circle cx="94.00" cy="607.80" r="2.20" fill="#16168c" stroke="none" stroke-width="0" />
<circle cx="96.30" cy="609.70" r="2.20" fill="#16168c" stroke="none" stroke-width="0" />
<circle cx="112.10" cy="616.10" r="2.20" fill="#1e6e1e" stroke="none" stroke-width="0" />
<circle cx="116.80" cy="616.10" r="2.20" fill="#1e6e1e" stroke="none" stroke-width="0" />
<circle cx="114.70" cy="656.50" r="2.20" fill="#1e6e1e" stroke="none" stroke-width="0" />
<circle cx="124.50" cy="597.40" r="2.20" fill="#1e6e1e" stroke="none" stroke-width="0" />
<circle cx="126.90" cy="596.90" r="2.20" fill="#1e6e1e" stroke="none" stroke-width="0" />
<circle cx="129.20" cy="597.40" r="2.20" fill="#1e6e1e" stroke="none" stroke-width="0" />
<circle cx="145.50" cy="656.50" r="2.20" fill="#8c8c22" stroke="none" stroke-width="0" />
<circle cx="147.50" cy="656.50" r="2.20" fill="#8c8c22" stroke="none" stroke-width="0" />
<circle cx="149.50" cy="656.50" r="2.20" fill="#8c8c22" stroke="none" stroke-width="0" />
<circle cx="151.40" cy="656.50" r="2.20" fill="#8c8c22" stroke="none" stroke-width="0" />
<circle cx="157.90" cy="607.90" r="2.20" fill="#8c8c22" stroke="none" stroke-width="0" />
<circle cx="160.70" cy="607.20" r="2.20" fill="#8c8c22" stroke="none" stroke-width="0" />
<circle cx="163.50" cy="607.40" r="2.20" fill="#8c8c22" stroke="none" stroke-width="0" />
<line x1="62.70" y1="646.40" x2="62.70" y2="654.70" stroke="#b0b0b0" stroke-width="0.7" />
<line x1="54.30" y1="654.70" x2="58.40" y2="663.20" stroke="#b0b0b0" stroke-width="0.7" />
<line x1="62.70" y1="654.70" x2="58.40" y2="663.20" stroke="#b0b0b0" stroke-width="0.7" />
<line x1="58.40" y1="663.20" x2="58.40" y2="671.60" stroke="#b0b0b0" stroke-width="0.7" />
<line x1="58.40" y1="671.60" x2="58.40" y2="680.10" stroke="#b0b0b0" stroke-width="0.7" />
<path d="M52.40,629.70 L54.30,627.80 L56.20,629.70 L54.30,631.60 Z" fill="#d23ee6"/>
<circle cx="54.30" cy="638.10" r="1.85" fill="#f2f23c" stroke="#9a9a30" stroke-width="0.25" />
<rect x="52.55" y="644.65" width="3.50" height="3.50" fill="#1a1af5" stroke="none" stroke-width="0" />
<circle cx="62.70" cy="646.40" r="1.85" fill="#44e044" stroke="#3a9a3a" stroke-width="0.25" />
<circle cx="54.30" cy="654.70" r="1.85" fill="#44e044" stroke="#3a9a3a" stroke-width="0.25" />
<circle cx="62.70" cy="654.70" r="1.85" fill="#44e044" stroke="#3a9a3a" stroke-width="0.25" />
<circle cx="58.40" cy="663.20" r="1.85" fill="#44e044" stroke="#3a9a3a" stroke-width="0.25" />
<rect x="56.65" y="669.85" width="3.50" height="3.50" fill="#1a1af5" stroke="none" stroke-width="0" />
<rect x="56.65" y="678.35" width="3.50" height="3.50" fill="#1a1af5" stroke="none" stroke-width="0" />
<line x1="88.20" y1="629.50" x2="88.20" y2="638.10" stroke="#b0b0b0" stroke-width="0.7" />
<line x1="88.20" y1="638.10" x2="88.20" y2="646.40" stroke="#b0b0b0" stroke-width="0.7" />
<line x1="96.70" y1="638.10" x2="96.70" y2="646.40" stroke="#b0b0b0" stroke-width="0.7" />
<line x1="88.20" y1="646.40" x2="88.20" y2="654.70" stroke="#b0b0b0" stroke-width="0.7" />
<line x1="96.70" y1="646.40" x2="96.70" y2="654.70" stroke="#b0b0b0" stroke-width="0.7" />
<line x1="88.20" y1="654.70" x2="92.30" y2="663.20" stroke="#b0b0b0" stroke-width="0.7" />
<line x1="96.70" y1="654.70" x2="92.30" y2="663.20" stroke="#b0b0b0" stroke-width="0.7" />
<line x1="92.30" y1="663.20" x2="92.30" y2="671.60" stroke="#b0b0b0" stroke-width="0.7" />
<line x1="92.30" y1="671.60" x2="92.30" y2="680.10" stroke="#b0b0b0" stroke-width="0.7" />
<line x1="92.30" y1="680.10" x2="101.30" y2="680.10" stroke="#b0b0b0" stroke-width="0.7" />
<path d="M86.30,629.50 L88.20,627.60 L90.10,629.50 L88.20,631.40 Z" fill="#d23ee6"/>
<circle cx="88.20" cy="638.10" r="1.85" fill="#f2f23c" stroke="#9a9a30" stroke-width="0.25" />
<circle cx="96.70" cy="638.10" r="1.85" fill="#f2f23c" stroke="#9a9a30" stroke-width="0.25" />
<rect x="86.45" y="644.65" width="3.50" height="3.50" fill="#1a1af5" stroke="none" stroke-width="0" />
<rect x="94.95" y="644.65" width="3.50" height="3.50" fill="#1a1af5" stroke="none" stroke-width="0" />
<circle cx="88.20" cy="654.70" r="1.85" fill="#44e044" stroke="#3a9a3a" stroke-width="0.25" />
<circle cx="96.70" cy="654.70" r="1.85" fill="#44e044" stroke="#3a9a3a" stroke-width="0.25" />
<circle cx="92.30" cy="663.20" r="1.85" fill="#44e044" stroke="#3a9a3a" stroke-width="0.25" />
<rect x="90.55" y="669.85" width="3.50" height="3.50" fill="#1a1af5" stroke="none" stroke-width="0" />
<rect x="90.55" y="678.35" width="3.50" height="3.50" fill="#1a1af5" stroke="none" stroke-width="0" />
<path d="M99.50,680.10 L103.10,678.30 L103.10,681.90 Z" fill="#f21a1a"/>
<line x1="123.40" y1="628.00" x2="123.40" y2="635.90" stroke="#b0b0b0" stroke-width="0.7" />
<line x1="123.40" y1="635.90" x2="123.40" y2="644.60" stroke="#b0b0b0" stroke-width="0.7" />
<line x1="132.20" y1="635.90" x2="132.20" y2="644.60" stroke="#b0b0b0" stroke-width="0.7" />
<line x1="123.40" y1="644.60" x2="123.40" y2="653.00" stroke="#b0b0b0" stroke-width="0.7" />
<line x1="132.20" y1="644.60" x2="132.20" y2="653.00" stroke="#b0b0b0" stroke-width="0.7" />
<line x1="123.40" y1="653.00" x2="128.00" y2="661.60" stroke="#b0b0b0" stroke-width="0.7" />
<line x1="132.20" y1="653.00" x2="128.00" y2="661.60" stroke="#b0b0b0" stroke-width="0.7" />
<line x1="128.00" y1="661.60" x2="128.00" y2="669.80" stroke="#b0b0b0" stroke-width="0.7" />
<line x1="128.00" y1="669.80" x2="128.00" y2="678.40" stroke="#b0b0b0" stroke-width="0.7" />
<path d="M121.50,628.00 L123.40,626.10 L125.30,628.00 L123.40,629.90 Z" fill="#d23ee6"/>
<circle cx="123.40" cy="635.90" r="1.85" fill="#f2f23c" stroke="#9a9a30" stroke-width="0.25" />
<circle cx="132.20" cy="635.90" r="1.85" fill="#f2f23c" stroke="#9a9a30" stroke-width="0.25" />
<rect x="121.65" y="642.85" width="3.50" height="3.50" fill="#1a1af5" stroke="none" stroke-width="0" />
<rect x="130.45" y="642.85" width="3.50" height="3.50" fill="#1a1af5" stroke="none" stroke-width="0" />
<circle cx="123.40" cy="653.00" r="1.85" fill="#44e044" stroke="#3a9a3a" stroke-width="0.25" />
<circle cx="132.20" cy="653.00" r="1.85" fill="#44e044" stroke="#3a9a3a" stroke-width="0.25" />
<circle cx="128.00" cy="661.60" r="1.85" fill="#44e044" stroke="#3a9a3a" stroke-width="0.25" />
<rect x="126.25" y="668.05" width="3.50" height="3.50" fill="#1a1af5" stroke="none" stroke-width="0" />
<rect x="126.25" y="676.65" width="3.50" height="3.50" fill="#1a1af5" stroke="none" stroke-width="0" />
<line x1="163.80" y1="628.00" x2="163.80" y2="636.40" stroke="#b0b0b0" stroke-width="0.7" />
<line x1="163.80" y1="636.40" x2="163.80" y2="644.60" stroke="#b0b0b0" stroke-width="0.7" />
<line x1="163.80" y1="644.60" x2="163.80" y2="653.00" stroke="#b0b0b0" stroke-width="0.7" />
<line x1="155.60" y1="653.00" x2="159.60" y2="661.60" stroke="#b0b0b0" stroke-width="0.7" />
<line x1="163.80" y1="653.00" x2="159.60" y2="661.60" stroke="#b0b0b0" stroke-width="0.7" />
<line x1="159.60" y1="661.60" x2="159.60" y2="669.80" stroke="#b0b0b0" stroke-width="0.7" />
<line x1="159.60" y1="669.80" x2="159.60" y2="678.40" stroke="#b0b0b0" stroke-width="0.7" />
<path d="M161.90,628.00 L163.80,626.10 L165.70,628.00 L163.80,629.90 Z" fill="#d23ee6"/>
<circle cx="163.80" cy="636.40" r="1.85" fill="#f2f23c" stroke="#9a9a30" stroke-width="0.25" />
<rect x="162.05" y="642.85" width="3.50" height="3.50" fill="#1a1af5" stroke="none" stroke-width="0" />
<circle cx="155.60" cy="653.00" r="1.85" fill="#44e044" stroke="#3a9a3a" stroke-width="0.25" />
<circle cx="163.80" cy="653.00" r="1.85" fill="#44e044" stroke="#3a9a3a" stroke-width="0.25" />
<circle cx="159.60" cy="661.60" r="1.85" fill="#44e044" stroke="#3a9a3a" stroke-width="0.25" />
<rect x="157.85" y="668.05" width="3.50" height="3.50" fill="#1a1af5" stroke="none" stroke-width="0" />
<rect x="157.85" y="676.65" width="3.50" height="3.50" fill="#1a1af5" stroke="none" stroke-width="0" />
<circle cx="178.70" cy="635.90" r="2.30" fill="#a51b1b" stroke="none" stroke-width="0" />
<text x="191.10" y="638.92" font-size="8.4" text-anchor="start" font-weight="normal" fill="#111" stroke="#111" stroke-width="0.18" font-family='"Liberation Sans", sans-serif' >H(5)N(3)A(1)</text>
<circle cx="178.70" cy="651.10" r="2.30" fill="#16168c" stroke="none" stroke-width="0" />
<text x="191.10" y="654.12" font-size="8.4" text-anchor="start" font-weight="normal" fill="#111" stroke="#111" stroke-width="0.18" font-family='"Liberation Sans", sans-serif' >H(5)N(4)A(1)F(1)</text>
<circle cx="178.70" cy="666.30" r="2.30" fill="#1e6e1e" stroke="none" stroke-width="0" />
<text x="191.10" y="669.32" font-size="8.4" text-anchor="start" font-weight="normal" fill="#111" stroke="#111" stroke-width="0.18" font-family='"Liberation Sans", sans-serif' >H(5)N(4)A(1)</text>
<circle cx="178.70" cy="681.00" r="2.30" fill="#8c8c22" stroke="none" stroke-width="0" />
<text x="191.10" y="684.02" font-size="8.4" text-anchor="start" font-weight="normal" fill="#111" stroke="#111" stroke-width="0.18" font-family='"Liberation Sans", sans-serif' >H(4)N(3)A(1)</text>
<text transform="translate(270.90,556.20) scale(1,1.05)" x="0" y="0" font-size="22.5" fill="#000" font-family='"Liberation Sans", sans-serif'>H</text>
<line x1="308.40" y1="586.60" x2="308.40" y2="700.20" stroke="#111" stroke-width="1.4" />
<line x1="307.80" y1="699.60" x2="441.20" y2="699.60" stroke="#111" stroke-width="1.4" />
<line x1="303.70" y1="587.20" x2="308.40" y2="587.20" stroke="#111" stroke-width="1.4" />
<text x="303.10" y="590.08" font-size="8.0" text-anchor="end" font-weight="bold" fill="#111" stroke="#111" stroke-width="0.18" font-family='"Liberation Sans", sans-serif' >30</text>
<line x1="303.70" y1="624.70" x2="308.40" y2="624.70" stroke="#111" stroke-width="1.4" />
<text x="303.10" y="627.58" font-size="8.0" text-anchor="end" font-weight="bold" fill="#111" stroke="#111" stroke-width="0.18" font-family='"Liberation Sans", sans-serif' >20</text>
<line x1="303.70" y1="662.10" x2="308.40" y2="662.10" stroke="#111" stroke-width="1.4" />
<text x="303.10" y="664.98" font-size="8.0" text-anchor="end" font-weight="bold" fill="#111" stroke="#111" stroke-width="0.18" font-family='"Liberation Sans", sans-serif' >10</text>
<line x1="303.70" y1="699.60" x2="308.40" y2="699.60" stroke="#111" stroke-width="1.4" />
<text x="303.10" y="702.48" font-size="8.0" text-anchor="end" font-weight="bold" fill="#111" stroke="#111" stroke-width="0.18" font-family='"Liberation Sans", sans-serif' >0</text>
<line x1="317.20" y1="699.60" x2="317.20" y2="704.10" stroke="#111" stroke-width="1.4" />
<line x1="329.90" y1="699.60" x2="329.90" y2="704.10" stroke="#111" stroke-width="1.4" />
<line x1="351.40" y1="699.60" x2="351.40" y2="704.10" stroke="#111" stroke-width="1.4" />
<line x1="363.80" y1="699.60" x2="363.80" y2="704.10" stroke="#111" stroke-width="1.4" />
<line x1="385.30" y1="699.60" x2="385.30" y2="704.10" stroke="#111" stroke-width="1.4" />
<line x1="398.00" y1="699.60" x2="398.00" y2="704.10" stroke="#111" stroke-width="1.4" />
<line x1="419.90" y1="699.60" x2="419.90" y2="704.10" stroke="#111" stroke-width="1.4" />
<line x1="432.80" y1="699.60" x2="432.80" y2="704.10" stroke="#111" stroke-width="1.4" />
<text x="319.60" y="711.20" font-size="8.0" text-anchor="end" font-weight="bold" fill="#111" stroke="#111" stroke-width="0.18" font-family='"Liberation Sans", sans-serif' transform="rotate(-45 319.60 711.20)">NA</text>
<text x="332.30" y="711.20" font-size="8.0" text-anchor="end" font-weight="bold" fill="#111" stroke="#111" stroke-width="0.18" font-family='"Liberation Sans", sans-serif' transform="rotate(-45 332.30 711.20)">CTRL</text>
<text x="353.80" y="711.20" font-size="8.0" text-anchor="end" font-weight="bold" fill="#111" stroke="#111" stroke-width="0.18" font-family='"Liberation Sans", sans-serif' transform="rotate(-45 353.80 711.20)">NA</text>
<text x="366.20" y="711.20" font-size="8.0" text-anchor="end" font-weight="bold" fill="#111" stroke="#111" stroke-width="0.18" font-family='"Liberation Sans", sans-serif' transform="rotate(-45 366.20 711.20)">CTRL</text>
<text x="387.70" y="711.20" font-size="8.0" text-anchor="end" font-weight="bold" fill="#111" stroke="#111" stroke-width="0.18" font-family='"Liberation Sans", sans-serif' transform="rotate(-45 387.70 711.20)">NA</text>
<text x="400.40" y="711.20" font-size="8.0" text-anchor="end" font-weight="bold" fill="#111" stroke="#111" stroke-width="0.18" font-family='"Liberation Sans", sans-serif' transform="rotate(-45 400.40 711.20)">CTRL</text>
<text x="422.30" y="711.20" font-size="8.0" text-anchor="end" font-weight="bold" fill="#111" stroke="#111" stroke-width="0.18" font-family='"Liberation Sans", sans-serif' transform="rotate(-45 422.30 711.20)">NA</text>
<text x="435.20" y="711.20" font-size="8.0" text-anchor="end" font-weight="bold" fill="#111" stroke="#111" stroke-width="0.18" font-family='"Liberation Sans", sans-serif' transform="rotate(-45 435.20 711.20)">CTRL</text>
<text x="287.40" y="643.50" font-size="9.3" text-anchor="middle" font-weight="bold" fill="#111" stroke="#111" stroke-width="0.18" font-family='"Liberation Sans", sans-serif' transform="rotate(-90 287.4 643.5)">Intensity of ITGA2</text>
<text x="323.50" y="588.84" font-size="9.0" text-anchor="middle" font-weight="normal" fill="#111" stroke="#111" stroke-width="0.18" font-family='"Liberation Sans", sans-serif' >0.0007</text>
<line x1="317.20" y1="594.00" x2="329.90" y2="594.00" stroke="#333" stroke-width="1.5" />
<text x="357.60" y="564.94" font-size="9.0" text-anchor="middle" font-weight="normal" fill="#111" stroke="#111" stroke-width="0.18" font-family='"Liberation Sans", sans-serif' >0.9824</text>
<line x1="351.40" y1="569.90" x2="363.80" y2="569.90" stroke="#333" stroke-width="1.5" />
<text x="391.60" y="540.94" font-size="9.0" text-anchor="middle" font-weight="normal" fill="#111" stroke="#111" stroke-width="0.18" font-family='"Liberation Sans", sans-serif' >0.0006</text>
<line x1="385.30" y1="545.80" x2="398.00" y2="545.80" stroke="#333" stroke-width="1.5" />
<text x="425.60" y="589.04" font-size="9.0" text-anchor="middle" font-weight="normal" fill="#111" stroke="#111" stroke-width="0.18" font-family='"Liberation Sans", sans-serif' >&lt;0.0001</text>
<line x1="419.90" y1="593.90" x2="432.40" y2="593.90" stroke="#333" stroke-width="1.5" />
<circle cx="314.40" cy="655.30" r="2.20" fill="#a51b1b" stroke="none" stroke-width="0" />
<circle cx="316.40" cy="655.30" r="2.20" fill="#a51b1b" stroke="none" stroke-width="0" />
<circle cx="318.40" cy="655.30" r="2.20" fill="#a51b1b" stroke="none" stroke-width="0" />
<circle cx="320.30" cy="655.30" r="2.20" fill="#a51b1b" stroke="none" stroke-width="0" />
<circle cx="327.40" cy="620.00" r="2.20" fill="#a51b1b" stroke="none" stroke-width="0" />
<circle cx="327.20" cy="625.00" r="2.20" fill="#a51b1b" stroke="none" stroke-width="0" />
<circle cx="331.50" cy="623.20" r="2.20" fill="#a51b1b" stroke="none" stroke-width="0" />
<line x1="325.50" y1="622.80" x2="331.00" y2="622.80" stroke="#111" stroke-width="0.8" />
<circle cx="351.40" cy="607.30" r="2.20" fill="#16168c" stroke="none" stroke-width="0" />
<circle cx="353.60" cy="620.00" r="2.20" fill="#16168c" stroke="none" stroke-width="0" />
<circle cx="348.90" cy="624.00" r="2.20" fill="#16168c" stroke="none" stroke-width="0" />
<circle cx="361.80" cy="610.30" r="2.20" fill="#16168c" stroke="none" stroke-width="0" />
<circle cx="364.20" cy="607.30" r="2.20" fill="#16168c" stroke="none" stroke-width="0" />
<circle cx="366.30" cy="609.70" r="2.20" fill="#16168c" stroke="none" stroke-width="0" />
<line x1="346.50" y1="620.50" x2="352.00" y2="620.50" stroke="#111" stroke-width="0.8" />
<circle cx="385.30" cy="618.00" r="2.20" fill="#1e6e1e" stroke="none" stroke-width="0" />
<circle cx="383.10" cy="655.50" r="2.20" fill="#1e6e1e" stroke="none" stroke-width="0" />
<circle cx="387.50" cy="655.50" r="2.20" fill="#1e6e1e" stroke="none" stroke-width="0" />
<circle cx="395.80" cy="610.60" r="2.20" fill="#1e6e1e" stroke="none" stroke-width="0" />
<circle cx="398.00" cy="608.40" r="2.20" fill="#1e6e1e" stroke="none" stroke-width="0" />
<circle cx="400.20" cy="609.30" r="2.20" fill="#1e6e1e" stroke="none" stroke-width="0" />
<circle cx="416.00" cy="655.50" r="2.20" fill="#8c8c22" stroke="none" stroke-width="0" />
<circle cx="418.00" cy="655.50" r="2.20" fill="#8c8c22" stroke="none" stroke-width="0" />
<circle cx="420.30" cy="655.50" r="2.20" fill="#8c8c22" stroke="none" stroke-width="0" />
<circle cx="422.50" cy="655.50" r="2.20" fill="#8c8c22" stroke="none" stroke-width="0" />
<circle cx="429.10" cy="612.10" r="2.20" fill="#8c8c22" stroke="none" stroke-width="0" />
<circle cx="431.70" cy="611.00" r="2.20" fill="#8c8c22" stroke="none" stroke-width="0" />
<circle cx="434.60" cy="611.00" r="2.20" fill="#8c8c22" stroke="none" stroke-width="0" />
<line x1="335.60" y1="619.30" x2="335.60" y2="629.50" stroke="#b0b0b0" stroke-width="0.7" />
<line x1="335.60" y1="629.50" x2="335.60" y2="639.30" stroke="#b0b0b0" stroke-width="0.7" />
<line x1="335.60" y1="639.30" x2="335.60" y2="648.90" stroke="#b0b0b0" stroke-width="0.7" />
<line x1="325.80" y1="648.90" x2="330.70" y2="659.20" stroke="#b0b0b0" stroke-width="0.7" />
<line x1="335.60" y1="648.90" x2="330.70" y2="659.20" stroke="#b0b0b0" stroke-width="0.7" />
<line x1="330.70" y1="659.20" x2="330.70" y2="669.00" stroke="#b0b0b0" stroke-width="0.7" />
<line x1="330.70" y1="669.00" x2="330.70" y2="678.80" stroke="#b0b0b0" stroke-width="0.7" />
<path d="M333.70,619.30 L335.60,617.40 L337.50,619.30 L335.60,621.20 Z" fill="#d23ee6"/>
<circle cx="335.60" cy="629.50" r="1.85" fill="#f2f23c" stroke="#9a9a30" stroke-width="0.25" />
<rect x="333.85" y="637.55" width="3.50" height="3.50" fill="#1a1af5" stroke="none" stroke-width="0" />
<circle cx="325.80" cy="648.90" r="1.85" fill="#44e044" stroke="#3a9a3a" stroke-width="0.25" />
<circle cx="335.60" cy="648.90" r="1.85" fill="#44e044" stroke="#3a9a3a" stroke-width="0.25" />
<circle cx="330.70" cy="659.20" r="1.85" fill="#44e044" stroke="#3a9a3a" stroke-width="0.25" />
<rect x="328.95" y="667.25" width="3.50" height="3.50" fill="#1a1af5" stroke="none" stroke-width="0" />
<rect x="328.95" y="677.05" width="3.50" height="3.50" fill="#1a1af5" stroke="none" stroke-width="0" />
<line x1="358.50" y1="619.30" x2="358.50" y2="629.50" stroke="#b0b0b0" stroke-width="0.7" />
<line x1="358.50" y1="629.50" x2="358.50" y2="639.30" stroke="#b0b0b0" stroke-width="0.7" />
<line x1="368.30" y1="629.50" x2="368.30" y2="639.30" stroke="#b0b0b0" stroke-width="0.7" />
<line x1="358.50" y1="639.30" x2="358.50" y2="648.90" stroke="#b0b0b0" stroke-width="0.7" />
<line x1="368.30" y1="639.30" x2="368.30" y2="648.90" stroke="#b0b0b0" stroke-width="0.7" />
<line x1="358.50" y1="648.90" x2="363.40" y2="659.20" stroke="#b0b0b0" stroke-width="0.7" />
<line x1="368.30" y1="648.90" x2="363.40" y2="659.20" stroke="#b0b0b0" stroke-width="0.7" />
<line x1="363.40" y1="659.20" x2="363.40" y2="669.00" stroke="#b0b0b0" stroke-width="0.7" />
<line x1="363.40" y1="669.00" x2="363.40" y2="678.80" stroke="#b0b0b0" stroke-width="0.7" />
<path d="M356.60,619.30 L358.50,617.40 L360.40,619.30 L358.50,621.20 Z" fill="#d23ee6"/>
<circle cx="358.50" cy="629.50" r="1.85" fill="#f2f23c" stroke="#9a9a30" stroke-width="0.25" />
<circle cx="368.30" cy="629.50" r="1.85" fill="#f2f23c" stroke="#9a9a30" stroke-width="0.25" />
<rect x="356.75" y="637.55" width="3.50" height="3.50" fill="#1a1af5" stroke="none" stroke-width="0" />
<rect x="366.55" y="637.55" width="3.50" height="3.50" fill="#1a1af5" stroke="none" stroke-width="0" />
<circle cx="358.50" cy="648.90" r="1.85" fill="#44e044" stroke="#3a9a3a" stroke-width="0.25" />
<circle cx="368.30" cy="648.90" r="1.85" fill="#44e044" stroke="#3a9a3a" stroke-width="0.25" />
<circle cx="363.40" cy="659.20" r="1.85" fill="#44e044" stroke="#3a9a3a" stroke-width="0.25" />
<rect x="361.65" y="667.25" width="3.50" height="3.50" fill="#1a1af5" stroke="none" stroke-width="0" />
<rect x="361.65" y="677.05" width="3.50" height="3.50" fill="#1a1af5" stroke="none" stroke-width="0" />
<line x1="391.50" y1="619.30" x2="391.50" y2="629.60" stroke="#b0b0b0" stroke-width="0.7" />
<line x1="391.50" y1="629.60" x2="391.50" y2="639.00" stroke="#b0b0b0" stroke-width="0.7" />
<line x1="401.70" y1="629.60" x2="401.70" y2="639.00" stroke="#b0b0b0" stroke-width="0.7" />
<line x1="391.50" y1="639.00" x2="391.50" y2="649.30" stroke="#b0b0b0" stroke-width="0.7" />
<line x1="401.70" y1="639.00" x2="401.70" y2="649.30" stroke="#b0b0b0" stroke-width="0.7" />
<line x1="391.50" y1="649.30" x2="396.70" y2="659.20" stroke="#b0b0b0" stroke-width="0.7" />
<line x1="401.70" y1="649.30" x2="396.70" y2="659.20" stroke="#b0b0b0" stroke-width="0.7" />
<line x1="396.70" y1="659.20" x2="396.70" y2="669.00" stroke="#b0b0b0" stroke-width="0.7" />
<line x1="396.70" y1="669.00" x2="396.70" y2="678.90" stroke="#b0b0b0" stroke-width="0.7" />
<line x1="396.70" y1="678.90" x2="406.80" y2="678.90" stroke="#b0b0b0" stroke-width="0.7" />
<path d="M389.60,619.30 L391.50,617.40 L393.40,619.30 L391.50,621.20 Z" fill="#d23ee6"/>
<circle cx="391.50" cy="629.60" r="1.85" fill="#f2f23c" stroke="#9a9a30" stroke-width="0.25" />
<circle cx="401.70" cy="629.60" r="1.85" fill="#f2f23c" stroke="#9a9a30" stroke-width="0.25" />
<rect x="389.75" y="637.25" width="3.50" height="3.50" fill="#1a1af5" stroke="none" stroke-width="0" />
<rect x="399.95" y="637.25" width="3.50" height="3.50" fill="#1a1af5" stroke="none" stroke-width="0" />
<circle cx="391.50" cy="649.30" r="1.85" fill="#44e044" stroke="#3a9a3a" stroke-width="0.25" />
<circle cx="401.70" cy="649.30" r="1.85" fill="#44e044" stroke="#3a9a3a" stroke-width="0.25" />
<circle cx="396.70" cy="659.20" r="1.85" fill="#44e044" stroke="#3a9a3a" stroke-width="0.25" />
<rect x="394.95" y="667.25" width="3.50" height="3.50" fill="#1a1af5" stroke="none" stroke-width="0" />
<rect x="394.95" y="677.15" width="3.50" height="3.50" fill="#1a1af5" stroke="none" stroke-width="0" />
<path d="M405.00,678.90 L408.60,677.10 L408.60,680.70 Z" fill="#f21a1a"/>
<line x1="425.80" y1="619.30" x2="425.80" y2="629.60" stroke="#b0b0b0" stroke-width="0.7" />
<line x1="435.30" y1="619.30" x2="435.30" y2="629.60" stroke="#b0b0b0" stroke-width="0.7" />
<line x1="425.80" y1="629.60" x2="425.80" y2="639.00" stroke="#b0b0b0" stroke-width="0.7" />
<line x1="435.30" y1="629.60" x2="435.30" y2="639.00" stroke="#b0b0b0" stroke-width="0.7" />
<line x1="425.80" y1="639.00" x2="425.80" y2="649.30" stroke="#b0b0b0" stroke-width="0.7" />
<line x1="435.30" y1="639.00" x2="435.30" y2="649.30" stroke="#b0b0b0" stroke-width="0.7" />
<line x1="425.80" y1="649.30" x2="430.70" y2="659.20" stroke="#b0b0b0" stroke-width="0.7" />
<line x1="435.30" y1="649.30" x2="430.70" y2="659.20" stroke="#b0b0b0" stroke-width="0.7" />
<line x1="430.70" y1="659.20" x2="430.70" y2="669.00" stroke="#b0b0b0" stroke-width="0.7" />
<line x1="430.70" y1="669.00" x2="430.70" y2="678.90" stroke="#b0b0b0" stroke-width="0.7" />
<path d="M423.90,619.30 L425.80,617.40 L427.70,619.30 L425.80,621.20 Z" fill="#d23ee6"/>
<path d="M433.40,619.30 L435.30,617.40 L437.20,619.30 L435.30,621.20 Z" fill="#d23ee6"/>
<circle cx="425.80" cy="629.60" r="1.85" fill="#f2f23c" stroke="#9a9a30" stroke-width="0.25" />
<circle cx="435.30" cy="629.60" r="1.85" fill="#f2f23c" stroke="#9a9a30" stroke-width="0.25" />
<rect x="424.05" y="637.25" width="3.50" height="3.50" fill="#1a1af5" stroke="none" stroke-width="0" />
<rect x="433.55" y="637.25" width="3.50" height="3.50" fill="#1a1af5" stroke="none" stroke-width="0" />
<circle cx="425.80" cy="649.30" r="1.85" fill="#44e044" stroke="#3a9a3a" stroke-width="0.25" />
<circle cx="435.30" cy="649.30" r="1.85" fill="#44e044" stroke="#3a9a3a" stroke-width="0.25" />
<circle cx="430.70" cy="659.20" r="1.85" fill="#44e044" stroke="#3a9a3a" stroke-width="0.25" />
<rect x="428.95" y="667.25" width="3.50" height="3.50" fill="#1a1af5" stroke="none" stroke-width="0" />
<rect x="428.95" y="677.15" width="3.50" height="3.50" fill="#1a1af5" stroke="none" stroke-width="0" />
<circle cx="452.80" cy="634.70" r="2.30" fill="#a51b1b" stroke="none" stroke-width="0" />
<text x="465.20" y="637.94" font-size="9.0" text-anchor="start" font-weight="normal" fill="#111" stroke="#111" stroke-width="0.18" font-family='"Liberation Sans", sans-serif' >H(4)N(3)A(1)</text>
<circle cx="452.80" cy="650.00" r="2.30" fill="#16168c" stroke="none" stroke-width="0" />
<text x="465.20" y="653.24" font-size="9.0" text-anchor="start" font-weight="normal" fill="#111" stroke="#111" stroke-width="0.18" font-family='"Liberation Sans", sans-serif' >H(5)N(4)A(1)</text>
<circle cx="452.80" cy="664.70" r="2.30" fill="#1e6e1e" stroke="none" stroke-width="0" />
<text x="465.20" y="667.94" font-size="9.0" text-anchor="start" font-weight="normal" fill="#111" stroke="#111" stroke-width="0.18" font-family='"Liberation Sans", sans-serif' >H(5)N(4)A(1)F(1)</text>
<circle cx="452.80" cy="680.00" r="2.30" fill="#8c8c22" stroke="none" stroke-width="0" />
<text x="465.20" y="683.24" font-size="9.0" text-anchor="start" font-weight="normal" fill="#111" stroke="#111" stroke-width="0.18" font-family='"Liberation Sans", sans-serif' >H(5)N(4)A(2)</text>
<text transform="translate(4.90,764.70) scale(1,1.05)" x="0" y="0" font-size="22.5" fill="#000" font-family='"Liberation Sans", sans-serif'>I</text>
<line x1="39.40" y1="780.10" x2="39.40" y2="891.90" stroke="#111" stroke-width="1.4" />
<line x1="38.80" y1="891.30" x2="177.60" y2="891.30" stroke="#111" stroke-width="1.4" />
<line x1="34.70" y1="780.70" x2="39.40" y2="780.70" stroke="#111" stroke-width="1.4" />
<text x="34.10" y="783.58" font-size="8.0" text-anchor="end" font-weight="bold" fill="#111" stroke="#111" stroke-width="0.18" font-family='"Liberation Sans", sans-serif' >30</text>
<line x1="34.70" y1="817.60" x2="39.40" y2="817.60" stroke="#111" stroke-width="1.4" />
<text x="34.10" y="820.48" font-size="8.0" text-anchor="end" font-weight="bold" fill="#111" stroke="#111" stroke-width="0.18" font-family='"Liberation Sans", sans-serif' >20</text>
<line x1="34.70" y1="854.40" x2="39.40" y2="854.40" stroke="#111" stroke-width="1.4" />
<text x="34.10" y="857.28" font-size="8.0" text-anchor="end" font-weight="bold" fill="#111" stroke="#111" stroke-width="0.18" font-family='"Liberation Sans", sans-serif' >10</text>
<line x1="34.70" y1="891.30" x2="39.40" y2="891.30" stroke="#111" stroke-width="1.4" />
<text x="34.10" y="894.18" font-size="8.0" text-anchor="end" font-weight="bold" fill="#111" stroke="#111" stroke-width="0.18" font-family='"Liberation Sans", sans-serif' >0</text>
<line x1="48.20" y1="891.30" x2="48.20" y2="895.80" stroke="#111" stroke-width="1.4" />
<line x1="61.60" y1="891.30" x2="61.60" y2="895.80" stroke="#111" stroke-width="1.4" />
<line x1="83.80" y1="891.30" x2="83.80" y2="895.80" stroke="#111" stroke-width="1.4" />
<line x1="97.30" y1="891.30" x2="97.30" y2="895.80" stroke="#111" stroke-width="1.4" />
<line x1="119.90" y1="891.30" x2="119.90" y2="895.80" stroke="#111" stroke-width="1.4" />
<line x1="132.70" y1="891.30" x2="132.70" y2="895.80" stroke="#111" stroke-width="1.4" />
<line x1="155.40" y1="891.30" x2="155.40" y2="895.80" stroke="#111" stroke-width="1.4" />
<line x1="168.40" y1="891.30" x2="168.40" y2="895.80" stroke="#111" stroke-width="1.4" />
<text x="50.60" y="902.60" font-size="8.0" text-anchor="end" font-weight="bold" fill="#111" stroke="#111" stroke-width="0.18" font-family='"Liberation Sans", sans-serif' transform="rotate(-45 50.60 902.60)">NA</text>
<text x="64.00" y="902.60" font-size="8.0" text-anchor="end" font-weight="bold" fill="#111" stroke="#111" stroke-width="0.18" font-family='"Liberation Sans", sans-serif' transform="rotate(-45 64.00 902.60)">CTRL</text>
<text x="86.20" y="902.60" font-size="8.0" text-anchor="end" font-weight="bold" fill="#111" stroke="#111" stroke-width="0.18" font-family='"Liberation Sans", sans-serif' transform="rotate(-45 86.20 902.60)">NA</text>
<text x="99.70" y="902.60" font-size="8.0" text-anchor="end" font-weight="bold" fill="#111" stroke="#111" stroke-width="0.18" font-family='"Liberation Sans", sans-serif' transform="rotate(-45 99.70 902.60)">CTRL</text>
<text x="122.30" y="902.60" font-size="8.0" text-anchor="end" font-weight="bold" fill="#111" stroke="#111" stroke-width="0.18" font-family='"Liberation Sans", sans-serif' transform="rotate(-45 122.30 902.60)">NA</text>
<text x="135.10" y="902.60" font-size="8.0" text-anchor="end" font-weight="bold" fill="#111" stroke="#111" stroke-width="0.18" font-family='"Liberation Sans", sans-serif' transform="rotate(-45 135.10 902.60)">CTRL</text>
<text x="157.80" y="902.60" font-size="8.0" text-anchor="end" font-weight="bold" fill="#111" stroke="#111" stroke-width="0.18" font-family='"Liberation Sans", sans-serif' transform="rotate(-45 157.80 902.60)">NA</text>
<text x="170.80" y="902.60" font-size="8.0" text-anchor="end" font-weight="bold" fill="#111" stroke="#111" stroke-width="0.18" font-family='"Liberation Sans", sans-serif' transform="rotate(-45 170.80 902.60)">CTRL</text>
<text x="20.30" y="836.40" font-size="9.17" text-anchor="middle" font-weight="bold" fill="#111" stroke="#111" stroke-width="0.18" font-family='"Liberation Sans", sans-serif' transform="rotate(-90 20.3 836.4)">Intensity of CD151</text>
<text x="54.70" y="774.17" font-size="8.8" text-anchor="middle" font-weight="normal" fill="#111" stroke="#111" stroke-width="0.18" font-family='"Liberation Sans", sans-serif' >&lt;0.0001</text>
<line x1="48.20" y1="779.70" x2="61.60" y2="779.70" stroke="#333" stroke-width="1.5" />
<text x="90.20" y="750.87" font-size="8.8" text-anchor="middle" font-weight="normal" fill="#111" stroke="#111" stroke-width="0.18" font-family='"Liberation Sans", sans-serif' >&lt;0.0001</text>
<line x1="83.80" y1="755.60" x2="97.30" y2="755.60" stroke="#333" stroke-width="1.5" />
<text x="125.90" y="774.47" font-size="8.8" text-anchor="middle" font-weight="normal" fill="#111" stroke="#111" stroke-width="0.18" font-family='"Liberation Sans", sans-serif' >&lt;0.0001</text>
<line x1="119.90" y1="779.50" x2="132.70" y2="779.50" stroke="#333" stroke-width="1.5" />
<text x="161.50" y="750.67" font-size="8.8" text-anchor="middle" font-weight="normal" fill="#111" stroke="#111" stroke-width="0.18" font-family='"Liberation Sans", sans-serif' >&lt;0.0001</text>
<line x1="155.40" y1="756.20" x2="168.20" y2="756.20" stroke="#333" stroke-width="1.5" />
<circle cx="44.30" cy="847.90" r="2.20" fill="#a51b1b" stroke="none" stroke-width="0" />
<circle cx="46.80" cy="847.90" r="2.20" fill="#a51b1b" stroke="none" stroke-width="0" />
<circle cx="49.40" cy="847.90" r="2.20" fill="#a51b1b" stroke="none" stroke-width="0" />
<circle cx="52.00" cy="847.90" r="2.20" fill="#a51b1b" stroke="none" stroke-width="0" />
<circle cx="59.30" cy="793.60" r="2.20" fill="#a51b1b" stroke="none" stroke-width="0" />
<circle cx="64.10" cy="795.10" r="2.20" fill="#a51b1b" stroke="none" stroke-width="0" />
<circle cx="61.60" cy="802.20" r="2.20" fill="#a51b1b" stroke="none" stroke-width="0" />
<circle cx="79.90" cy="847.90" r="2.20" fill="#16168c" stroke="none" stroke-width="0" />
<circle cx="82.50" cy="847.90" r="2.20" fill="#16168c" stroke="none" stroke-width="0" />
<circle cx="85.10" cy="847.90" r="2.20" fill="#16168c" stroke="none" stroke-width="0" />
<circle cx="87.60" cy="847.90" r="2.20" fill="#16168c" stroke="none" stroke-width="0" />
<circle cx="94.80" cy="798.40" r="2.20" fill="#16168c" stroke="none" stroke-width="0" />
<circle cx="97.30" cy="796.40" r="2.20" fill="#16168c" stroke="none" stroke-width="0" />
<circle cx="99.80" cy="798.40" r="2.20" fill="#16168c" stroke="none" stroke-width="0" />
<circle cx="115.20" cy="848.00" r="2.20" fill="#1e6e1e" stroke="none" stroke-width="0" />
<circle cx="117.90" cy="848.00" r="2.20" fill="#1e6e1e" stroke="none" stroke-width="0" />
<circle cx="120.60" cy="848.00" r="2.20" fill="#1e6e1e" stroke="none" stroke-width="0" />
<circle cx="123.40" cy="848.00" r="2.20" fill="#1e6e1e" stroke="none" stroke-width="0" />
<circle cx="130.40" cy="797.30" r="2.20" fill="#1e6e1e" stroke="none" stroke-width="0" />
<circle cx="132.70" cy="795.00" r="2.20" fill="#1e6e1e" stroke="none" stroke-width="0" />
<circle cx="135.00" cy="796.10" r="2.20" fill="#1e6e1e" stroke="none" stroke-width="0" />
<circle cx="151.40" cy="848.00" r="2.20" fill="#8c8c22" stroke="none" stroke-width="0" />
<circle cx="154.10" cy="848.00" r="2.20" fill="#8c8c22" stroke="none" stroke-width="0" />
<circle cx="156.80" cy="848.00" r="2.20" fill="#8c8c22" stroke="none" stroke-width="0" />
<circle cx="159.60" cy="848.00" r="2.20" fill="#8c8c22" stroke="none" stroke-width="0" />
<circle cx="166.60" cy="793.50" r="2.20" fill="#8c8c22" stroke="none" stroke-width="0" />
<circle cx="168.90" cy="792.60" r="2.20" fill="#8c8c22" stroke="none" stroke-width="0" />
<circle cx="171.20" cy="793.10" r="2.20" fill="#8c8c22" stroke="none" stroke-width="0" />
<line x1="54.90" y1="819.20" x2="54.90" y2="827.80" stroke="#b0b0b0" stroke-width="0.7" />
<line x1="54.90" y1="827.80" x2="54.90" y2="836.50" stroke="#b0b0b0" stroke-width="0.7" />
<line x1="63.90" y1="827.80" x2="63.90" y2="836.50" stroke="#b0b0b0" stroke-width="0.7" />
<line x1="54.90" y1="836.50" x2="54.90" y2="845.60" stroke="#b0b0b0" stroke-width="0.7" />
<line x1="63.90" y1="836.50" x2="63.90" y2="845.60" stroke="#b0b0b0" stroke-width="0.7" />
<line x1="54.90" y1="845.60" x2="59.30" y2="854.20" stroke="#b0b0b0" stroke-width="0.7" />
<line x1="63.90" y1="845.60" x2="59.30" y2="854.20" stroke="#b0b0b0" stroke-width="0.7" />
<line x1="59.30" y1="854.20" x2="59.30" y2="862.90" stroke="#b0b0b0" stroke-width="0.7" />
<line x1="59.30" y1="862.90" x2="59.30" y2="872.00" stroke="#b0b0b0" stroke-width="0.7" />
<path d="M53.00,819.20 L54.90,817.30 L56.80,819.20 L54.90,821.10 Z" fill="#d23ee6"/>
<circle cx="54.90" cy="827.80" r="1.85" fill="#f2f23c" stroke="#9a9a30" stroke-width="0.25" />
<circle cx="63.90" cy="827.80" r="1.85" fill="#f2f23c" stroke="#9a9a30" stroke-width="0.25" />
<rect x="53.15" y="834.75" width="3.50" height="3.50" fill="#1a1af5" stroke="none" stroke-width="0" />
<rect x="62.15" y="834.75" width="3.50" height="3.50" fill="#1a1af5" stroke="none" stroke-width="0" />
<circle cx="54.90" cy="845.60" r="1.85" fill="#44e044" stroke="#3a9a3a" stroke-width="0.25" />
<circle cx="63.90" cy="845.60" r="1.85" fill="#44e044" stroke="#3a9a3a" stroke-width="0.25" />
<circle cx="59.30" cy="854.20" r="1.85" fill="#44e044" stroke="#3a9a3a" stroke-width="0.25" />
<rect x="57.55" y="861.15" width="3.50" height="3.50" fill="#1a1af5" stroke="none" stroke-width="0" />
<rect x="57.55" y="870.25" width="3.50" height="3.50" fill="#1a1af5" stroke="none" stroke-width="0" />
<line x1="92.10" y1="818.60" x2="92.10" y2="827.30" stroke="#b0b0b0" stroke-width="0.7" />
<line x1="92.10" y1="827.30" x2="92.10" y2="836.30" stroke="#b0b0b0" stroke-width="0.7" />
<line x1="100.90" y1="827.30" x2="100.90" y2="836.30" stroke="#b0b0b0" stroke-width="0.7" />
<line x1="92.10" y1="836.30" x2="92.10" y2="845.30" stroke="#b0b0b0" stroke-width="0.7" />
<line x1="100.90" y1="836.30" x2="100.90" y2="845.30" stroke="#b0b0b0" stroke-width="0.7" />
<line x1="92.10" y1="845.30" x2="96.30" y2="853.80" stroke="#b0b0b0" stroke-width="0.7" />
<line x1="100.90" y1="845.30" x2="96.30" y2="853.80" stroke="#b0b0b0" stroke-width="0.7" />
<line x1="96.30" y1="853.80" x2="96.30" y2="862.50" stroke="#b0b0b0" stroke-width="0.7" />
<line x1="96.30" y1="862.50" x2="96.30" y2="871.60" stroke="#b0b0b0" stroke-width="0.7" />
<path d="M90.20,818.60 L92.10,816.70 L94.00,818.60 L92.10,820.50 Z" fill="#d23ee6"/>
<circle cx="92.10" cy="827.30" r="1.85" fill="#f2f23c" stroke="#9a9a30" stroke-width="0.25" />
<circle cx="100.90" cy="827.30" r="1.85" fill="#f2f23c" stroke="#9a9a30" stroke-width="0.25" />
<rect x="90.35" y="834.55" width="3.50" height="3.50" fill="#1a1af5" stroke="none" stroke-width="0" />
<rect x="99.15" y="834.55" width="3.50" height="3.50" fill="#1a1af5" stroke="none" stroke-width="0" />
<circle cx="92.10" cy="845.30" r="1.85" fill="#44e044" stroke="#3a9a3a" stroke-width="0.25" />
<circle cx="100.90" cy="845.30" r="1.85" fill="#44e044" stroke="#3a9a3a" stroke-width="0.25" />
<circle cx="96.30" cy="853.80" r="1.85" fill="#44e044" stroke="#3a9a3a" stroke-width="0.25" />
<rect x="94.55" y="860.75" width="3.50" height="3.50" fill="#1a1af5" stroke="none" stroke-width="0" />
<rect x="94.55" y="869.85" width="3.50" height="3.50" fill="#1a1af5" stroke="none" stroke-width="0" />
<path d="M103.50,871.40 L107.10,869.60 L107.10,873.20 Z" fill="#f21a1a"/>
<line x1="139.70" y1="818.30" x2="139.70" y2="826.20" stroke="#b0b0b0" stroke-width="0.7" />
<line x1="122.20" y1="826.20" x2="122.20" y2="835.60" stroke="#b0b0b0" stroke-width="0.7" />
<line x1="131.10" y1="826.20" x2="131.10" y2="835.60" stroke="#b0b0b0" stroke-width="0.7" />
<line x1="139.70" y1="826.20" x2="139.70" y2="835.60" stroke="#b0b0b0" stroke-width="0.7" />
<line x1="122.20" y1="835.60" x2="126.40" y2="844.50" stroke="#b0b0b0" stroke-width="0.7" />
<line x1="131.10" y1="835.60" x2="126.40" y2="844.50" stroke="#b0b0b0" stroke-width="0.7" />
<line x1="139.70" y1="835.60" x2="139.70" y2="844.50" stroke="#b0b0b0" stroke-width="0.7" />
<line x1="126.40" y1="844.50" x2="133.20" y2="853.10" stroke="#b0b0b0" stroke-width="0.7" />
<line x1="139.70" y1="844.50" x2="133.20" y2="853.10" stroke="#b0b0b0" stroke-width="0.7" />
<line x1="133.20" y1="853.10" x2="133.20" y2="862.00" stroke="#b0b0b0" stroke-width="0.7" />
<line x1="133.20" y1="862.00" x2="133.20" y2="870.90" stroke="#b0b0b0" stroke-width="0.7" />
<path d="M137.80,818.30 L139.70,816.40 L141.60,818.30 L139.70,820.20 Z" fill="#d23ee6"/>
<circle cx="122.20" cy="826.20" r="1.85" fill="#f2f23c" stroke="#9a9a30" stroke-width="0.25" />
<circle cx="131.10" cy="826.20" r="1.85" fill="#f2f23c" stroke="#9a9a30" stroke-width="0.25" />
<circle cx="139.70" cy="826.20" r="1.85" fill="#f2f23c" stroke="#9a9a30" stroke-width="0.25" />
<rect x="120.45" y="833.85" width="3.50" height="3.50" fill="#1a1af5" stroke="none" stroke-width="0" />
<rect x="129.35" y="833.85" width="3.50" height="3.50" fill="#1a1af5" stroke="none" stroke-width="0" />
<rect x="137.95" y="833.85" width="3.50" height="3.50" fill="#1a1af5" stroke="none" stroke-width="0" />
<circle cx="126.40" cy="844.50" r="1.85" fill="#44e044" stroke="#3a9a3a" stroke-width="0.25" />
<circle cx="139.70" cy="844.50" r="1.85" fill="#44e044" stroke="#3a9a3a" stroke-width="0.25" />
<circle cx="133.20" cy="853.10" r="1.85" fill="#44e044" stroke="#3a9a3a" stroke-width="0.25" />
<rect x="131.45" y="860.25" width="3.50" height="3.50" fill="#1a1af5" stroke="none" stroke-width="0" />
<rect x="131.45" y="869.15" width="3.50" height="3.50" fill="#1a1af5" stroke="none" stroke-width="0" />
<line x1="166.60" y1="818.30" x2="166.60" y2="826.20" stroke="#b0b0b0" stroke-width="0.7" />
<line x1="175.20" y1="818.30" x2="175.20" y2="826.20" stroke="#b0b0b0" stroke-width="0.7" />
<line x1="157.70" y1="826.20" x2="157.70" y2="835.60" stroke="#b0b0b0" stroke-width="0.7" />
<line x1="166.60" y1="826.20" x2="166.60" y2="835.60" stroke="#b0b0b0" stroke-width="0.7" />
<line x1="175.20" y1="826.20" x2="175.20" y2="835.60" stroke="#b0b0b0" stroke-width="0.7" />
<line x1="157.70" y1="835.60" x2="161.90" y2="844.50" stroke="#b0b0b0" stroke-width="0.7" />
<line x1="166.60" y1="835.60" x2="161.90" y2="844.50" stroke="#b0b0b0" stroke-width="0.7" />
<line x1="175.20" y1="835.60" x2="175.20" y2="844.50" stroke="#b0b0b0" stroke-width="0.7" />
<line x1="161.90" y1="844.50" x2="168.90" y2="853.10" stroke="#b0b0b0" stroke-width="0.7" />
<line x1="175.20" y1="844.50" x2="168.90" y2="853.10" stroke="#b0b0b0" stroke-width="0.7" />
<line x1="168.90" y1="853.10" x2="168.90" y2="862.00" stroke="#b0b0b0" stroke-width="0.7" />
<line x1="168.90" y1="862.00" x2="168.90" y2="870.90" stroke="#b0b0b0" stroke-width="0.7" />
<path d="M164.70,818.30 L166.60,816.40 L168.50,818.30 L166.60,820.20 Z" fill="#d23ee6"/>
<path d="M173.30,818.30 L175.20,816.40 L177.10,818.30 L175.20,820.20 Z" fill="#d23ee6"/>
<circle cx="157.70" cy="826.20" r="1.85" fill="#f2f23c" stroke="#9a9a30" stroke-width="0.25" />
<circle cx="166.60" cy="826.20" r="1.85" fill="#f2f23c" stroke="#9a9a30" stroke-width="0.25" />
<circle cx="175.20" cy="826.20" r="1.85" fill="#f2f23c" stroke="#9a9a30" stroke-width="0.25" />
<rect x="155.95" y="833.85" width="3.50" height="3.50" fill="#1a1af5" stroke="none" stroke-width="0" />
<rect x="164.85" y="833.85" width="3.50" height="3.50" fill="#1a1af5" stroke="none" stroke-width="0" />
<rect x="173.45" y="833.85" width="3.50" height="3.50" fill="#1a1af5" stroke="none" stroke-width="0" />
<circle cx="161.90" cy="844.50" r="1.85" fill="#44e044" stroke="#3a9a3a" stroke-width="0.25" />
<circle cx="175.20" cy="844.50" r="1.85" fill="#44e044" stroke="#3a9a3a" stroke-width="0.25" />
<circle cx="168.90" cy="853.10" r="1.85" fill="#44e044" stroke="#3a9a3a" stroke-width="0.25" />
<rect x="167.15" y="860.25" width="3.50" height="3.50" fill="#1a1af5" stroke="none" stroke-width="0" />
<rect x="167.15" y="869.15" width="3.50" height="3.50" fill="#1a1af5" stroke="none" stroke-width="0" />
<circle cx="186.90" cy="823.90" r="2.30" fill="#a51b1b" stroke="none" stroke-width="0" />
<text x="199.30" y="827.14" font-size="9.0" text-anchor="start" font-weight="normal" fill="#111" stroke="#111" stroke-width="0.18" font-family='"Liberation Sans", sans-serif' >H(5)N(4)A(1)</text>
<circle cx="186.90" cy="838.20" r="2.30" fill="#16168c" stroke="none" stroke-width="0" />
<text x="199.30" y="841.44" font-size="9.0" text-anchor="start" font-weight="normal" fill="#111" stroke="#111" stroke-width="0.18" font-family='"Liberation Sans", sans-serif' >H(5)N(4)A(1)F(1)</text>
<circle cx="186.90" cy="853.10" r="2.30" fill="#1e6e1e" stroke="none" stroke-width="0" />
<text x="199.30" y="856.34" font-size="9.0" text-anchor="start" font-weight="normal" fill="#111" stroke="#111" stroke-width="0.18" font-family='"Liberation Sans", sans-serif' >H(6)N(5)A(1)</text>
<circle cx="186.90" cy="868.30" r="2.30" fill="#8c8c22" stroke="none" stroke-width="0" />
<text x="199.30" y="871.54" font-size="9.0" text-anchor="start" font-weight="normal" fill="#111" stroke="#111" stroke-width="0.18" font-family='"Liberation Sans", sans-serif' >H(6)N(5)A(2)</text>
<text transform="translate(273.50,764.50) scale(1,1.05)" x="0" y="0" font-size="22.5" fill="#000" font-family='"Liberation Sans", sans-serif'>J</text>
<line x1="309.00" y1="779.90" x2="309.00" y2="892.90" stroke="#111" stroke-width="1.3" />
<line x1="308.40" y1="892.30" x2="476.50" y2="892.30" stroke="#111" stroke-width="1.3" />
<line x1="305.40" y1="780.50" x2="309.00" y2="780.50" stroke="#111" stroke-width="1.3" />
<text x="304.80" y="783.16" font-size="7.4" text-anchor="end" font-weight="bold" fill="#111" stroke="#111" stroke-width="0.18" font-family='"Liberation Sans", sans-serif' >40</text>
<line x1="305.40" y1="808.40" x2="309.00" y2="808.40" stroke="#111" stroke-width="1.3" />
<text x="304.80" y="811.06" font-size="7.4" text-anchor="end" font-weight="bold" fill="#111" stroke="#111" stroke-width="0.18" font-family='"Liberation Sans", sans-serif' >30</text>
<line x1="305.40" y1="836.40" x2="309.00" y2="836.40" stroke="#111" stroke-width="1.3" />
<text x="304.80" y="839.06" font-size="7.4" text-anchor="end" font-weight="bold" fill="#111" stroke="#111" stroke-width="0.18" font-family='"Liberation Sans", sans-serif' >20</text>
<line x1="305.40" y1="864.30" x2="309.00" y2="864.30" stroke="#111" stroke-width="1.3" />
<text x="304.80" y="866.96" font-size="7.4" text-anchor="end" font-weight="bold" fill="#111" stroke="#111" stroke-width="0.18" font-family='"Liberation Sans", sans-serif' >10</text>
<line x1="305.40" y1="892.30" x2="309.00" y2="892.30" stroke="#111" stroke-width="1.3" />
<text x="304.80" y="894.96" font-size="7.4" text-anchor="end" font-weight="bold" fill="#111" stroke="#111" stroke-width="0.18" font-family='"Liberation Sans", sans-serif' >0</text>
<line x1="316.60" y1="892.30" x2="316.60" y2="896.80" stroke="#111" stroke-width="1.3" />
<line x1="326.40" y1="892.30" x2="326.40" y2="896.80" stroke="#111" stroke-width="1.3" />
<line x1="343.80" y1="892.30" x2="343.80" y2="896.80" stroke="#111" stroke-width="1.3" />
<line x1="355.00" y1="892.30" x2="355.00" y2="896.80" stroke="#111" stroke-width="1.3" />
<line x1="372.00" y1="892.30" x2="372.00" y2="896.80" stroke="#111" stroke-width="1.3" />
<line x1="383.20" y1="892.30" x2="383.20" y2="896.80" stroke="#111" stroke-width="1.3" />
<line x1="401.50" y1="892.30" x2="401.50" y2="896.80" stroke="#111" stroke-width="1.3" />
<line x1="412.10" y1="892.30" x2="412.10" y2="896.80" stroke="#111" stroke-width="1.3" />
<line x1="429.70" y1="892.30" x2="429.70" y2="896.80" stroke="#111" stroke-width="1.3" />
<line x1="440.70" y1="892.30" x2="440.70" y2="896.80" stroke="#111" stroke-width="1.3" />
<line x1="458.30" y1="892.30" x2="458.30" y2="896.80" stroke="#111" stroke-width="1.3" />
<line x1="469.30" y1="892.30" x2="469.30" y2="896.80" stroke="#111" stroke-width="1.3" />
<text x="319.20" y="900.80" font-size="7.0" text-anchor="end" font-weight="bold" fill="#111" stroke="#111" stroke-width="0.18" font-family='"Liberation Sans", sans-serif' transform="rotate(-45 319.20 900.80)">NA</text>
<text x="329.00" y="900.80" font-size="7.0" text-anchor="end" font-weight="bold" fill="#111" stroke="#111" stroke-width="0.18" font-family='"Liberation Sans", sans-serif' transform="rotate(-45 329.00 900.80)">CTRL</text>
<text x="346.40" y="900.80" font-size="7.0" text-anchor="end" font-weight="bold" fill="#111" stroke="#111" stroke-width="0.18" font-family='"Liberation Sans", sans-serif' transform="rotate(-45 346.40 900.80)">NA</text>
<text x="357.60" y="900.80" font-size="7.0" text-anchor="end" font-weight="bold" fill="#111" stroke="#111" stroke-width="0.18" font-family='"Liberation Sans", sans-serif' transform="rotate(-45 357.60 900.80)">CTRL</text>
<text x="374.60" y="900.80" font-size="7.0" text-anchor="end" font-weight="bold" fill="#111" stroke="#111" stroke-width="0.18" font-family='"Liberation Sans", sans-serif' transform="rotate(-45 374.60 900.80)">NA</text>
<text x="385.80" y="900.80" font-size="7.0" text-anchor="end" font-weight="bold" fill="#111" stroke="#111" stroke-width="0.18" font-family='"Liberation Sans", sans-serif' transform="rotate(-45 385.80 900.80)">CTRL</text>
<text x="404.10" y="900.80" font-size="7.0" text-anchor="end" font-weight="bold" fill="#111" stroke="#111" stroke-width="0.18" font-family='"Liberation Sans", sans-serif' transform="rotate(-45 404.10 900.80)">NA</text>
<text x="414.70" y="900.80" font-size="7.0" text-anchor="end" font-weight="bold" fill="#111" stroke="#111" stroke-width="0.18" font-family='"Liberation Sans", sans-serif' transform="rotate(-45 414.70 900.80)">CTRL</text>
<text x="432.30" y="900.80" font-size="7.0" text-anchor="end" font-weight="bold" fill="#111" stroke="#111" stroke-width="0.18" font-family='"Liberation Sans", sans-serif' transform="rotate(-45 432.30 900.80)">NA</text>
<text x="443.30" y="900.80" font-size="7.0" text-anchor="end" font-weight="bold" fill="#111" stroke="#111" stroke-width="0.18" font-family='"Liberation Sans", sans-serif' transform="rotate(-45 443.30 900.80)">CTRL</text>
<text x="460.90" y="900.80" font-size="7.0" text-anchor="end" font-weight="bold" fill="#111" stroke="#111" stroke-width="0.18" font-family='"Liberation Sans", sans-serif' transform="rotate(-45 460.90 900.80)">NA</text>
<text x="471.90" y="900.80" font-size="7.0" text-anchor="end" font-weight="bold" fill="#111" stroke="#111" stroke-width="0.18" font-family='"Liberation Sans", sans-serif' transform="rotate(-45 471.90 900.80)">CTRL</text>
<text x="293.20" y="836.90" font-size="7.08" text-anchor="middle" font-weight="bold" fill="#111" stroke="#111" stroke-width="0.18" font-family='"Liberation Sans", sans-serif' transform="rotate(-90 293.2 836.9)">Intensity of LAMP1</text>
<text x="321.30" y="776.89" font-size="7.2" text-anchor="middle" font-weight="normal" fill="#111" stroke="#111" stroke-width="0.18" font-family='"Liberation Sans", sans-serif' >&lt;0.0001</text>
<line x1="316.60" y1="780.90" x2="326.40" y2="780.90" stroke="#333" stroke-width="1.3" />
<text x="349.40" y="795.29" font-size="7.2" text-anchor="middle" font-weight="normal" fill="#111" stroke="#111" stroke-width="0.18" font-family='"Liberation Sans", sans-serif' >&lt;0.0001</text>
<line x1="343.80" y1="799.70" x2="355.00" y2="799.70" stroke="#333" stroke-width="1.3" />
<text x="377.80" y="776.89" font-size="7.2" text-anchor="middle" font-weight="normal" fill="#111" stroke="#111" stroke-width="0.18" font-family='"Liberation Sans", sans-serif' >&lt;0.0001</text>
<line x1="372.00" y1="780.90" x2="383.20" y2="780.90" stroke="#333" stroke-width="1.3" />
<text x="406.60" y="758.29" font-size="7.2" text-anchor="middle" font-weight="normal" fill="#111" stroke="#111" stroke-width="0.18" font-family='"Liberation Sans", sans-serif' >&lt;0.0001</text>
<line x1="401.50" y1="762.10" x2="412.10" y2="762.10" stroke="#333" stroke-width="1.3" />
<text x="435.20" y="795.29" font-size="7.2" text-anchor="middle" font-weight="normal" fill="#111" stroke="#111" stroke-width="0.18" font-family='"Liberation Sans", sans-serif' >&lt;0.0001</text>
<line x1="430.10" y1="799.30" x2="440.70" y2="799.30" stroke="#333" stroke-width="1.3" />
<text x="463.50" y="776.89" font-size="7.2" text-anchor="middle" font-weight="normal" fill="#111" stroke="#111" stroke-width="0.18" font-family='"Liberation Sans", sans-serif' >&lt;0.0001</text>
<line x1="458.70" y1="780.90" x2="469.30" y2="780.90" stroke="#333" stroke-width="1.3" />
<ellipse cx="316.20" cy="821.70" rx="3.4" ry="2.3" fill="#a51b1b"/>
<ellipse cx="326.40" cy="814.20" rx="3.4" ry="2.3" fill="#a51b1b"/>
<ellipse cx="344.40" cy="818.10" rx="3.4" ry="2.3" fill="#16168c"/>
<ellipse cx="355.00" cy="810.10" rx="3.4" ry="2.3" fill="#16168c"/>
<ellipse cx="372.80" cy="823.80" rx="3.4" ry="2.3" fill="#1e6e1e"/>
<ellipse cx="383.60" cy="819.70" rx="3.4" ry="2.3" fill="#1e6e1e"/>
<ellipse cx="401.50" cy="826.90" rx="3.4" ry="2.3" fill="#8c8c22"/>
<ellipse cx="412.10" cy="822.40" rx="3.4" ry="2.3" fill="#8c8c22"/>
<ellipse cx="429.20" cy="828.30" rx="2.8" ry="2.2" fill="#235e6c"/>
<ellipse cx="431.20" cy="825.30" rx="2.8" ry="2.2" fill="#235e6c"/>
<ellipse cx="440.70" cy="822.20" rx="3.4" ry="2.3" fill="#235e6c"/>
<ellipse cx="457.70" cy="858.90" rx="3.4" ry="2.3" fill="#333333"/>
<ellipse cx="469.30" cy="822.40" rx="3.4" ry="2.3" fill="#333333"/>
<line x1="319.50" y1="831.40" x2="319.50" y2="838.70" stroke="#b0b0b0" stroke-width="0.616" />
<line x1="319.50" y1="838.70" x2="319.50" y2="845.90" stroke="#b0b0b0" stroke-width="0.616" />
<line x1="319.50" y1="845.90" x2="319.50" y2="853.00" stroke="#b0b0b0" stroke-width="0.616" />
<line x1="326.60" y1="845.90" x2="326.60" y2="853.00" stroke="#b0b0b0" stroke-width="0.616" />
<line x1="319.50" y1="853.00" x2="323.40" y2="860.60" stroke="#b0b0b0" stroke-width="0.616" />
<line x1="326.60" y1="853.00" x2="323.40" y2="860.60" stroke="#b0b0b0" stroke-width="0.616" />
<line x1="323.40" y1="860.60" x2="323.40" y2="867.70" stroke="#b0b0b0" stroke-width="0.616" />
<line x1="323.40" y1="867.70" x2="323.40" y2="874.90" stroke="#b0b0b0" stroke-width="0.616" />
<path d="M317.83,831.40 L319.50,829.73 L321.17,831.40 L319.50,833.07 Z" fill="#d23ee6"/>
<circle cx="319.50" cy="838.70" r="1.63" fill="#f2f23c" stroke="#9a9a30" stroke-width="0.25" />
<rect x="317.96" y="844.36" width="3.08" height="3.08" fill="#1a1af5" stroke="none" stroke-width="0" />
<circle cx="326.60" cy="845.90" r="1.63" fill="#44e044" stroke="#3a9a3a" stroke-width="0.25" />
<circle cx="319.50" cy="853.00" r="1.63" fill="#44e044" stroke="#3a9a3a" stroke-width="0.25" />
<circle cx="326.60" cy="853.00" r="1.63" fill="#44e044" stroke="#3a9a3a" stroke-width="0.25" />
<circle cx="323.40" cy="860.60" r="1.63" fill="#44e044" stroke="#3a9a3a" stroke-width="0.25" />
<rect x="321.86" y="866.16" width="3.08" height="3.08" fill="#1a1af5" stroke="none" stroke-width="0" />
<rect x="321.86" y="873.36" width="3.08" height="3.08" fill="#1a1af5" stroke="none" stroke-width="0" />
<line x1="343.20" y1="831.40" x2="343.20" y2="838.70" stroke="#b0b0b0" stroke-width="0.616" />
<line x1="343.20" y1="838.70" x2="343.20" y2="845.70" stroke="#b0b0b0" stroke-width="0.616" />
<line x1="343.20" y1="845.70" x2="343.20" y2="853.00" stroke="#b0b0b0" stroke-width="0.616" />
<line x1="350.30" y1="845.70" x2="354.00" y2="853.00" stroke="#b0b0b0" stroke-width="0.616" />
<line x1="357.70" y1="845.70" x2="354.00" y2="853.00" stroke="#b0b0b0" stroke-width="0.616" />
<line x1="343.20" y1="853.00" x2="348.50" y2="860.20" stroke="#b0b0b0" stroke-width="0.616" />
<line x1="354.00" y1="853.00" x2="348.50" y2="860.20" stroke="#b0b0b0" stroke-width="0.616" />
<line x1="348.50" y1="860.20" x2="348.50" y2="867.70" stroke="#b0b0b0" stroke-width="0.616" />
<line x1="348.50" y1="867.70" x2="348.50" y2="874.90" stroke="#b0b0b0" stroke-width="0.616" />
<path d="M341.53,831.40 L343.20,829.73 L344.87,831.40 L343.20,833.07 Z" fill="#d23ee6"/>
<circle cx="343.20" cy="838.70" r="1.63" fill="#f2f23c" stroke="#9a9a30" stroke-width="0.25" />
<rect x="341.66" y="844.16" width="3.08" height="3.08" fill="#1a1af5" stroke="none" stroke-width="0" />
<circle cx="350.30" cy="845.70" r="1.63" fill="#44e044" stroke="#3a9a3a" stroke-width="0.25" />
<circle cx="357.70" cy="845.70" r="1.63" fill="#44e044" stroke="#3a9a3a" stroke-width="0.25" />
<circle cx="343.20" cy="853.00" r="1.63" fill="#44e044" stroke="#3a9a3a" stroke-width="0.25" />
<circle cx="354.00" cy="853.00" r="1.63" fill="#44e044" stroke="#3a9a3a" stroke-width="0.25" />
<circle cx="348.50" cy="860.20" r="1.63" fill="#44e044" stroke="#3a9a3a" stroke-width="0.25" />
<rect x="346.96" y="866.16" width="3.08" height="3.08" fill="#1a1af5" stroke="none" stroke-width="0" />
<rect x="346.96" y="873.36" width="3.08" height="3.08" fill="#1a1af5" stroke="none" stroke-width="0" />
<line x1="385.50" y1="831.40" x2="385.50" y2="838.70" stroke="#b0b0b0" stroke-width="0.616" />
<line x1="370.80" y1="838.70" x2="370.80" y2="845.90" stroke="#b0b0b0" stroke-width="0.616" />
<line x1="378.10" y1="838.70" x2="378.10" y2="845.90" stroke="#b0b0b0" stroke-width="0.616" />
<line x1="385.50" y1="838.70" x2="385.50" y2="845.90" stroke="#b0b0b0" stroke-width="0.616" />
<line x1="370.80" y1="845.90" x2="374.40" y2="853.00" stroke="#b0b0b0" stroke-width="0.616" />
<line x1="378.10" y1="845.90" x2="374.40" y2="853.00" stroke="#b0b0b0" stroke-width="0.616" />
<line x1="385.50" y1="845.90" x2="385.50" y2="853.00" stroke="#b0b0b0" stroke-width="0.616" />
<line x1="374.40" y1="853.00" x2="380.00" y2="860.60" stroke="#b0b0b0" stroke-width="0.616" />
<line x1="385.50" y1="853.00" x2="380.00" y2="860.60" stroke="#b0b0b0" stroke-width="0.616" />
<line x1="380.00" y1="860.60" x2="380.00" y2="867.70" stroke="#b0b0b0" stroke-width="0.616" />
<line x1="380.00" y1="867.70" x2="380.00" y2="874.90" stroke="#b0b0b0" stroke-width="0.616" />
<line x1="380.00" y1="874.90" x2="387.70" y2="874.90" stroke="#b0b0b0" stroke-width="0.616" />
<path d="M383.83,831.40 L385.50,829.73 L387.17,831.40 L385.50,833.07 Z" fill="#d23ee6"/>
<circle cx="370.80" cy="838.70" r="1.63" fill="#f2f23c" stroke="#9a9a30" stroke-width="0.25" />
<circle cx="378.10" cy="838.70" r="1.63" fill="#f2f23c" stroke="#9a9a30" stroke-width="0.25" />
<circle cx="385.50" cy="838.70" r="1.63" fill="#f2f23c" stroke="#9a9a30" stroke-width="0.25" />
<rect x="369.26" y="844.36" width="3.08" height="3.08" fill="#1a1af5" stroke="none" stroke-width="0" />
<rect x="376.56" y="844.36" width="3.08" height="3.08" fill="#1a1af5" stroke="none" stroke-width="0" />
<rect x="383.96" y="844.36" width="3.08" height="3.08" fill="#1a1af5" stroke="none" stroke-width="0" />
<circle cx="374.40" cy="853.00" r="1.63" fill="#44e044" stroke="#3a9a3a" stroke-width="0.25" />
<circle cx="385.50" cy="853.00" r="1.63" fill="#44e044" stroke="#3a9a3a" stroke-width="0.25" />
<circle cx="380.00" cy="860.60" r="1.63" fill="#44e044" stroke="#3a9a3a" stroke-width="0.25" />
<rect x="378.46" y="866.16" width="3.08" height="3.08" fill="#1a1af5" stroke="none" stroke-width="0" />
<rect x="378.46" y="873.36" width="3.08" height="3.08" fill="#1a1af5" stroke="none" stroke-width="0" />
<path d="M386.12,874.90 L389.28,873.32 L389.28,876.48 Z" fill="#f21a1a"/>
<line x1="408.60" y1="831.40" x2="408.60" y2="838.70" stroke="#b0b0b0" stroke-width="0.616" />
<line x1="416.00" y1="831.40" x2="416.00" y2="838.70" stroke="#b0b0b0" stroke-width="0.616" />
<line x1="401.00" y1="838.70" x2="401.00" y2="845.70" stroke="#b0b0b0" stroke-width="0.616" />
<line x1="408.60" y1="838.70" x2="408.60" y2="845.70" stroke="#b0b0b0" stroke-width="0.616" />
<line x1="416.00" y1="838.70" x2="416.00" y2="845.70" stroke="#b0b0b0" stroke-width="0.616" />
<line x1="401.00" y1="845.70" x2="405.00" y2="852.80" stroke="#b0b0b0" stroke-width="0.616" />
<line x1="408.60" y1="845.70" x2="405.00" y2="852.80" stroke="#b0b0b0" stroke-width="0.616" />
<line x1="416.00" y1="845.70" x2="416.00" y2="852.80" stroke="#b0b0b0" stroke-width="0.616" />
<line x1="405.00" y1="852.80" x2="410.20" y2="860.20" stroke="#b0b0b0" stroke-width="0.616" />
<line x1="416.00" y1="852.80" x2="410.20" y2="860.20" stroke="#b0b0b0" stroke-width="0.616" />
<line x1="410.20" y1="860.20" x2="410.20" y2="867.70" stroke="#b0b0b0" stroke-width="0.616" />
<line x1="410.20" y1="867.70" x2="410.20" y2="874.90" stroke="#b0b0b0" stroke-width="0.616" />
<line x1="410.20" y1="874.90" x2="417.80" y2="874.90" stroke="#b0b0b0" stroke-width="0.616" />
<path d="M406.93,831.40 L408.60,829.73 L410.27,831.40 L408.60,833.07 Z" fill="#d23ee6"/>
<path d="M414.33,831.40 L416.00,829.73 L417.67,831.40 L416.00,833.07 Z" fill="#d23ee6"/>
<circle cx="401.00" cy="838.70" r="1.63" fill="#f2f23c" stroke="#9a9a30" stroke-width="0.25" />
<circle cx="408.60" cy="838.70" r="1.63" fill="#f2f23c" stroke="#9a9a30" stroke-width="0.25" />
<circle cx="416.00" cy="838.70" r="1.63" fill="#f2f23c" stroke="#9a9a30" stroke-width="0.25" />
<rect x="399.46" y="844.16" width="3.08" height="3.08" fill="#1a1af5" stroke="none" stroke-width="0" />
<rect x="407.06" y="844.16" width="3.08" height="3.08" fill="#1a1af5" stroke="none" stroke-width="0" />
<rect x="414.46" y="844.16" width="3.08" height="3.08" fill="#1a1af5" stroke="none" stroke-width="0" />
<circle cx="405.00" cy="852.80" r="1.63" fill="#44e044" stroke="#3a9a3a" stroke-width="0.25" />
<circle cx="416.00" cy="852.80" r="1.63" fill="#44e044" stroke="#3a9a3a" stroke-width="0.25" />
<circle cx="410.20" cy="860.20" r="1.63" fill="#44e044" stroke="#3a9a3a" stroke-width="0.25" />
<rect x="408.66" y="866.16" width="3.08" height="3.08" fill="#1a1af5" stroke="none" stroke-width="0" />
<rect x="408.66" y="873.36" width="3.08" height="3.08" fill="#1a1af5" stroke="none" stroke-width="0" />
<path d="M416.22,874.90 L419.38,873.32 L419.38,876.48 Z" fill="#f21a1a"/>
<line x1="448.10" y1="831.40" x2="448.10" y2="838.70" stroke="#b0b0b0" stroke-width="0.616" />
<line x1="426.60" y1="838.70" x2="426.60" y2="845.70" stroke="#b0b0b0" stroke-width="0.616" />
<line x1="433.50" y1="838.70" x2="433.50" y2="845.70" stroke="#b0b0b0" stroke-width="0.616" />
<line x1="440.90" y1="838.70" x2="440.90" y2="845.70" stroke="#b0b0b0" stroke-width="0.616" />
<line x1="448.10" y1="838.70" x2="448.10" y2="845.70" stroke="#b0b0b0" stroke-width="0.616" />
<line x1="426.60" y1="845.70" x2="430.10" y2="852.80" stroke="#b0b0b0" stroke-width="0.616" />
<line x1="433.50" y1="845.70" x2="430.10" y2="852.80" stroke="#b0b0b0" stroke-width="0.616" />
<line x1="440.90" y1="845.70" x2="444.60" y2="852.80" stroke="#b0b0b0" stroke-width="0.616" />
<line x1="448.10" y1="845.70" x2="444.60" y2="852.80" stroke="#b0b0b0" stroke-width="0.616" />
<line x1="430.10" y1="852.80" x2="437.40" y2="860.20" stroke="#b0b0b0" stroke-width="0.616" />
<line x1="444.60" y1="852.80" x2="437.40" y2="860.20" stroke="#b0b0b0" stroke-width="0.616" />
<line x1="437.40" y1="860.20" x2="437.40" y2="867.70" stroke="#b0b0b0" stroke-width="0.616" />
<line x1="437.40" y1="867.70" x2="437.40" y2="874.90" stroke="#b0b0b0" stroke-width="0.616" />
<line x1="437.40" y1="874.90" x2="445.00" y2="874.90" stroke="#b0b0b0" stroke-width="0.616" />
<path d="M446.43,831.40 L448.10,829.73 L449.77,831.40 L448.10,833.07 Z" fill="#d23ee6"/>
<circle cx="426.60" cy="838.70" r="1.63" fill="#f2f23c" stroke="#9a9a30" stroke-width="0.25" />
<circle cx="433.50" cy="838.70" r="1.63" fill="#f2f23c" stroke="#9a9a30" stroke-width="0.25" />
<circle cx="440.90" cy="838.70" r="1.63" fill="#f2f23c" stroke="#9a9a30" stroke-width="0.25" />
<circle cx="448.10" cy="838.70" r="1.63" fill="#f2f23c" stroke="#9a9a30" stroke-width="0.25" />
<rect x="425.06" y="844.16" width="3.08" height="3.08" fill="#1a1af5" stroke="none" stroke-width="0" />
<rect x="431.96" y="844.16" width="3.08" height="3.08" fill="#1a1af5" stroke="none" stroke-width="0" />
<rect x="439.36" y="844.16" width="3.08" height="3.08" fill="#1a1af5" stroke="none" stroke-width="0" />
<rect x="446.56" y="844.16" width="3.08" height="3.08" fill="#1a1af5" stroke="none" stroke-width="0" />
<circle cx="430.10" cy="852.80" r="1.63" fill="#44e044" stroke="#3a9a3a" stroke-width="0.25" />
<circle cx="444.60" cy="852.80" r="1.63" fill="#44e044" stroke="#3a9a3a" stroke-width="0.25" />
<circle cx="437.40" cy="860.20" r="1.63" fill="#44e044" stroke="#3a9a3a" stroke-width="0.25" />
<rect x="435.86" y="866.16" width="3.08" height="3.08" fill="#1a1af5" stroke="none" stroke-width="0" />
<rect x="435.86" y="873.36" width="3.08" height="3.08" fill="#1a1af5" stroke="none" stroke-width="0" />
<path d="M443.42,874.90 L446.58,873.32 L446.58,876.48 Z" fill="#f21a1a"/>
<line x1="463.40" y1="831.40" x2="463.40" y2="838.70" stroke="#b0b0b0" stroke-width="0.616" />
<line x1="470.90" y1="831.40" x2="470.90" y2="838.70" stroke="#b0b0b0" stroke-width="0.616" />
<line x1="478.10" y1="831.40" x2="478.10" y2="838.70" stroke="#b0b0b0" stroke-width="0.616" />
<line x1="456.20" y1="838.70" x2="456.20" y2="845.70" stroke="#b0b0b0" stroke-width="0.616" />
<line x1="463.40" y1="838.70" x2="463.40" y2="845.70" stroke="#b0b0b0" stroke-width="0.616" />
<line x1="470.90" y1="838.70" x2="470.90" y2="845.70" stroke="#b0b0b0" stroke-width="0.616" />
<line x1="478.10" y1="838.70" x2="478.10" y2="845.70" stroke="#b0b0b0" stroke-width="0.616" />
<line x1="456.20" y1="845.70" x2="459.70" y2="852.80" stroke="#b0b0b0" stroke-width="0.616" />
<line x1="463.40" y1="845.70" x2="459.70" y2="852.80" stroke="#b0b0b0" stroke-width="0.616" />
<line x1="470.90" y1="845.70" x2="474.40" y2="852.80" stroke="#b0b0b0" stroke-width="0.616" />
<line x1="478.10" y1="845.70" x2="474.40" y2="852.80" stroke="#b0b0b0" stroke-width="0.616" />
<line x1="474.40" y1="852.80" x2="467.30" y2="860.20" stroke="#b0b0b0" stroke-width="0.616" />
<line x1="467.30" y1="860.20" x2="467.30" y2="867.70" stroke="#b0b0b0" stroke-width="0.616" />
<line x1="467.30" y1="867.70" x2="467.30" y2="874.90" stroke="#b0b0b0" stroke-width="0.616" />
<line x1="467.30" y1="874.90" x2="474.60" y2="874.90" stroke="#b0b0b0" stroke-width="0.616" />
<path d="M461.73,831.40 L463.40,829.73 L465.07,831.40 L463.40,833.07 Z" fill="#d23ee6"/>
<path d="M469.23,831.40 L470.90,829.73 L472.57,831.40 L470.90,833.07 Z" fill="#d23ee6"/>
<path d="M476.43,831.40 L478.10,829.73 L479.77,831.40 L478.10,833.07 Z" fill="#d23ee6"/>
<circle cx="456.20" cy="838.70" r="1.63" fill="#f2f23c" stroke="#9a9a30" stroke-width="0.25" />
<circle cx="463.40" cy="838.70" r="1.63" fill="#f2f23c" stroke="#9a9a30" stroke-width="0.25" />
<circle cx="470.90" cy="838.70" r="1.63" fill="#f2f23c" stroke="#9a9a30" stroke-width="0.25" />
<circle cx="478.10" cy="838.70" r="1.63" fill="#f2f23c" stroke="#9a9a30" stroke-width="0.25" />
<rect x="454.66" y="844.16" width="3.08" height="3.08" fill="#1a1af5" stroke="none" stroke-width="0" />
<rect x="461.86" y="844.16" width="3.08" height="3.08" fill="#1a1af5" stroke="none" stroke-width="0" />
<rect x="469.36" y="844.16" width="3.08" height="3.08" fill="#1a1af5" stroke="none" stroke-width="0" />
<rect x="476.56" y="844.16" width="3.08" height="3.08" fill="#1a1af5" stroke="none" stroke-width="0" />
<circle cx="459.70" cy="852.80" r="1.63" fill="#44e044" stroke="#3a9a3a" stroke-width="0.25" />
<circle cx="474.40" cy="852.80" r="1.63" fill="#44e044" stroke="#3a9a3a" stroke-width="0.25" />
<circle cx="467.30" cy="860.20" r="1.63" fill="#44e044" stroke="#3a9a3a" stroke-width="0.25" />
<rect x="465.76" y="866.16" width="3.08" height="3.08" fill="#1a1af5" stroke="none" stroke-width="0" />
<rect x="465.76" y="873.36" width="3.08" height="3.08" fill="#1a1af5" stroke="none" stroke-width="0" />
<path d="M473.02,874.90 L476.18,873.32 L476.18,876.48 Z" fill="#f21a1a"/>
<circle cx="485.90" cy="815.30" r="1.90" fill="#a51b1b" stroke="none" stroke-width="0" />
<text x="495.60" y="817.96" font-size="7.4" text-anchor="start" font-weight="normal" fill="#111" stroke="#111" stroke-width="0.18" font-family='"Liberation Sans", sans-serif' >H(5)N(3)A(1)</text>
<circle cx="485.90" cy="826.90" r="1.90" fill="#16168c" stroke="none" stroke-width="0" />
<text x="495.60" y="829.56" font-size="7.4" text-anchor="start" font-weight="normal" fill="#111" stroke="#111" stroke-width="0.18" font-family='"Liberation Sans", sans-serif' >H(6)N(3)A(1)</text>
<circle cx="485.90" cy="838.60" r="1.90" fill="#1e6e1e" stroke="none" stroke-width="0" />
<text x="495.60" y="841.26" font-size="7.4" text-anchor="start" font-weight="normal" fill="#111" stroke="#111" stroke-width="0.18" font-family='"Liberation Sans", sans-serif' >H(6)N(5)A(1)F(1)</text>
<circle cx="485.90" cy="850.20" r="1.90" fill="#8c8c22" stroke="none" stroke-width="0" />
<text x="495.60" y="852.86" font-size="7.4" text-anchor="start" font-weight="normal" fill="#111" stroke="#111" stroke-width="0.18" font-family='"Liberation Sans", sans-serif' >H(6)N(5)A(2)F(1)</text>
<circle cx="485.90" cy="862.10" r="1.90" fill="#235e6c" stroke="none" stroke-width="0" />
<text x="495.60" y="864.76" font-size="7.4" text-anchor="start" font-weight="normal" fill="#111" stroke="#111" stroke-width="0.18" font-family='"Liberation Sans", sans-serif' >H(7)N(6)A(1)F(1)</text>
<circle cx="485.90" cy="873.70" r="1.90" fill="#333333" stroke="none" stroke-width="0" />
<text x="495.60" y="876.36" font-size="7.4" text-anchor="start" font-weight="normal" fill="#111" stroke="#111" stroke-width="0.18" font-family='"Liberation Sans", sans-serif' >H(7)N(6)A(3)F(1)</text>
<rect x="30.10" y="942.90" width="13.20" height="13.20" fill="#1212f5" stroke="#111" stroke-width="0.9" />
<text x="51.30" y="953.50" font-size="10.5" text-anchor="start" font-weight="normal" fill="#111" font-family='"Liberation Sans", sans-serif' >GlcNAc</text>
<circle cx="129.70" cy="950.30" r="6.80" fill="#44e044" stroke="#111" stroke-width="0.9" />
<text x="143.80" y="953.50" font-size="10.5" text-anchor="start" font-weight="normal" fill="#111" font-family='"Liberation Sans", sans-serif' >Mannose</text>
<circle cx="223.50" cy="950.30" r="6.80" fill="#f2f23c" stroke="#111" stroke-width="0.9" />
<text x="238.40" y="953.50" font-size="10.5" text-anchor="start" font-weight="normal" fill="#111" font-family='"Liberation Sans", sans-serif' >Galactose</text>
<path d="M309.2,950.3 L317.5,942.1 L325.8,950.3 L317.5,958.5 Z" fill="#d23ee6" stroke="#111" stroke-width="0.9"/>
<text x="333.00" y="953.50" font-size="10.5" text-anchor="start" font-weight="normal" fill="#111" font-family='"Liberation Sans", sans-serif' >Neu5Ac</text>
<path d="M402.3,955.6 L416.3,955.6 L409.3,941.6 Z" fill="#f21a1a" stroke="#111" stroke-width="0.9" stroke-linejoin="miter"/>
<text x="423.70" y="953.50" font-size="10.5" text-anchor="start" font-weight="normal" fill="#111" font-family='"Liberation Sans", sans-serif' >Fucose</text>
</svg>
</body></html>
